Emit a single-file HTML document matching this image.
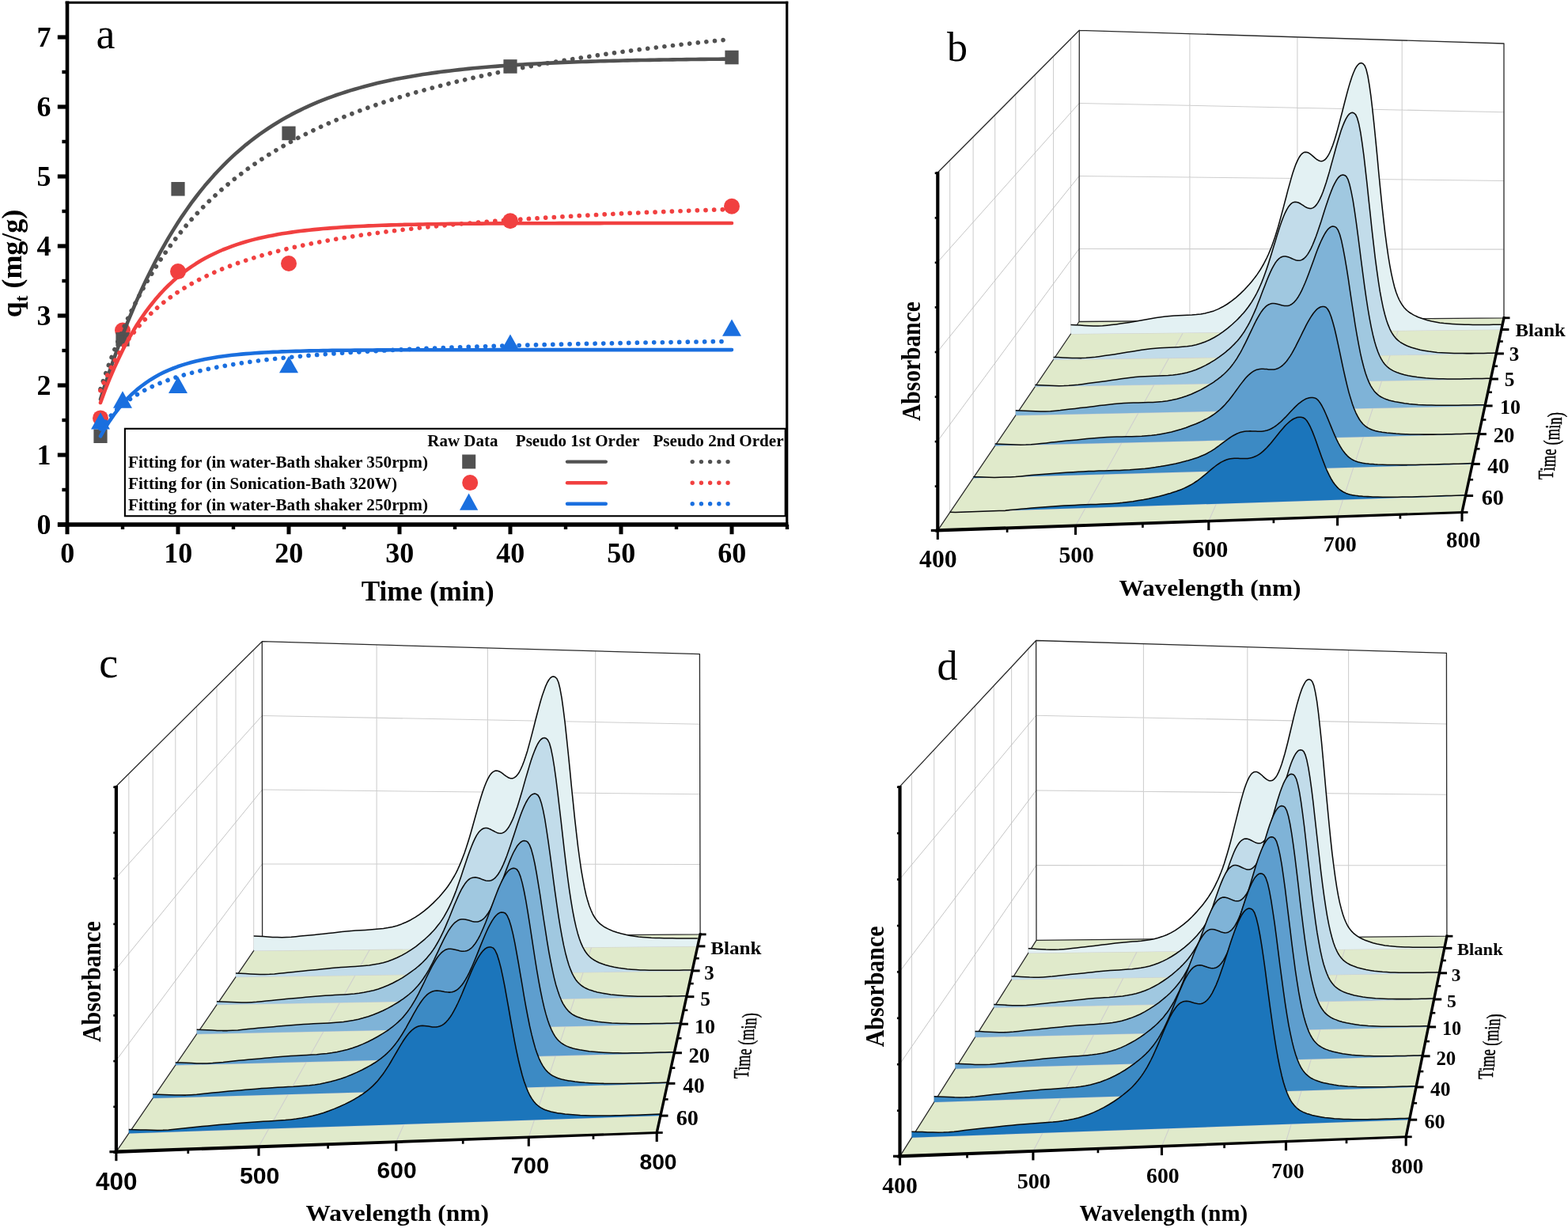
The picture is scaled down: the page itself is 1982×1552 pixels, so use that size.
<!DOCTYPE html>
<html lang="en"><head><meta charset="utf-8"><title>Adsorption kinetics and UV-Vis spectra</title>
<style>
html,body{margin:0;padding:0;background:#fff}
body{width:1982px;height:1552px;overflow:hidden}
svg{display:block}
.fs{font-family:"Liberation Serif","DejaVu Serif",serif}
.fa{font-family:"Liberation Sans","DejaVu Sans",sans-serif}
.b{font-weight:bold}
text{fill:#000}
</style></head><body>
<svg width="1982" height="1552" viewBox="0 0 1982 1552">
<rect width="1982" height="1552" fill="#fff"/>
<g id="panel-a">
<circle cx="127" cy="528.4" r="10" fill="#F14040"/>
<circle cx="155" cy="417.5" r="10" fill="#F14040"/>
<circle cx="225" cy="343.1" r="10" fill="#F14040"/>
<circle cx="365" cy="333" r="10" fill="#F14040"/>
<circle cx="645" cy="279.3" r="10" fill="#F14040"/>
<circle cx="925" cy="260.8" r="10" fill="#F14040"/>
<rect x="118.4" y="542.4" width="17.2" height="17.6" fill="#515151"/>
<rect x="146.4" y="420.1" width="17.2" height="17.6" fill="#515151"/>
<rect x="216.4" y="230" width="17.2" height="17.6" fill="#515151"/>
<rect x="356.4" y="159.6" width="17.2" height="17.6" fill="#515151"/>
<rect x="636.4" y="75.16" width="17.2" height="17.6" fill="#515151"/>
<rect x="916.4" y="63.72" width="17.2" height="17.6" fill="#515151"/>
<path d="M127 521.2 L139 542.6 L115 542.6 Z" fill="#1A6FDF"/>
<path d="M155 494.3 L167 515.7 L143 515.7 Z" fill="#1A6FDF"/>
<path d="M225 475.5 L237 496.9 L213 496.9 Z" fill="#1A6FDF"/>
<path d="M365 449.9 L377 471.3 L353 471.3 Z" fill="#1A6FDF"/>
<path d="M645 422.4 L657 443.8 L633 443.8 Z" fill="#1A6FDF"/>
<path d="M925 403.4 L937 424.8 L913 424.8 Z" fill="#1A6FDF"/>
<path d="M127 504.6 L132.7 486.5 L138.5 469.2 L144.2 452.7 L150 436.8 L155.7 421.6 L161.4 407 L167.2 393 L172.9 379.6 L178.7 366.8 L184.4 354.5 L190.2 342.8 L195.9 331.5 L201.6 320.7 L207.4 310.3 L213.1 300.4 L218.9 290.9 L224.6 281.8 L230.3 273.1 L236.1 264.7 L241.8 256.7 L247.6 249 L253.3 241.7 L259 234.6 L264.8 227.9 L270.5 221.4 L276.3 215.2 L282 209.3 L287.7 203.6 L293.5 198.1 L299.2 192.9 L305 187.9 L310.7 183.1 L316.5 178.5 L322.2 174.1 L327.9 169.9 L333.7 165.9 L339.4 162 L345.2 158.3 L350.9 154.7 L356.6 151.3 L362.4 148.1 L368.1 144.9 L373.9 141.9 L379.6 139.1 L385.3 136.3 L391.1 133.7 L396.8 131.2 L402.6 128.7 L408.3 126.4 L414.1 124.2 L419.8 122.1 L425.5 120 L431.3 118.1 L437 116.2 L442.8 114.4 L448.5 112.7 L454.2 111.1 L460 109.5 L465.7 108 L471.5 106.5 L477.2 105.1 L482.9 103.8 L488.7 102.5 L494.4 101.3 L500.2 100.1 L505.9 99.03 L511.6 97.96 L517.4 96.93 L523.1 95.94 L528.9 95 L534.6 94.09 L540.4 93.23 L546.1 92.4 L551.8 91.6 L557.6 90.84 L563.3 90.11 L569.1 89.41 L574.8 88.74 L580.5 88.1 L586.3 87.48 L592 86.89 L597.8 86.33 L603.5 85.79 L609.2 85.27 L615 84.77 L620.7 84.29 L626.5 83.84 L632.2 83.4 L637.9 82.98 L643.7 82.58 L649.4 82.2 L655.2 81.83 L660.9 81.48 L666.7 81.14 L672.4 80.81 L678.1 80.5 L683.9 80.21 L689.6 79.92 L695.4 79.65 L701.1 79.39 L706.8 79.14 L712.6 78.9 L718.3 78.67 L724.1 78.45 L729.8 78.23 L735.5 78.03 L741.3 77.84 L747 77.65 L752.8 77.47 L758.5 77.3 L764.3 77.14 L770 76.98 L775.7 76.83 L781.5 76.69 L787.2 76.55 L793 76.42 L798.7 76.29 L804.4 76.17 L810.2 76.06 L815.9 75.94 L821.7 75.84 L827.4 75.74 L833.1 75.64 L838.9 75.54 L844.6 75.45 L850.4 75.37 L856.1 75.29 L861.8 75.21 L867.6 75.13 L873.3 75.06 L879.1 74.99 L884.8 74.92 L890.6 74.86 L896.3 74.8 L902 74.74 L907.8 74.68 L913.5 74.63 L919.3 74.58 L925 74.53" fill="none" stroke="#515151" stroke-width="4.6" stroke-linejoin="round" stroke-linecap="round"/>
<path d="M127 491.8 L132.7 474.7 L138.4 458.7 L144.1 443.7 L149.8 429.5 L155.5 416.1 L161.2 403.4 L166.9 391.4 L172.6 380.1 L178.3 369.3 L184 359 L189.7 349.3 L195.3 340 L201 331.1 L206.7 322.6 L212.4 314.5 L218.1 306.7 L223.8 299.3 L229.5 292.2 L235.2 285.3 L240.9 278.7 L246.6 272.4 L252.3 266.4 L258 260.5 L263.7 254.9 L269.4 249.4 L275.1 244.2 L280.8 239.1 L286.5 234.3 L292.2 229.5 L297.9 225 L303.6 220.6 L309.3 216.3 L315 212.1 L320.7 208.1 L326.3 204.2 L332 200.5 L337.7 196.8 L343.4 193.2 L349.1 189.8 L354.8 186.4 L360.5 183.2 L366.2 180 L371.9 176.9 L377.6 173.9 L383.3 171 L389 168.1 L394.7 165.4 L400.4 162.7 L406.1 160 L411.8 157.5 L417.5 154.9 L423.2 152.5 L428.9 150.1 L434.6 147.8 L440.3 145.5 L446 143.3 L451.7 141.1 L457.3 139 L463 136.9 L468.7 134.9 L474.4 132.9 L480.1 130.9 L485.8 129 L491.5 127.2 L497.2 125.4 L502.9 123.6 L508.6 121.8 L514.3 120.1 L520 118.4 L525.7 116.8 L531.4 115.2 L537.1 113.6 L542.8 112 L548.5 110.5 L554.2 109 L559.9 107.6 L565.6 106.1 L571.3 104.7 L577 103.3 L582.7 102 L588.4 100.6 L594 99.32 L599.7 98.03 L605.4 96.77 L611.1 95.52 L616.8 94.3 L622.5 93.1 L628.2 91.92 L633.9 90.75 L639.6 89.61 L645.3 88.49 L651 87.38 L656.7 86.29 L662.4 85.22 L668.1 84.17 L673.8 83.13 L679.5 82.11 L685.2 81.11 L690.9 80.12 L696.6 79.14 L702.3 78.18 L708 77.24 L713.7 76.31 L719.4 75.39 L725 74.49 L730.7 73.6 L736.4 72.72 L742.1 71.86 L747.8 71.01 L753.5 70.17 L759.2 69.34 L764.9 68.52 L770.6 67.72 L776.3 66.92 L782 66.14 L787.7 65.37 L793.4 64.61 L799.1 63.85 L804.8 63.11 L810.5 62.38 L816.2 61.66 L821.9 60.95 L827.6 60.24 L833.3 59.55 L839 58.86 L844.7 58.19 L850.4 57.52 L856 56.86 L861.7 56.21 L867.4 55.57 L873.1 54.93 L878.8 54.3 L884.5 53.68 L890.2 53.07 L895.9 52.47 L901.6 51.87 L907.3 51.28 L913 50.7 L918.7 50.12" fill="none" stroke="#515151" stroke-width="5.7" stroke-dasharray="0.01 10.65" stroke-linecap="round" stroke-linejoin="round"/>
<path d="M127 509 L132.7 493.5 L138.5 479 L144.2 465.6 L150 453 L155.7 441.3 L161.4 430.4 L167.2 420.3 L172.9 410.8 L178.7 402 L184.4 393.8 L190.2 386.2 L195.9 379.1 L201.6 372.4 L207.4 366.2 L213.1 360.5 L218.9 355.1 L224.6 350.1 L230.3 345.5 L236.1 341.1 L241.8 337.1 L247.6 333.3 L253.3 329.8 L259 326.5 L264.8 323.5 L270.5 320.7 L276.3 318 L282 315.5 L287.7 313.3 L293.5 311.1 L299.2 309.1 L305 307.3 L310.7 305.5 L316.5 303.9 L322.2 302.4 L327.9 301 L333.7 299.7 L339.4 298.5 L345.2 297.4 L350.9 296.3 L356.6 295.3 L362.4 294.4 L368.1 293.6 L373.9 292.8 L379.6 292 L385.3 291.4 L391.1 290.7 L396.8 290.1 L402.6 289.6 L408.3 289 L414.1 288.6 L419.8 288.1 L425.5 287.7 L431.3 287.3 L437 286.9 L442.8 286.6 L448.5 286.3 L454.2 286 L460 285.7 L465.7 285.4 L471.5 285.2 L477.2 285 L482.9 284.8 L488.7 284.6 L494.4 284.4 L500.2 284.2 L505.9 284.1 L511.6 283.9 L517.4 283.8 L523.1 283.7 L528.9 283.6 L534.6 283.5 L540.4 283.3 L546.1 283.3 L551.8 283.2 L557.6 283.1 L563.3 283 L569.1 282.9 L574.8 282.9 L580.5 282.8 L586.3 282.7 L592 282.7 L597.8 282.6 L603.5 282.6 L609.2 282.6 L615 282.5 L620.7 282.5 L626.5 282.4 L632.2 282.4 L637.9 282.4 L643.7 282.3 L649.4 282.3 L655.2 282.3 L660.9 282.3 L666.7 282.3 L672.4 282.2 L678.1 282.2 L683.9 282.2 L689.6 282.2 L695.4 282.2 L701.1 282.2 L706.8 282.1 L712.6 282.1 L718.3 282.1 L724.1 282.1 L729.8 282.1 L735.5 282.1 L741.3 282.1 L747 282.1 L752.8 282.1 L758.5 282.1 L764.3 282 L770 282 L775.7 282 L781.5 282 L787.2 282 L793 282 L798.7 282 L804.4 282 L810.2 282 L815.9 282 L821.7 282 L827.4 282 L833.1 282 L838.9 282 L844.6 282 L850.4 282 L856.1 282 L861.8 282 L867.6 282 L873.3 282 L879.1 282 L884.8 282 L890.6 282 L896.3 282 L902 282 L907.8 282 L913.5 282 L919.3 282 L925 282" fill="none" stroke="#F14040" stroke-width="4.6" stroke-linejoin="round" stroke-linecap="round"/>
<path d="M127 493.6 L132.7 480.4 L138.4 468.5 L144.1 457.6 L149.8 447.8 L155.5 438.7 L161.2 430.4 L166.9 422.8 L172.6 415.7 L178.3 409.1 L184 403 L189.7 397.3 L195.3 392 L201 387 L206.7 382.3 L212.4 377.9 L218.1 373.7 L223.8 369.8 L229.5 366.1 L235.2 362.6 L240.9 359.3 L246.6 356.1 L252.3 353.1 L258 350.2 L263.7 347.5 L269.4 344.9 L275.1 342.4 L280.8 340 L286.5 337.8 L292.2 335.6 L297.9 333.5 L303.6 331.5 L309.3 329.6 L315 327.7 L320.7 325.9 L326.3 324.2 L332 322.6 L337.7 321 L343.4 319.4 L349.1 317.9 L354.8 316.5 L360.5 315.1 L366.2 313.8 L371.9 312.5 L377.6 311.2 L383.3 310 L389 308.8 L394.7 307.7 L400.4 306.6 L406.1 305.5 L411.8 304.5 L417.5 303.4 L423.2 302.5 L428.9 301.5 L434.6 300.6 L440.3 299.7 L446 298.8 L451.7 297.9 L457.3 297.1 L463 296.3 L468.7 295.5 L474.4 294.7 L480.1 294 L485.8 293.2 L491.5 292.5 L497.2 291.8 L502.9 291.1 L508.6 290.4 L514.3 289.8 L520 289.2 L525.7 288.5 L531.4 287.9 L537.1 287.3 L542.8 286.7 L548.5 286.2 L554.2 285.6 L559.9 285.1 L565.6 284.5 L571.3 284 L577 283.5 L582.7 283 L588.4 282.5 L594 282 L599.7 281.5 L605.4 281.1 L611.1 280.6 L616.8 280.2 L622.5 279.7 L628.2 279.3 L633.9 278.9 L639.6 278.5 L645.3 278.1 L651 277.7 L656.7 277.3 L662.4 276.9 L668.1 276.5 L673.8 276.1 L679.5 275.8 L685.2 275.4 L690.9 275 L696.6 274.7 L702.3 274.4 L708 274 L713.7 273.7 L719.4 273.4 L725 273 L730.7 272.7 L736.4 272.4 L742.1 272.1 L747.8 271.8 L753.5 271.5 L759.2 271.2 L764.9 270.9 L770.6 270.7 L776.3 270.4 L782 270.1 L787.7 269.8 L793.4 269.6 L799.1 269.3 L804.8 269.1 L810.5 268.8 L816.2 268.5 L821.9 268.3 L827.6 268.1 L833.3 267.8 L839 267.6 L844.7 267.3 L850.4 267.1 L856 266.9 L861.7 266.7 L867.4 266.4 L873.1 266.2 L878.8 266 L884.5 265.8 L890.2 265.6 L895.9 265.4 L901.6 265.2 L907.3 265 L913 264.8 L918.7 264.6" fill="none" stroke="#F14040" stroke-width="5.7" stroke-dasharray="0.01 10.65" stroke-linecap="round" stroke-linejoin="round"/>
<path d="M127 551.3 L132.7 541.2 L138.5 532.1 L144.2 523.9 L150 516.3 L155.7 509.5 L161.4 503.3 L167.2 497.7 L172.9 492.6 L178.7 488 L184.4 483.8 L190.2 479.9 L195.9 476.5 L201.6 473.3 L207.4 470.4 L213.1 467.8 L218.9 465.5 L224.6 463.3 L230.3 461.4 L236.1 459.6 L241.8 458 L247.6 456.5 L253.3 455.2 L259 454 L264.8 452.9 L270.5 451.9 L276.3 451 L282 450.2 L287.7 449.5 L293.5 448.8 L299.2 448.2 L305 447.6 L310.7 447.1 L316.5 446.7 L322.2 446.2 L327.9 445.9 L333.7 445.5 L339.4 445.2 L345.2 444.9 L350.9 444.7 L356.6 444.4 L362.4 444.2 L368.1 444 L373.9 443.9 L379.6 443.7 L385.3 443.5 L391.1 443.4 L396.8 443.3 L402.6 443.2 L408.3 443.1 L414.1 443 L419.8 442.9 L425.5 442.8 L431.3 442.8 L437 442.7 L442.8 442.7 L448.5 442.6 L454.2 442.6 L460 442.5 L465.7 442.5 L471.5 442.5 L477.2 442.4 L482.9 442.4 L488.7 442.4 L494.4 442.3 L500.2 442.3 L505.9 442.3 L511.6 442.3 L517.4 442.3 L523.1 442.3 L528.9 442.2 L534.6 442.2 L540.4 442.2 L546.1 442.2 L551.8 442.2 L557.6 442.2 L563.3 442.2 L569.1 442.2 L574.8 442.2 L580.5 442.2 L586.3 442.2 L592 442.2 L597.8 442.2 L603.5 442.2 L609.2 442.2 L615 442.2 L620.7 442.1 L626.5 442.1 L632.2 442.1 L637.9 442.1 L643.7 442.1 L649.4 442.1 L655.2 442.1 L660.9 442.1 L666.7 442.1 L672.4 442.1 L678.1 442.1 L683.9 442.1 L689.6 442.1 L695.4 442.1 L701.1 442.1 L706.8 442.1 L712.6 442.1 L718.3 442.1 L724.1 442.1 L729.8 442.1 L735.5 442.1 L741.3 442.1 L747 442.1 L752.8 442.1 L758.5 442.1 L764.3 442.1 L770 442.1 L775.7 442.1 L781.5 442.1 L787.2 442.1 L793 442.1 L798.7 442.1 L804.4 442.1 L810.2 442.1 L815.9 442.1 L821.7 442.1 L827.4 442.1 L833.1 442.1 L838.9 442.1 L844.6 442.1 L850.4 442.1 L856.1 442.1 L861.8 442.1 L867.6 442.1 L873.3 442.1 L879.1 442.1 L884.8 442.1 L890.6 442.1 L896.3 442.1 L902 442.1 L907.8 442.1 L913.5 442.1 L919.3 442.1 L925 442.1" fill="none" stroke="#1A6FDF" stroke-width="4.6" stroke-linejoin="round" stroke-linecap="round"/>
<path d="M127 541.8 L132.7 534.1 L138.4 527.3 L144.1 521.2 L149.8 515.8 L155.5 511 L161.2 506.6 L166.9 502.6 L172.6 499 L178.3 495.6 L184 492.6 L189.7 489.8 L195.3 487.1 L201 484.7 L206.7 482.5 L212.4 480.4 L218.1 478.4 L223.8 476.5 L229.5 474.8 L235.2 473.2 L240.9 471.6 L246.6 470.2 L252.3 468.8 L258 467.5 L263.7 466.3 L269.4 465.1 L275.1 464 L280.8 463 L286.5 461.9 L292.2 461 L297.9 460.1 L303.6 459.2 L309.3 458.3 L315 457.5 L320.7 456.8 L326.3 456 L332 455.3 L337.7 454.6 L343.4 454 L349.1 453.3 L354.8 452.7 L360.5 452.1 L366.2 451.5 L371.9 451 L377.6 450.5 L383.3 449.9 L389 449.4 L394.7 449 L400.4 448.5 L406.1 448.1 L411.8 447.6 L417.5 447.2 L423.2 446.8 L428.9 446.4 L434.6 446 L440.3 445.6 L446 445.3 L451.7 444.9 L457.3 444.6 L463 444.2 L468.7 443.9 L474.4 443.6 L480.1 443.3 L485.8 443 L491.5 442.7 L497.2 442.4 L502.9 442.1 L508.6 441.8 L514.3 441.6 L520 441.3 L525.7 441 L531.4 440.8 L537.1 440.5 L542.8 440.3 L548.5 440.1 L554.2 439.9 L559.9 439.6 L565.6 439.4 L571.3 439.2 L577 439 L582.7 438.8 L588.4 438.6 L594 438.4 L599.7 438.2 L605.4 438 L611.1 437.8 L616.8 437.7 L622.5 437.5 L628.2 437.3 L633.9 437.1 L639.6 437 L645.3 436.8 L651 436.7 L656.7 436.5 L662.4 436.3 L668.1 436.2 L673.8 436 L679.5 435.9 L685.2 435.8 L690.9 435.6 L696.6 435.5 L702.3 435.3 L708 435.2 L713.7 435.1 L719.4 434.9 L725 434.8 L730.7 434.7 L736.4 434.6 L742.1 434.4 L747.8 434.3 L753.5 434.2 L759.2 434.1 L764.9 434 L770.6 433.9 L776.3 433.8 L782 433.7 L787.7 433.5 L793.4 433.4 L799.1 433.3 L804.8 433.2 L810.5 433.1 L816.2 433 L821.9 432.9 L827.6 432.8 L833.3 432.8 L839 432.7 L844.7 432.6 L850.4 432.5 L856 432.4 L861.7 432.3 L867.4 432.2 L873.1 432.1 L878.8 432 L884.5 432 L890.2 431.9 L895.9 431.8 L901.6 431.7 L907.3 431.6 L913 431.6 L918.7 431.5" fill="none" stroke="#1A6FDF" stroke-width="5.7" stroke-dasharray="0.01 10.65" stroke-linecap="round" stroke-linejoin="round"/>
<rect x="157.9" y="541.8" width="834.8" height="110.4" fill="#fff" stroke="#000" stroke-width="2.1"/>
<text class="fs b" x="540.3" y="564.3" font-size="21.3" textLength="89.2" lengthAdjust="spacingAndGlyphs">Raw Data</text>
<text class="fs b" x="651.8" y="564.3" font-size="21.3" textLength="156.5" lengthAdjust="spacingAndGlyphs">Pseudo 1st Order</text>
<text class="fs b" x="825.5" y="564.3" font-size="21.3" textLength="165" lengthAdjust="spacingAndGlyphs">Pseudo 2nd Order</text>
<text class="fs b" x="162" y="591.3" font-size="21.3" textLength="379" lengthAdjust="spacingAndGlyphs">Fitting for (in water-Bath shaker 350rpm)</text>
<line x1="717" y1="583.6" x2="765.8" y2="583.6" stroke="#515151" stroke-width="4.4" stroke-linecap="round"/>
<path d="M875.2 583.6 L921 583.6" fill="none" stroke="#515151" stroke-width="5.4" stroke-dasharray="0.01 11.2" stroke-linecap="round"/>
<text class="fs b" x="162" y="618" font-size="21.3" textLength="340" lengthAdjust="spacingAndGlyphs">Fitting for (in Sonication-Bath 320W)</text>
<line x1="717" y1="610.2" x2="765.8" y2="610.2" stroke="#F14040" stroke-width="4.4" stroke-linecap="round"/>
<path d="M875.2 610.2 L921 610.2" fill="none" stroke="#F14040" stroke-width="5.4" stroke-dasharray="0.01 11.2" stroke-linecap="round"/>
<text class="fs b" x="162" y="645" font-size="21.3" textLength="379" lengthAdjust="spacingAndGlyphs">Fitting for (in water-Bath shaker 250rpm)</text>
<line x1="717" y1="636.8" x2="765.8" y2="636.8" stroke="#1A6FDF" stroke-width="4.4" stroke-linecap="round"/>
<path d="M875.2 636.8 L921 636.8" fill="none" stroke="#1A6FDF" stroke-width="5.4" stroke-dasharray="0.01 11.2" stroke-linecap="round"/>
<rect x="584.2" y="574.5" width="17" height="17.9" fill="#515151"/>
<circle cx="594.2" cy="610.1" r="10" fill="#F14040"/>
<path d="M592.6 623.6 L604.2 644.7 L581 644.7 Z" fill="#1A6FDF"/>
<line x1="85" y1="1.5" x2="85" y2="665.7" stroke="#000" stroke-width="4.6"/>
<line x1="82.7" y1="3.2" x2="996.2" y2="3.2" stroke="#000" stroke-width="3"/>
<line x1="994.7" y1="1.7" x2="994.7" y2="665.7" stroke="#000" stroke-width="3.2"/>
<line x1="73" y1="663" x2="996.3" y2="663" stroke="#000" stroke-width="5.6"/>
<line x1="85" y1="663" x2="85" y2="675.2" stroke="#000" stroke-width="5"/>
<line x1="155" y1="663" x2="155" y2="669" stroke="#000" stroke-width="4.4"/>
<line x1="225" y1="663" x2="225" y2="675.2" stroke="#000" stroke-width="5"/>
<line x1="295" y1="663" x2="295" y2="669" stroke="#000" stroke-width="4.4"/>
<line x1="365" y1="663" x2="365" y2="675.2" stroke="#000" stroke-width="5"/>
<line x1="435" y1="663" x2="435" y2="669" stroke="#000" stroke-width="4.4"/>
<line x1="505" y1="663" x2="505" y2="675.2" stroke="#000" stroke-width="5"/>
<line x1="575" y1="663" x2="575" y2="669" stroke="#000" stroke-width="4.4"/>
<line x1="645" y1="663" x2="645" y2="675.2" stroke="#000" stroke-width="5"/>
<line x1="715" y1="663" x2="715" y2="669" stroke="#000" stroke-width="4.4"/>
<line x1="785" y1="663" x2="785" y2="675.2" stroke="#000" stroke-width="5"/>
<line x1="855" y1="663" x2="855" y2="669" stroke="#000" stroke-width="4.4"/>
<line x1="925" y1="663" x2="925" y2="675.2" stroke="#000" stroke-width="5"/>
<line x1="995" y1="663" x2="995" y2="669" stroke="#000" stroke-width="4.4"/>
<line x1="72.8" y1="663" x2="85" y2="663" stroke="#000" stroke-width="5.2"/>
<line x1="78.4" y1="619" x2="85" y2="619" stroke="#000" stroke-width="4.4"/>
<line x1="72.8" y1="575" x2="85" y2="575" stroke="#000" stroke-width="5.2"/>
<line x1="78.4" y1="531" x2="85" y2="531" stroke="#000" stroke-width="4.4"/>
<line x1="72.8" y1="487" x2="85" y2="487" stroke="#000" stroke-width="5.2"/>
<line x1="78.4" y1="443" x2="85" y2="443" stroke="#000" stroke-width="4.4"/>
<line x1="72.8" y1="399" x2="85" y2="399" stroke="#000" stroke-width="5.2"/>
<line x1="78.4" y1="355" x2="85" y2="355" stroke="#000" stroke-width="4.4"/>
<line x1="72.8" y1="311" x2="85" y2="311" stroke="#000" stroke-width="5.2"/>
<line x1="78.4" y1="267" x2="85" y2="267" stroke="#000" stroke-width="4.4"/>
<line x1="72.8" y1="223" x2="85" y2="223" stroke="#000" stroke-width="5.2"/>
<line x1="78.4" y1="179" x2="85" y2="179" stroke="#000" stroke-width="4.4"/>
<line x1="72.8" y1="135" x2="85" y2="135" stroke="#000" stroke-width="5.2"/>
<line x1="78.4" y1="91" x2="85" y2="91" stroke="#000" stroke-width="4.4"/>
<line x1="72.8" y1="47" x2="85" y2="47" stroke="#000" stroke-width="5.2"/>
<text class="fs b" x="85.3" y="711.4" font-size="36" text-anchor="middle">0</text>
<text class="fs b" x="225.3" y="711.4" font-size="36" text-anchor="middle">10</text>
<text class="fs b" x="365.3" y="711.4" font-size="36" text-anchor="middle">20</text>
<text class="fs b" x="505.3" y="711.4" font-size="36" text-anchor="middle">30</text>
<text class="fs b" x="645.3" y="711.4" font-size="36" text-anchor="middle">40</text>
<text class="fs b" x="785.3" y="711.4" font-size="36" text-anchor="middle">50</text>
<text class="fs b" x="925.3" y="711.4" font-size="36" text-anchor="middle">60</text>
<text class="fs b" x="64.6" y="674.8" font-size="36" text-anchor="end">0</text>
<text class="fs b" x="64.6" y="586.8" font-size="36" text-anchor="end">1</text>
<text class="fs b" x="64.6" y="498.8" font-size="36" text-anchor="end">2</text>
<text class="fs b" x="64.6" y="410.8" font-size="36" text-anchor="end">3</text>
<text class="fs b" x="64.6" y="322.8" font-size="36" text-anchor="end">4</text>
<text class="fs b" x="64.6" y="234.8" font-size="36" text-anchor="end">5</text>
<text class="fs b" x="64.6" y="146.8" font-size="36" text-anchor="end">6</text>
<text class="fs b" x="64.6" y="58.8" font-size="36" text-anchor="end">7</text>
<text class="fs b" x="456.8" y="759.4" font-size="36" textLength="168" lengthAdjust="spacingAndGlyphs">Time (min)</text>
<text class="fs b" transform="translate(26.9 401.2) rotate(-90)" font-size="36" textLength="136.5" lengthAdjust="spacingAndGlyphs">q<tspan font-size="23" dy="8.5">t</tspan><tspan dy="-8.5"> (mg/g)</tspan></text>
<text class="fs" x="121.5" y="61" font-size="54">a</text>
</g>
<g id="panel-b">
<path d="M1185.3 670.4 L1848 647.5 L1901 401.8 L1364 406.5 Z" fill="#E0EACB" stroke="none" stroke-width="1"/>
<path d="M1503.9 405.3L1503.9 42.64M1359.5 664.4L1503.9 405.3M1639.9 404.1L1639.9 46.88M1527.8 658.6L1639.9 404.1M1772.2 402.9L1772.2 50.99M1690.6 652.9L1772.2 402.9M1364.1 314.4L1901 315.1M1364.2 222.4L1901 228.4M1364.2 130.4L1901 141.7M1200.7 647.6L1200.7 202.5M1200.7 647.6L1852.5 626.5M1230.1 604.2L1230.1 173M1230.1 604.2L1861.2 586.4M1257.7 563.4L1257.7 145.3M1257.7 563.4L1869.3 548.6M1283.8 525L1283.8 119.2M1283.8 525L1877 512.9M1308.3 488.7L1308.3 94.51M1308.3 488.7L1884.3 479M1331.5 454.5L1331.5 71.22M1331.5 454.5L1891.3 446.9M1353.5 422.1L1353.5 49.18M1353.5 422.1L1897.8 416.5" stroke="#CECECE" stroke-width="1.05" fill="none"/>
<path d="M1185.3 557.3L1364.1 314.4M1185.3 444.2L1364.2 222.4M1185.3 331.1L1364.2 130.4" stroke="#BDBDBD" stroke-width="0.9" fill="none"/>
<path d="M1185.3 218L1364.3 38.3M1364.3 38.3L1901 55M1364.3 38.3L1364 406.5M1901 55L1901 401.8M1364 406.5L1901 401.8M1185.3 670.4L1364 406.5" stroke="#2a2a2a" stroke-width="1.3" fill="none" stroke-linecap="round"/>
<path d="M1353.5 410.4 L1359.2 410.7 L1365 411 L1370.7 411.4 L1376.4 411.7 L1382.2 411.9 L1387.9 411.9 L1393.6 411.7 L1399.3 411.2 L1405 410.6 L1410.7 409.9 L1416.4 409.1 L1422.1 408.3 L1427.7 407.4 L1433.4 406.5 L1439.1 405.5 L1444.7 404.5 L1450.4 403.5 L1456 402.5 L1461.7 401.5 L1467.3 400.7 L1472.9 400 L1478.5 399.4 L1484.1 399 L1489.7 398.7 L1495.3 398.4 L1500.9 398.2 L1506.5 398 L1512.1 397.6 L1517.7 396.9 L1523.2 396 L1528.8 394.6 L1534.4 392.9 L1539.9 390.6 L1545.4 387.8 L1551 384.5 L1556.5 380.6 L1562 376.3 L1567.6 371.4 L1573.1 366 L1578.6 360 L1580.6 357.7 L1582.7 355.2 L1584.7 352.6 L1586.8 349.9 L1588.9 347.1 L1590.9 344.1 L1593 341 L1595 337.6 L1597.1 334 L1599.1 330.2 L1601.2 326 L1603.3 321.5 L1605.3 316.7 L1607.4 311.5 L1609.4 305.9 L1611.5 299.9 L1613.5 293.4 L1615.6 286.7 L1617.6 279.5 L1619.6 272.1 L1621.7 264.4 L1623.7 256.6 L1625.8 248.7 L1627.8 240.9 L1629.9 233.4 L1631.9 226.1 L1633.9 219.3 L1636 213.1 L1638 207.6 L1640.1 202.9 L1642.1 199 L1644.1 196 L1646.2 193.9 L1648.2 192.6 L1650.2 192.2 L1652.3 192.5 L1654.3 193.3 L1656.3 194.7 L1658.4 196.3 L1660.4 198.1 L1662.4 199.9 L1664.4 201.5 L1666.5 202.7 L1668.5 203.5 L1670.5 203.7 L1672.5 203.2 L1674.6 202 L1676.6 199.9 L1678.6 197 L1680.6 193.3 L1682.6 188.8 L1684.7 183.5 L1686.7 177.6 L1688.7 171 L1690.7 163.9 L1692.7 156.4 L1694.7 148.7 L1696.8 140.8 L1698.8 132.8 L1700.8 125 L1702.8 117.4 L1704.8 110.1 L1706.8 103.4 L1708.8 97.33 L1710.8 91.97 L1712.8 87.46 L1714.8 83.9 L1716.9 81.37 L1718.9 79.93 L1720.9 79.64 L1722.9 80.55 L1724.9 82.67 L1726.9 87.45 L1728.9 95.74 L1730.9 107.3 L1732.9 121.7 L1734.9 138.6 L1736.9 157.3 L1738.9 177.3 L1740.9 197.9 L1742.8 218.8 L1744.8 239.2 L1746.8 258.8 L1748.8 277.2 L1750.8 294.3 L1752.8 309.7 L1754.8 323.5 L1756.8 335.6 L1758.8 346.1 L1760.8 355.1 L1762.7 362.8 L1764.7 369.2 L1766.7 374.5 L1768.7 379 L1770.7 382.7 L1772.7 385.8 L1774.6 388.4 L1776.6 390.6 L1778.6 392.5 L1780.6 394.1 L1782.6 395.5 L1784.5 396.7 L1786.5 397.9 L1788.5 398.9 L1790.5 399.8 L1792.4 400.7 L1793.8 401.2 L1799 403.1 L1804.3 404.7 L1809.5 406 L1814.8 407 L1820 407.9 L1825.2 408.6 L1830.4 409.1 L1835.7 409.5 L1840.9 409.8 L1846.1 410 L1851.3 410.2 L1856.5 410.3 L1861.7 410.4 L1866.9 410.4 L1872 410.4 L1877.2 410.4 L1882.4 410.4 L1887.5 410.3 L1892.7 410.3 L1897.8 410.3 L1897.8 416.5 L1353.5 422.1 Z" fill="#E3F1F3" stroke="none" stroke-width="1"/>
<path d="M1353.5 410.4 L1359.2 410.7 L1365 411 L1370.7 411.4 L1376.4 411.7 L1382.2 411.9 L1387.9 411.9 L1393.6 411.7 L1399.3 411.2 L1405 410.6 L1410.7 409.9 L1416.4 409.1 L1422.1 408.3 L1427.7 407.4 L1433.4 406.5 L1439.1 405.5 L1444.7 404.5 L1450.4 403.5 L1456 402.5 L1461.7 401.5 L1467.3 400.7 L1472.9 400 L1478.5 399.4 L1484.1 399 L1489.7 398.7 L1495.3 398.4 L1500.9 398.2 L1506.5 398 L1512.1 397.6 L1517.7 396.9 L1523.2 396 L1528.8 394.6 L1534.4 392.9 L1539.9 390.6 L1545.4 387.8 L1551 384.5 L1556.5 380.6 L1562 376.3 L1567.6 371.4 L1573.1 366 L1578.6 360 L1580.6 357.7 L1582.7 355.2 L1584.7 352.6 L1586.8 349.9 L1588.9 347.1 L1590.9 344.1 L1593 341 L1595 337.6 L1597.1 334 L1599.1 330.2 L1601.2 326 L1603.3 321.5 L1605.3 316.7 L1607.4 311.5 L1609.4 305.9 L1611.5 299.9 L1613.5 293.4 L1615.6 286.7 L1617.6 279.5 L1619.6 272.1 L1621.7 264.4 L1623.7 256.6 L1625.8 248.7 L1627.8 240.9 L1629.9 233.4 L1631.9 226.1 L1633.9 219.3 L1636 213.1 L1638 207.6 L1640.1 202.9 L1642.1 199 L1644.1 196 L1646.2 193.9 L1648.2 192.6 L1650.2 192.2 L1652.3 192.5 L1654.3 193.3 L1656.3 194.7 L1658.4 196.3 L1660.4 198.1 L1662.4 199.9 L1664.4 201.5 L1666.5 202.7 L1668.5 203.5 L1670.5 203.7 L1672.5 203.2 L1674.6 202 L1676.6 199.9 L1678.6 197 L1680.6 193.3 L1682.6 188.8 L1684.7 183.5 L1686.7 177.6 L1688.7 171 L1690.7 163.9 L1692.7 156.4 L1694.7 148.7 L1696.8 140.8 L1698.8 132.8 L1700.8 125 L1702.8 117.4 L1704.8 110.1 L1706.8 103.4 L1708.8 97.33 L1710.8 91.97 L1712.8 87.46 L1714.8 83.9 L1716.9 81.37 L1718.9 79.93 L1720.9 79.64 L1722.9 80.55 L1724.9 82.67 L1726.9 87.45 L1728.9 95.74 L1730.9 107.3 L1732.9 121.7 L1734.9 138.6 L1736.9 157.3 L1738.9 177.3 L1740.9 197.9 L1742.8 218.8 L1744.8 239.2 L1746.8 258.8 L1748.8 277.2 L1750.8 294.3 L1752.8 309.7 L1754.8 323.5 L1756.8 335.6 L1758.8 346.1 L1760.8 355.1 L1762.7 362.8 L1764.7 369.2 L1766.7 374.5 L1768.7 379 L1770.7 382.7 L1772.7 385.8 L1774.6 388.4 L1776.6 390.6 L1778.6 392.5 L1780.6 394.1 L1782.6 395.5 L1784.5 396.7 L1786.5 397.9 L1788.5 398.9 L1790.5 399.8 L1792.4 400.7 L1793.8 401.2 L1799 403.1 L1804.3 404.7 L1809.5 406 L1814.8 407 L1820 407.9 L1825.2 408.6 L1830.4 409.1 L1835.7 409.5 L1840.9 409.8 L1846.1 410 L1851.3 410.2 L1856.5 410.3 L1861.7 410.4 L1866.9 410.4 L1872 410.4 L1877.2 410.4 L1882.4 410.4 L1887.5 410.3 L1892.7 410.3 L1897.8 410.3" fill="none" stroke="#0a0a0a" stroke-width="1.55" stroke-linejoin="round"/>
<path d="M1331.5 451.4 L1337.4 451.6 L1343.4 451.9 L1349.3 452.2 L1355.2 452.5 L1361.1 452.6 L1367 452.6 L1372.8 452.3 L1378.7 451.8 L1384.6 451.2 L1390.4 450.4 L1396.3 449.6 L1402.2 448.8 L1408 447.9 L1413.8 447 L1419.7 446.1 L1425.5 445.1 L1431.3 444.2 L1437.1 443.2 L1442.9 442.3 L1448.7 441.4 L1454.5 440.7 L1460.3 440.2 L1466 439.8 L1471.8 439.4 L1477.6 439.2 L1483.3 439 L1489.1 438.7 L1494.8 438.3 L1500.5 437.8 L1506.3 436.9 L1512 435.7 L1517.7 434.1 L1523.4 432 L1529.1 429.5 L1534.8 426.5 L1540.5 423.1 L1546.2 419.2 L1551.8 414.8 L1557.5 410 L1563.2 404.7 L1565.3 402.6 L1567.4 400.4 L1569.5 398.1 L1571.7 395.7 L1573.8 393.2 L1575.9 390.5 L1578 387.7 L1580.1 384.7 L1582.2 381.6 L1584.3 378.1 L1586.5 374.4 L1588.6 370.5 L1590.7 366.2 L1592.8 361.5 L1594.9 356.6 L1597 351.2 L1599.1 345.5 L1601.2 339.5 L1603.3 333.2 L1605.4 326.6 L1607.5 319.8 L1609.6 312.8 L1611.7 305.9 L1613.8 299 L1615.9 292.2 L1618 285.8 L1620.1 279.8 L1622.2 274.2 L1624.3 269.3 L1626.4 265.1 L1628.5 261.6 L1630.6 258.9 L1632.7 256.9 L1634.8 255.7 L1636.9 255.2 L1639 255.4 L1641.1 256 L1643.1 257 L1645.2 258.3 L1647.3 259.7 L1649.4 261.1 L1651.5 262.2 L1653.6 263.1 L1655.6 263.5 L1657.7 263.4 L1659.8 262.6 L1661.9 261.1 L1664 258.9 L1666 255.9 L1668.1 252.2 L1670.2 247.7 L1672.3 242.5 L1674.3 236.7 L1676.4 230.4 L1678.5 223.6 L1680.6 216.4 L1682.6 208.9 L1684.7 201.4 L1686.8 193.8 L1688.8 186.3 L1690.9 179 L1693 172.1 L1695 165.6 L1697.1 159.8 L1699.2 154.6 L1701.2 150.3 L1703.3 146.8 L1705.4 144.2 L1707.4 142.8 L1709.5 142.3 L1711.5 143 L1713.6 144.9 L1715.6 149.2 L1717.7 156.8 L1719.8 167.5 L1721.8 180.8 L1723.9 196.4 L1725.9 213.8 L1728 232.4 L1730 251.6 L1732.1 270.9 L1734.1 289.9 L1736.2 308.2 L1738.2 325.3 L1740.3 341.1 L1742.3 355.4 L1744.3 368.2 L1746.4 379.4 L1748.4 389.1 L1750.5 397.5 L1752.5 404.5 L1754.6 410.4 L1756.6 415.3 L1758.6 419.4 L1760.7 422.8 L1762.7 425.6 L1764.7 427.9 L1766.8 429.9 L1768.8 431.5 L1770.8 433 L1772.9 434.2 L1774.9 435.3 L1776.9 436.3 L1779 437.2 L1781 438 L1783 438.7 L1784.4 439.2 L1789.8 440.8 L1795.2 442.2 L1800.6 443.2 L1805.9 444.1 L1811.3 444.8 L1816.7 445.4 L1822.1 445.8 L1827.4 446.1 L1832.8 446.3 L1838.1 446.5 L1843.5 446.5 L1848.8 446.6 L1854.1 446.6 L1859.5 446.6 L1864.8 446.5 L1870.1 446.5 L1875.4 446.4 L1880.7 446.3 L1886 446.2 L1891.3 446.1 L1891.3 446.9 L1331.5 454.5 Z" fill="#C2DCEA" stroke="none" stroke-width="1"/>
<path d="M1331.5 451.4 L1337.4 451.6 L1343.4 451.9 L1349.3 452.2 L1355.2 452.5 L1361.1 452.6 L1367 452.6 L1372.8 452.3 L1378.7 451.8 L1384.6 451.2 L1390.4 450.4 L1396.3 449.6 L1402.2 448.8 L1408 447.9 L1413.8 447 L1419.7 446.1 L1425.5 445.1 L1431.3 444.2 L1437.1 443.2 L1442.9 442.3 L1448.7 441.4 L1454.5 440.7 L1460.3 440.2 L1466 439.8 L1471.8 439.4 L1477.6 439.2 L1483.3 439 L1489.1 438.7 L1494.8 438.3 L1500.5 437.8 L1506.3 436.9 L1512 435.7 L1517.7 434.1 L1523.4 432 L1529.1 429.5 L1534.8 426.5 L1540.5 423.1 L1546.2 419.2 L1551.8 414.8 L1557.5 410 L1563.2 404.7 L1565.3 402.6 L1567.4 400.4 L1569.5 398.1 L1571.7 395.7 L1573.8 393.2 L1575.9 390.5 L1578 387.7 L1580.1 384.7 L1582.2 381.6 L1584.3 378.1 L1586.5 374.4 L1588.6 370.5 L1590.7 366.2 L1592.8 361.5 L1594.9 356.6 L1597 351.2 L1599.1 345.5 L1601.2 339.5 L1603.3 333.2 L1605.4 326.6 L1607.5 319.8 L1609.6 312.8 L1611.7 305.9 L1613.8 299 L1615.9 292.2 L1618 285.8 L1620.1 279.8 L1622.2 274.2 L1624.3 269.3 L1626.4 265.1 L1628.5 261.6 L1630.6 258.9 L1632.7 256.9 L1634.8 255.7 L1636.9 255.2 L1639 255.4 L1641.1 256 L1643.1 257 L1645.2 258.3 L1647.3 259.7 L1649.4 261.1 L1651.5 262.2 L1653.6 263.1 L1655.6 263.5 L1657.7 263.4 L1659.8 262.6 L1661.9 261.1 L1664 258.9 L1666 255.9 L1668.1 252.2 L1670.2 247.7 L1672.3 242.5 L1674.3 236.7 L1676.4 230.4 L1678.5 223.6 L1680.6 216.4 L1682.6 208.9 L1684.7 201.4 L1686.8 193.8 L1688.8 186.3 L1690.9 179 L1693 172.1 L1695 165.6 L1697.1 159.8 L1699.2 154.6 L1701.2 150.3 L1703.3 146.8 L1705.4 144.2 L1707.4 142.8 L1709.5 142.3 L1711.5 143 L1713.6 144.9 L1715.6 149.2 L1717.7 156.8 L1719.8 167.5 L1721.8 180.8 L1723.9 196.4 L1725.9 213.8 L1728 232.4 L1730 251.6 L1732.1 270.9 L1734.1 289.9 L1736.2 308.2 L1738.2 325.3 L1740.3 341.1 L1742.3 355.4 L1744.3 368.2 L1746.4 379.4 L1748.4 389.1 L1750.5 397.5 L1752.5 404.5 L1754.6 410.4 L1756.6 415.3 L1758.6 419.4 L1760.7 422.8 L1762.7 425.6 L1764.7 427.9 L1766.8 429.9 L1768.8 431.5 L1770.8 433 L1772.9 434.2 L1774.9 435.3 L1776.9 436.3 L1779 437.2 L1781 438 L1783 438.7 L1784.4 439.2 L1789.8 440.8 L1795.2 442.2 L1800.6 443.2 L1805.9 444.1 L1811.3 444.8 L1816.7 445.4 L1822.1 445.8 L1827.4 446.1 L1832.8 446.3 L1838.1 446.5 L1843.5 446.5 L1848.8 446.6 L1854.1 446.6 L1859.5 446.6 L1864.8 446.5 L1870.1 446.5 L1875.4 446.4 L1880.7 446.3 L1886 446.2 L1891.3 446.1" fill="none" stroke="#0a0a0a" stroke-width="1.55" stroke-linejoin="round"/>
<path d="M1308.3 486.5 L1314.4 486.7 L1320.5 487 L1326.6 487.3 L1332.7 487.5 L1338.8 487.7 L1344.8 487.6 L1350.9 487.3 L1357 486.8 L1363 486.2 L1369.1 485.4 L1375.1 484.6 L1381.1 483.8 L1387.1 483 L1393.1 482.2 L1399.1 481.4 L1405.1 480.5 L1411.1 479.7 L1417.1 478.8 L1423.1 478 L1429.1 477.3 L1435 476.6 L1441 476.1 L1446.9 475.7 L1452.9 475.5 L1458.8 475.2 L1464.7 475 L1470.6 474.8 L1476.5 474.5 L1482.5 474 L1488.3 473.3 L1494.2 472.3 L1500.1 470.9 L1506 469.3 L1511.9 467.2 L1517.7 464.7 L1523.6 461.9 L1529.4 458.7 L1535.3 455.1 L1541.1 451.1 L1546.9 446.8 L1549.1 445.1 L1551.3 443.2 L1553.5 441.4 L1555.7 439.4 L1557.8 437.3 L1560 435.1 L1562.2 432.8 L1564.4 430.4 L1566.6 427.8 L1568.7 425 L1570.9 421.9 L1573.1 418.7 L1575.2 415.2 L1577.4 411.4 L1579.6 407.3 L1581.8 402.9 L1583.9 398.3 L1586.1 393.4 L1588.3 388.2 L1590.4 382.8 L1592.6 377.2 L1594.7 371.5 L1596.9 365.8 L1599.1 360.2 L1601.2 354.7 L1603.4 349.4 L1605.6 344.4 L1607.7 339.9 L1609.9 335.8 L1612 332.3 L1614.2 329.4 L1616.3 327.2 L1618.5 325.5 L1620.6 324.5 L1622.8 324 L1624.9 324 L1627.1 324.4 L1629.2 325.1 L1631.4 326 L1633.5 327 L1635.7 327.9 L1637.8 328.7 L1640 329.2 L1642.1 329.3 L1644.2 328.9 L1646.4 328 L1648.5 326.5 L1650.7 324.4 L1652.8 321.6 L1654.9 318.2 L1657.1 314.1 L1659.2 309.5 L1661.3 304.4 L1663.5 298.7 L1665.6 292.7 L1667.7 286.4 L1669.9 279.9 L1672 273.2 L1674.1 266.5 L1676.2 260 L1678.4 253.6 L1680.5 247.5 L1682.6 241.9 L1684.7 236.7 L1686.9 232.1 L1689 228.3 L1691.1 225.1 L1693.2 222.9 L1695.3 221.5 L1697.5 221 L1699.6 221.5 L1701.7 222.9 L1703.8 226.6 L1705.9 233 L1708 242.1 L1710.2 253.4 L1712.3 266.8 L1714.4 281.6 L1716.5 297.5 L1718.6 313.9 L1720.7 330.5 L1722.8 346.7 L1724.9 362.3 L1727 377 L1729.1 390.5 L1731.2 402.7 L1733.3 413.6 L1735.4 423.2 L1737.5 431.5 L1739.6 438.6 L1741.7 444.5 L1743.8 449.5 L1745.9 453.7 L1748 457.1 L1750.1 460 L1752.2 462.3 L1754.3 464.2 L1756.4 465.9 L1758.5 467.2 L1760.6 468.4 L1762.7 469.4 L1764.8 470.3 L1766.8 471.1 L1768.9 471.8 L1771 472.4 L1773.1 473 L1774.5 473.4 L1780 474.7 L1785.6 475.7 L1791.1 476.6 L1796.7 477.2 L1802.2 477.8 L1807.7 478.2 L1813.2 478.5 L1818.7 478.7 L1824.2 478.8 L1829.7 478.9 L1835.2 478.9 L1840.7 478.9 L1846.2 478.9 L1851.7 478.8 L1857.1 478.7 L1862.6 478.6 L1868 478.5 L1873.5 478.4 L1878.9 478.3 L1884.3 478.2 L1884.3 479 L1308.3 488.7 Z" fill="#A0C8E0" stroke="none" stroke-width="1"/>
<path d="M1308.3 486.5 L1314.4 486.7 L1320.5 487 L1326.6 487.3 L1332.7 487.5 L1338.8 487.7 L1344.8 487.6 L1350.9 487.3 L1357 486.8 L1363 486.2 L1369.1 485.4 L1375.1 484.6 L1381.1 483.8 L1387.1 483 L1393.1 482.2 L1399.1 481.4 L1405.1 480.5 L1411.1 479.7 L1417.1 478.8 L1423.1 478 L1429.1 477.3 L1435 476.6 L1441 476.1 L1446.9 475.7 L1452.9 475.5 L1458.8 475.2 L1464.7 475 L1470.6 474.8 L1476.5 474.5 L1482.5 474 L1488.3 473.3 L1494.2 472.3 L1500.1 470.9 L1506 469.3 L1511.9 467.2 L1517.7 464.7 L1523.6 461.9 L1529.4 458.7 L1535.3 455.1 L1541.1 451.1 L1546.9 446.8 L1549.1 445.1 L1551.3 443.2 L1553.5 441.4 L1555.7 439.4 L1557.8 437.3 L1560 435.1 L1562.2 432.8 L1564.4 430.4 L1566.6 427.8 L1568.7 425 L1570.9 421.9 L1573.1 418.7 L1575.2 415.2 L1577.4 411.4 L1579.6 407.3 L1581.8 402.9 L1583.9 398.3 L1586.1 393.4 L1588.3 388.2 L1590.4 382.8 L1592.6 377.2 L1594.7 371.5 L1596.9 365.8 L1599.1 360.2 L1601.2 354.7 L1603.4 349.4 L1605.6 344.4 L1607.7 339.9 L1609.9 335.8 L1612 332.3 L1614.2 329.4 L1616.3 327.2 L1618.5 325.5 L1620.6 324.5 L1622.8 324 L1624.9 324 L1627.1 324.4 L1629.2 325.1 L1631.4 326 L1633.5 327 L1635.7 327.9 L1637.8 328.7 L1640 329.2 L1642.1 329.3 L1644.2 328.9 L1646.4 328 L1648.5 326.5 L1650.7 324.4 L1652.8 321.6 L1654.9 318.2 L1657.1 314.1 L1659.2 309.5 L1661.3 304.4 L1663.5 298.7 L1665.6 292.7 L1667.7 286.4 L1669.9 279.9 L1672 273.2 L1674.1 266.5 L1676.2 260 L1678.4 253.6 L1680.5 247.5 L1682.6 241.9 L1684.7 236.7 L1686.9 232.1 L1689 228.3 L1691.1 225.1 L1693.2 222.9 L1695.3 221.5 L1697.5 221 L1699.6 221.5 L1701.7 222.9 L1703.8 226.6 L1705.9 233 L1708 242.1 L1710.2 253.4 L1712.3 266.8 L1714.4 281.6 L1716.5 297.5 L1718.6 313.9 L1720.7 330.5 L1722.8 346.7 L1724.9 362.3 L1727 377 L1729.1 390.5 L1731.2 402.7 L1733.3 413.6 L1735.4 423.2 L1737.5 431.5 L1739.6 438.6 L1741.7 444.5 L1743.8 449.5 L1745.9 453.7 L1748 457.1 L1750.1 460 L1752.2 462.3 L1754.3 464.2 L1756.4 465.9 L1758.5 467.2 L1760.6 468.4 L1762.7 469.4 L1764.8 470.3 L1766.8 471.1 L1768.9 471.8 L1771 472.4 L1773.1 473 L1774.5 473.4 L1780 474.7 L1785.6 475.7 L1791.1 476.6 L1796.7 477.2 L1802.2 477.8 L1807.7 478.2 L1813.2 478.5 L1818.7 478.7 L1824.2 478.8 L1829.7 478.9 L1835.2 478.9 L1840.7 478.9 L1846.2 478.9 L1851.7 478.8 L1857.1 478.7 L1862.6 478.6 L1868 478.5 L1873.5 478.4 L1878.9 478.3 L1884.3 478.2" fill="none" stroke="#0a0a0a" stroke-width="1.55" stroke-linejoin="round"/>
<path d="M1283.8 518.7 L1290.1 518.9 L1296.4 519.2 L1302.6 519.5 L1308.9 519.8 L1315.2 520 L1321.4 519.9 L1327.7 519.7 L1333.9 519.2 L1340.2 518.6 L1346.4 517.8 L1352.6 517.1 L1358.9 516.4 L1365.1 515.6 L1371.3 514.9 L1377.4 514.2 L1383.6 513.4 L1389.8 512.6 L1396 511.9 L1402.1 511.2 L1408.3 510.6 L1414.4 510 L1420.6 509.6 L1426.7 509.3 L1432.8 509 L1438.9 508.9 L1445.1 508.8 L1451.2 508.6 L1457.2 508.4 L1463.3 508 L1469.4 507.5 L1475.5 506.7 L1481.5 505.6 L1487.6 504.2 L1493.6 502.5 L1499.7 500.5 L1505.7 498.2 L1511.7 495.5 L1517.8 492.6 L1523.8 489.3 L1529.8 485.7 L1532 484.3 L1534.3 482.8 L1536.5 481.2 L1538.8 479.6 L1541 477.9 L1543.3 476.1 L1545.5 474.2 L1547.7 472.2 L1550 470 L1552.2 467.7 L1554.5 465.2 L1556.7 462.5 L1558.9 459.6 L1561.2 456.4 L1563.4 453.1 L1565.6 449.4 L1567.9 445.6 L1570.1 441.5 L1572.3 437.2 L1574.6 432.7 L1576.8 428.1 L1579 423.4 L1581.3 418.7 L1583.5 414 L1585.7 409.4 L1587.9 405 L1590.2 400.9 L1592.4 397.1 L1594.6 393.7 L1596.8 390.8 L1599 388.4 L1601.2 386.4 L1603.5 385 L1605.7 384.1 L1607.9 383.6 L1610.1 383.5 L1612.3 383.7 L1614.5 384.2 L1616.7 384.8 L1619 385.4 L1621.2 386 L1623.4 386.5 L1625.6 386.6 L1627.8 386.5 L1630 385.9 L1632.2 384.8 L1634.4 383.2 L1636.6 381.1 L1638.8 378.4 L1641 375.2 L1643.2 371.4 L1645.4 367.1 L1647.6 362.3 L1649.8 357.2 L1652 351.7 L1654.2 345.9 L1656.4 340 L1658.6 333.9 L1660.8 327.9 L1662.9 321.9 L1665.1 316.1 L1667.3 310.6 L1669.5 305.5 L1671.7 300.8 L1673.9 296.6 L1676.1 293 L1678.2 290.1 L1680.4 288 L1682.6 286.6 L1684.8 286.1 L1687 286.4 L1689.1 287.6 L1691.3 290.7 L1693.5 296.3 L1695.7 304.3 L1697.8 314.3 L1700 326.1 L1702.2 339.2 L1704.4 353.2 L1706.5 367.7 L1708.7 382.4 L1710.9 396.7 L1713 410.5 L1715.2 423.4 L1717.4 435.4 L1719.5 446.2 L1721.7 455.8 L1723.9 464.2 L1726 471.5 L1728.2 477.7 L1730.3 482.9 L1732.5 487.3 L1734.7 490.9 L1736.8 493.9 L1739 496.4 L1741.1 498.4 L1743.3 500.1 L1745.4 501.5 L1747.6 502.6 L1749.7 503.6 L1751.9 504.5 L1754 505.2 L1756.2 505.9 L1758.3 506.5 L1760.5 507 L1762.6 507.5 L1764 507.8 L1769.8 508.8 L1775.5 509.7 L1781.2 510.4 L1786.9 510.9 L1792.5 511.4 L1798.2 511.7 L1803.9 511.9 L1809.6 512.1 L1815.2 512.2 L1820.9 512.3 L1826.5 512.3 L1832.2 512.3 L1837.8 512.2 L1843.4 512.2 L1849 512.1 L1854.7 512 L1860.3 511.9 L1865.9 511.8 L1871.5 511.8 L1877 511.7 L1877 512.9 L1283.8 525 Z" fill="#7FB3D7" stroke="none" stroke-width="1"/>
<path d="M1283.8 518.7 L1290.1 518.9 L1296.4 519.2 L1302.6 519.5 L1308.9 519.8 L1315.2 520 L1321.4 519.9 L1327.7 519.7 L1333.9 519.2 L1340.2 518.6 L1346.4 517.8 L1352.6 517.1 L1358.9 516.4 L1365.1 515.6 L1371.3 514.9 L1377.4 514.2 L1383.6 513.4 L1389.8 512.6 L1396 511.9 L1402.1 511.2 L1408.3 510.6 L1414.4 510 L1420.6 509.6 L1426.7 509.3 L1432.8 509 L1438.9 508.9 L1445.1 508.8 L1451.2 508.6 L1457.2 508.4 L1463.3 508 L1469.4 507.5 L1475.5 506.7 L1481.5 505.6 L1487.6 504.2 L1493.6 502.5 L1499.7 500.5 L1505.7 498.2 L1511.7 495.5 L1517.8 492.6 L1523.8 489.3 L1529.8 485.7 L1532 484.3 L1534.3 482.8 L1536.5 481.2 L1538.8 479.6 L1541 477.9 L1543.3 476.1 L1545.5 474.2 L1547.7 472.2 L1550 470 L1552.2 467.7 L1554.5 465.2 L1556.7 462.5 L1558.9 459.6 L1561.2 456.4 L1563.4 453.1 L1565.6 449.4 L1567.9 445.6 L1570.1 441.5 L1572.3 437.2 L1574.6 432.7 L1576.8 428.1 L1579 423.4 L1581.3 418.7 L1583.5 414 L1585.7 409.4 L1587.9 405 L1590.2 400.9 L1592.4 397.1 L1594.6 393.7 L1596.8 390.8 L1599 388.4 L1601.2 386.4 L1603.5 385 L1605.7 384.1 L1607.9 383.6 L1610.1 383.5 L1612.3 383.7 L1614.5 384.2 L1616.7 384.8 L1619 385.4 L1621.2 386 L1623.4 386.5 L1625.6 386.6 L1627.8 386.5 L1630 385.9 L1632.2 384.8 L1634.4 383.2 L1636.6 381.1 L1638.8 378.4 L1641 375.2 L1643.2 371.4 L1645.4 367.1 L1647.6 362.3 L1649.8 357.2 L1652 351.7 L1654.2 345.9 L1656.4 340 L1658.6 333.9 L1660.8 327.9 L1662.9 321.9 L1665.1 316.1 L1667.3 310.6 L1669.5 305.5 L1671.7 300.8 L1673.9 296.6 L1676.1 293 L1678.2 290.1 L1680.4 288 L1682.6 286.6 L1684.8 286.1 L1687 286.4 L1689.1 287.6 L1691.3 290.7 L1693.5 296.3 L1695.7 304.3 L1697.8 314.3 L1700 326.1 L1702.2 339.2 L1704.4 353.2 L1706.5 367.7 L1708.7 382.4 L1710.9 396.7 L1713 410.5 L1715.2 423.4 L1717.4 435.4 L1719.5 446.2 L1721.7 455.8 L1723.9 464.2 L1726 471.5 L1728.2 477.7 L1730.3 482.9 L1732.5 487.3 L1734.7 490.9 L1736.8 493.9 L1739 496.4 L1741.1 498.4 L1743.3 500.1 L1745.4 501.5 L1747.6 502.6 L1749.7 503.6 L1751.9 504.5 L1754 505.2 L1756.2 505.9 L1758.3 506.5 L1760.5 507 L1762.6 507.5 L1764 507.8 L1769.8 508.8 L1775.5 509.7 L1781.2 510.4 L1786.9 510.9 L1792.5 511.4 L1798.2 511.7 L1803.9 511.9 L1809.6 512.1 L1815.2 512.2 L1820.9 512.3 L1826.5 512.3 L1832.2 512.3 L1837.8 512.2 L1843.4 512.2 L1849 512.1 L1854.7 512 L1860.3 511.9 L1865.9 511.8 L1871.5 511.8 L1877 511.7" fill="none" stroke="#0a0a0a" stroke-width="1.55" stroke-linejoin="round"/>
<path d="M1257.7 561.1 L1264.2 561.3 L1270.7 561.5 L1277.2 561.8 L1283.7 562 L1290.2 562.2 L1296.7 562.1 L1303.1 561.8 L1309.6 561.2 L1316 560.6 L1322.4 559.9 L1328.9 559.1 L1335.3 558.4 L1341.7 557.8 L1348.1 557.1 L1354.5 556.5 L1360.8 555.9 L1367.2 555.2 L1373.6 554.6 L1379.9 554 L1386.3 553.5 L1392.6 553 L1399 552.6 L1405.3 552.3 L1411.6 552.1 L1417.9 552 L1424.2 551.8 L1430.5 551.7 L1436.8 551.4 L1443.1 551.2 L1449.3 550.7 L1455.6 550.2 L1461.9 549.4 L1468.1 548.4 L1474.3 547.3 L1480.6 545.9 L1486.8 544.2 L1493 542.4 L1499.2 540.4 L1505.4 538.1 L1511.6 535.7 L1513.9 534.7 L1516.2 533.7 L1518.6 532.6 L1520.9 531.5 L1523.2 530.3 L1525.5 529.1 L1527.8 527.8 L1530.1 526.5 L1532.4 525 L1534.8 523.4 L1537.1 521.7 L1539.4 519.9 L1541.7 518 L1544 515.9 L1546.3 513.6 L1548.6 511.2 L1550.9 508.6 L1553.2 505.9 L1555.5 503 L1557.8 500 L1560.1 496.9 L1562.4 493.7 L1564.7 490.6 L1567 487.4 L1569.3 484.4 L1571.6 481.4 L1573.9 478.6 L1576.1 476.1 L1578.4 473.8 L1580.7 471.8 L1583 470.1 L1585.3 468.7 L1587.6 467.6 L1589.9 466.9 L1592.1 466.5 L1594.4 466.3 L1596.7 466.3 L1599 466.4 L1601.3 466.6 L1603.5 466.9 L1605.8 467 L1608.1 467 L1610.4 466.9 L1612.6 466.4 L1614.9 465.7 L1617.2 464.6 L1619.5 463.2 L1621.7 461.3 L1624 459.1 L1626.3 456.5 L1628.5 453.4 L1630.8 450.1 L1633.1 446.4 L1635.3 442.4 L1637.6 438.1 L1639.8 433.7 L1642.1 429.2 L1644.4 424.5 L1646.6 419.9 L1648.9 415.4 L1651.1 410.9 L1653.4 406.7 L1655.6 402.8 L1657.9 399.2 L1660.1 396 L1662.4 393.2 L1664.6 390.9 L1666.9 389.2 L1669.1 388 L1671.4 387.5 L1673.6 387.6 L1675.9 388.3 L1678.1 390.5 L1680.4 394.5 L1682.6 400.2 L1684.8 407.5 L1687.1 416 L1689.3 425.5 L1691.5 435.7 L1693.8 446.3 L1696 457 L1698.2 467.4 L1700.5 477.5 L1702.7 486.9 L1704.9 495.6 L1707.2 503.4 L1709.4 510.4 L1711.6 516.5 L1713.9 521.8 L1716.1 526.2 L1718.3 530 L1720.5 533.1 L1722.7 535.7 L1725 537.8 L1727.2 539.5 L1729.4 540.9 L1731.6 542 L1733.8 543 L1736.1 543.8 L1738.3 544.4 L1740.5 544.9 L1742.7 545.4 L1744.9 545.8 L1747.1 546.2 L1749.3 546.5 L1751.5 546.8 L1753 547 L1758.9 547.6 L1764.8 548.1 L1770.6 548.4 L1776.5 548.7 L1782.4 548.9 L1788.2 549 L1794 549.1 L1799.9 549.1 L1805.7 549.1 L1811.5 549.1 L1817.3 549 L1823.1 548.9 L1828.9 548.8 L1834.7 548.7 L1840.5 548.5 L1846.3 548.4 L1852.1 548.3 L1857.8 548.1 L1863.6 548 L1869.3 547.8 L1869.3 548.6 L1257.7 563.4 Z" fill="#5E9ECE" stroke="none" stroke-width="1"/>
<path d="M1257.7 561.1 L1264.2 561.3 L1270.7 561.5 L1277.2 561.8 L1283.7 562 L1290.2 562.2 L1296.7 562.1 L1303.1 561.8 L1309.6 561.2 L1316 560.6 L1322.4 559.9 L1328.9 559.1 L1335.3 558.4 L1341.7 557.8 L1348.1 557.1 L1354.5 556.5 L1360.8 555.9 L1367.2 555.2 L1373.6 554.6 L1379.9 554 L1386.3 553.5 L1392.6 553 L1399 552.6 L1405.3 552.3 L1411.6 552.1 L1417.9 552 L1424.2 551.8 L1430.5 551.7 L1436.8 551.4 L1443.1 551.2 L1449.3 550.7 L1455.6 550.2 L1461.9 549.4 L1468.1 548.4 L1474.3 547.3 L1480.6 545.9 L1486.8 544.2 L1493 542.4 L1499.2 540.4 L1505.4 538.1 L1511.6 535.7 L1513.9 534.7 L1516.2 533.7 L1518.6 532.6 L1520.9 531.5 L1523.2 530.3 L1525.5 529.1 L1527.8 527.8 L1530.1 526.5 L1532.4 525 L1534.8 523.4 L1537.1 521.7 L1539.4 519.9 L1541.7 518 L1544 515.9 L1546.3 513.6 L1548.6 511.2 L1550.9 508.6 L1553.2 505.9 L1555.5 503 L1557.8 500 L1560.1 496.9 L1562.4 493.7 L1564.7 490.6 L1567 487.4 L1569.3 484.4 L1571.6 481.4 L1573.9 478.6 L1576.1 476.1 L1578.4 473.8 L1580.7 471.8 L1583 470.1 L1585.3 468.7 L1587.6 467.6 L1589.9 466.9 L1592.1 466.5 L1594.4 466.3 L1596.7 466.3 L1599 466.4 L1601.3 466.6 L1603.5 466.9 L1605.8 467 L1608.1 467 L1610.4 466.9 L1612.6 466.4 L1614.9 465.7 L1617.2 464.6 L1619.5 463.2 L1621.7 461.3 L1624 459.1 L1626.3 456.5 L1628.5 453.4 L1630.8 450.1 L1633.1 446.4 L1635.3 442.4 L1637.6 438.1 L1639.8 433.7 L1642.1 429.2 L1644.4 424.5 L1646.6 419.9 L1648.9 415.4 L1651.1 410.9 L1653.4 406.7 L1655.6 402.8 L1657.9 399.2 L1660.1 396 L1662.4 393.2 L1664.6 390.9 L1666.9 389.2 L1669.1 388 L1671.4 387.5 L1673.6 387.6 L1675.9 388.3 L1678.1 390.5 L1680.4 394.5 L1682.6 400.2 L1684.8 407.5 L1687.1 416 L1689.3 425.5 L1691.5 435.7 L1693.8 446.3 L1696 457 L1698.2 467.4 L1700.5 477.5 L1702.7 486.9 L1704.9 495.6 L1707.2 503.4 L1709.4 510.4 L1711.6 516.5 L1713.9 521.8 L1716.1 526.2 L1718.3 530 L1720.5 533.1 L1722.7 535.7 L1725 537.8 L1727.2 539.5 L1729.4 540.9 L1731.6 542 L1733.8 543 L1736.1 543.8 L1738.3 544.4 L1740.5 544.9 L1742.7 545.4 L1744.9 545.8 L1747.1 546.2 L1749.3 546.5 L1751.5 546.8 L1753 547 L1758.9 547.6 L1764.8 548.1 L1770.6 548.4 L1776.5 548.7 L1782.4 548.9 L1788.2 549 L1794 549.1 L1799.9 549.1 L1805.7 549.1 L1811.5 549.1 L1817.3 549 L1823.1 548.9 L1828.9 548.8 L1834.7 548.7 L1840.5 548.5 L1846.3 548.4 L1852.1 548.3 L1857.8 548.1 L1863.6 548 L1869.3 547.8" fill="none" stroke="#0a0a0a" stroke-width="1.55" stroke-linejoin="round"/>
<path d="M1230.1 602.7 L1236.8 602.8 L1243.6 603 L1250.3 603.2 L1257 603.5 L1263.7 603.3 L1270.3 603.1 L1277 602.9 L1283.7 602.6 L1290.3 602 L1297 601.3 L1303.6 600.6 L1310.2 600 L1316.9 599.4 L1323.5 598.9 L1330.1 598.4 L1336.7 598 L1343.2 597.5 L1349.8 597.1 L1356.4 596.7 L1362.9 596.3 L1369.5 595.9 L1376 595.6 L1382.6 595.4 L1389.1 595.1 L1395.6 594.9 L1402.1 594.8 L1408.6 594.6 L1415.1 594.4 L1421.6 594.1 L1428.1 593.8 L1434.5 593.3 L1441 592.8 L1447.4 592.2 L1453.9 591.4 L1460.3 590.6 L1466.7 589.6 L1473.1 588.4 L1479.6 587.2 L1486 585.9 L1492.3 584.4 L1494.7 583.8 L1497.1 583.2 L1499.5 582.6 L1501.9 582 L1504.3 581.3 L1506.7 580.6 L1509.1 579.8 L1511.5 579 L1513.8 578.2 L1516.2 577.3 L1518.6 576.3 L1521 575.3 L1523.4 574.2 L1525.8 573 L1528.1 571.7 L1530.5 570.3 L1532.9 568.8 L1535.3 567.3 L1537.6 565.7 L1540 564 L1542.4 562.2 L1544.7 560.4 L1547.1 558.6 L1549.5 556.9 L1551.9 555.1 L1554.2 553.5 L1556.6 551.9 L1558.9 550.5 L1561.3 549.2 L1563.7 548 L1566 547.1 L1568.4 546.3 L1570.7 545.7 L1573.1 545.2 L1575.5 545 L1577.8 544.9 L1580.2 544.8 L1582.5 544.9 L1584.9 545 L1587.2 545.1 L1589.6 545.2 L1591.9 545.2 L1594.3 545.2 L1596.6 544.9 L1598.9 544.6 L1601.3 544 L1603.6 543.2 L1606 542.2 L1608.3 541 L1610.6 539.6 L1613 538 L1615.3 536.2 L1617.7 534.2 L1620 532.1 L1622.3 529.8 L1624.7 527.4 L1627 524.9 L1629.3 522.5 L1631.6 520 L1634 517.5 L1636.3 515.1 L1638.6 512.9 L1640.9 510.7 L1643.3 508.8 L1645.6 507.1 L1647.9 505.6 L1650.2 504.3 L1652.5 503.4 L1654.9 502.8 L1657.2 502.4 L1659.5 502.5 L1661.8 502.9 L1664.1 504 L1666.4 506.1 L1668.7 509.2 L1671 513 L1673.4 517.6 L1675.7 522.7 L1678 528.1 L1680.3 533.7 L1682.6 539.4 L1684.9 545 L1687.2 550.4 L1689.5 555.4 L1691.8 560 L1694.1 564.2 L1696.4 567.9 L1698.7 571.1 L1701 573.9 L1703.3 576.3 L1705.6 578.3 L1707.8 579.9 L1710.1 581.3 L1712.4 582.4 L1714.7 583.3 L1717 584 L1719.3 584.6 L1721.6 585.1 L1723.9 585.4 L1726.1 585.8 L1728.4 586 L1730.7 586.3 L1733 586.4 L1735.3 586.6 L1737.5 586.8 L1739.8 586.9 L1741.3 587 L1747.4 587.2 L1753.5 587.4 L1759.5 587.5 L1765.5 587.6 L1771.6 587.6 L1777.6 587.6 L1783.6 587.5 L1789.6 587.4 L1795.6 587.3 L1801.6 587.2 L1807.6 587.1 L1813.6 587 L1819.6 586.8 L1825.5 586.6 L1831.5 586.5 L1837.4 586.3 L1843.4 586.2 L1849.3 586 L1855.2 585.8 L1861.2 585.6 L1861.2 586.4 L1230.1 604.2 Z" fill="#3C8AC4" stroke="none" stroke-width="1"/>
<path d="M1230.1 602.7 L1236.8 602.8 L1243.6 603 L1250.3 603.2 L1257 603.5 L1263.7 603.3 L1270.3 603.1 L1277 602.9 L1283.7 602.6 L1290.3 602 L1297 601.3 L1303.6 600.6 L1310.2 600 L1316.9 599.4 L1323.5 598.9 L1330.1 598.4 L1336.7 598 L1343.2 597.5 L1349.8 597.1 L1356.4 596.7 L1362.9 596.3 L1369.5 595.9 L1376 595.6 L1382.6 595.4 L1389.1 595.1 L1395.6 594.9 L1402.1 594.8 L1408.6 594.6 L1415.1 594.4 L1421.6 594.1 L1428.1 593.8 L1434.5 593.3 L1441 592.8 L1447.4 592.2 L1453.9 591.4 L1460.3 590.6 L1466.7 589.6 L1473.1 588.4 L1479.6 587.2 L1486 585.9 L1492.3 584.4 L1494.7 583.8 L1497.1 583.2 L1499.5 582.6 L1501.9 582 L1504.3 581.3 L1506.7 580.6 L1509.1 579.8 L1511.5 579 L1513.8 578.2 L1516.2 577.3 L1518.6 576.3 L1521 575.3 L1523.4 574.2 L1525.8 573 L1528.1 571.7 L1530.5 570.3 L1532.9 568.8 L1535.3 567.3 L1537.6 565.7 L1540 564 L1542.4 562.2 L1544.7 560.4 L1547.1 558.6 L1549.5 556.9 L1551.9 555.1 L1554.2 553.5 L1556.6 551.9 L1558.9 550.5 L1561.3 549.2 L1563.7 548 L1566 547.1 L1568.4 546.3 L1570.7 545.7 L1573.1 545.2 L1575.5 545 L1577.8 544.9 L1580.2 544.8 L1582.5 544.9 L1584.9 545 L1587.2 545.1 L1589.6 545.2 L1591.9 545.2 L1594.3 545.2 L1596.6 544.9 L1598.9 544.6 L1601.3 544 L1603.6 543.2 L1606 542.2 L1608.3 541 L1610.6 539.6 L1613 538 L1615.3 536.2 L1617.7 534.2 L1620 532.1 L1622.3 529.8 L1624.7 527.4 L1627 524.9 L1629.3 522.5 L1631.6 520 L1634 517.5 L1636.3 515.1 L1638.6 512.9 L1640.9 510.7 L1643.3 508.8 L1645.6 507.1 L1647.9 505.6 L1650.2 504.3 L1652.5 503.4 L1654.9 502.8 L1657.2 502.4 L1659.5 502.5 L1661.8 502.9 L1664.1 504 L1666.4 506.1 L1668.7 509.2 L1671 513 L1673.4 517.6 L1675.7 522.7 L1678 528.1 L1680.3 533.7 L1682.6 539.4 L1684.9 545 L1687.2 550.4 L1689.5 555.4 L1691.8 560 L1694.1 564.2 L1696.4 567.9 L1698.7 571.1 L1701 573.9 L1703.3 576.3 L1705.6 578.3 L1707.8 579.9 L1710.1 581.3 L1712.4 582.4 L1714.7 583.3 L1717 584 L1719.3 584.6 L1721.6 585.1 L1723.9 585.4 L1726.1 585.8 L1728.4 586 L1730.7 586.3 L1733 586.4 L1735.3 586.6 L1737.5 586.8 L1739.8 586.9 L1741.3 587 L1747.4 587.2 L1753.5 587.4 L1759.5 587.5 L1765.5 587.6 L1771.6 587.6 L1777.6 587.6 L1783.6 587.5 L1789.6 587.4 L1795.6 587.3 L1801.6 587.2 L1807.6 587.1 L1813.6 587 L1819.6 586.8 L1825.5 586.6 L1831.5 586.5 L1837.4 586.3 L1843.4 586.2 L1849.3 586 L1855.2 585.8 L1861.2 585.6" fill="none" stroke="#0a0a0a" stroke-width="1.55" stroke-linejoin="round"/>
<path d="M1200.7 647.3 L1207.7 647.4 L1214.6 647.2 L1221.6 647 L1228.5 646.7 L1235.4 646.5 L1242.3 646.3 L1249.2 646.1 L1256.1 645.8 L1263 645.6 L1269.9 645.4 L1276.8 644.6 L1283.6 643.9 L1290.5 643.3 L1297.3 642.7 L1304.1 642.1 L1310.9 641.6 L1317.8 641 L1324.6 640.5 L1331.4 640 L1338.1 639.5 L1344.9 639.1 L1351.7 638.7 L1358.4 638.4 L1365.2 638.1 L1371.9 637.8 L1378.6 637.6 L1385.4 637.4 L1392.1 637.1 L1398.8 636.8 L1405.5 636.4 L1412.1 635.9 L1418.8 635.3 L1425.5 634.5 L1432.1 633.7 L1438.8 632.6 L1445.4 631.5 L1452 630.2 L1458.7 628.7 L1465.3 627.2 L1471.9 625.5 L1474.4 624.8 L1476.8 624.1 L1479.3 623.4 L1481.8 622.6 L1484.2 621.8 L1486.7 621 L1489.2 620.1 L1491.6 619.2 L1494.1 618.2 L1496.6 617.1 L1499 616 L1501.5 614.8 L1503.9 613.5 L1506.4 612.1 L1508.9 610.6 L1511.3 609 L1513.8 607.3 L1516.2 605.5 L1518.7 603.6 L1521.1 601.6 L1523.6 599.6 L1526 597.6 L1528.5 595.5 L1530.9 593.4 L1533.4 591.4 L1535.8 589.5 L1538.2 587.6 L1540.7 586 L1543.1 584.4 L1545.6 583.1 L1548 582 L1550.4 581.1 L1552.9 580.3 L1555.3 579.8 L1557.7 579.5 L1560.2 579.3 L1562.6 579.3 L1565 579.3 L1567.4 579.4 L1569.9 579.5 L1572.3 579.5 L1574.7 579.5 L1577.1 579.4 L1579.6 579 L1582 578.5 L1584.4 577.8 L1586.8 576.8 L1589.2 575.6 L1591.7 574.1 L1594.1 572.3 L1596.5 570.4 L1598.9 568.1 L1601.3 565.7 L1603.7 563.1 L1606.1 560.4 L1608.5 557.5 L1610.9 554.5 L1613.3 551.5 L1615.7 548.5 L1618.1 545.5 L1620.5 542.7 L1622.9 539.9 L1625.3 537.3 L1627.7 535 L1630.1 532.9 L1632.5 531 L1634.9 529.5 L1637.3 528.4 L1639.7 527.6 L1642.1 527.2 L1644.5 527.2 L1646.9 527.7 L1649.3 529 L1651.7 531.5 L1654 535.1 L1656.4 539.7 L1658.8 545.1 L1661.2 551.2 L1663.6 557.7 L1665.9 564.4 L1668.3 571.2 L1670.7 577.9 L1673.1 584.2 L1675.4 590.2 L1677.8 595.7 L1680.2 600.7 L1682.6 605.1 L1684.9 609 L1687.3 612.3 L1689.7 615.1 L1692 617.5 L1694.4 619.4 L1696.8 621 L1699.1 622.3 L1701.5 623.4 L1703.8 624.2 L1706.2 624.9 L1708.6 625.5 L1710.9 625.9 L1713.3 626.3 L1715.6 626.6 L1718 626.9 L1720.3 627.1 L1722.7 627.3 L1725 627.4 L1727.4 627.6 L1728.9 627.6 L1735.2 627.9 L1741.4 628.1 L1747.7 628.2 L1753.9 628.3 L1760.1 628.3 L1766.4 628.2 L1772.6 628.1 L1778.8 628 L1784.9 627.9 L1791.1 627.7 L1797.3 627.6 L1803.5 627.4 L1809.6 627.2 L1815.8 627 L1821.9 626.8 L1828.1 626.6 L1834.2 626.4 L1840.3 626.2 L1846.4 626 L1852.5 625.7 L1852.5 626.5 L1200.7 647.6 Z" fill="#1B75BB" stroke="none" stroke-width="1"/>
<path d="M1200.7 647.3 L1207.7 647.4 L1214.6 647.2 L1221.6 647 L1228.5 646.7 L1235.4 646.5 L1242.3 646.3 L1249.2 646.1 L1256.1 645.8 L1263 645.6 L1269.9 645.4 L1276.8 644.6 L1283.6 643.9 L1290.5 643.3 L1297.3 642.7 L1304.1 642.1 L1310.9 641.6 L1317.8 641 L1324.6 640.5 L1331.4 640 L1338.1 639.5 L1344.9 639.1 L1351.7 638.7 L1358.4 638.4 L1365.2 638.1 L1371.9 637.8 L1378.6 637.6 L1385.4 637.4 L1392.1 637.1 L1398.8 636.8 L1405.5 636.4 L1412.1 635.9 L1418.8 635.3 L1425.5 634.5 L1432.1 633.7 L1438.8 632.6 L1445.4 631.5 L1452 630.2 L1458.7 628.7 L1465.3 627.2 L1471.9 625.5 L1474.4 624.8 L1476.8 624.1 L1479.3 623.4 L1481.8 622.6 L1484.2 621.8 L1486.7 621 L1489.2 620.1 L1491.6 619.2 L1494.1 618.2 L1496.6 617.1 L1499 616 L1501.5 614.8 L1503.9 613.5 L1506.4 612.1 L1508.9 610.6 L1511.3 609 L1513.8 607.3 L1516.2 605.5 L1518.7 603.6 L1521.1 601.6 L1523.6 599.6 L1526 597.6 L1528.5 595.5 L1530.9 593.4 L1533.4 591.4 L1535.8 589.5 L1538.2 587.6 L1540.7 586 L1543.1 584.4 L1545.6 583.1 L1548 582 L1550.4 581.1 L1552.9 580.3 L1555.3 579.8 L1557.7 579.5 L1560.2 579.3 L1562.6 579.3 L1565 579.3 L1567.4 579.4 L1569.9 579.5 L1572.3 579.5 L1574.7 579.5 L1577.1 579.4 L1579.6 579 L1582 578.5 L1584.4 577.8 L1586.8 576.8 L1589.2 575.6 L1591.7 574.1 L1594.1 572.3 L1596.5 570.4 L1598.9 568.1 L1601.3 565.7 L1603.7 563.1 L1606.1 560.4 L1608.5 557.5 L1610.9 554.5 L1613.3 551.5 L1615.7 548.5 L1618.1 545.5 L1620.5 542.7 L1622.9 539.9 L1625.3 537.3 L1627.7 535 L1630.1 532.9 L1632.5 531 L1634.9 529.5 L1637.3 528.4 L1639.7 527.6 L1642.1 527.2 L1644.5 527.2 L1646.9 527.7 L1649.3 529 L1651.7 531.5 L1654 535.1 L1656.4 539.7 L1658.8 545.1 L1661.2 551.2 L1663.6 557.7 L1665.9 564.4 L1668.3 571.2 L1670.7 577.9 L1673.1 584.2 L1675.4 590.2 L1677.8 595.7 L1680.2 600.7 L1682.6 605.1 L1684.9 609 L1687.3 612.3 L1689.7 615.1 L1692 617.5 L1694.4 619.4 L1696.8 621 L1699.1 622.3 L1701.5 623.4 L1703.8 624.2 L1706.2 624.9 L1708.6 625.5 L1710.9 625.9 L1713.3 626.3 L1715.6 626.6 L1718 626.9 L1720.3 627.1 L1722.7 627.3 L1725 627.4 L1727.4 627.6 L1728.9 627.6 L1735.2 627.9 L1741.4 628.1 L1747.7 628.2 L1753.9 628.3 L1760.1 628.3 L1766.4 628.2 L1772.6 628.1 L1778.8 628 L1784.9 627.9 L1791.1 627.7 L1797.3 627.6 L1803.5 627.4 L1809.6 627.2 L1815.8 627 L1821.9 626.8 L1828.1 626.6 L1834.2 626.4 L1840.3 626.2 L1846.4 626 L1852.5 625.7" fill="none" stroke="#0a0a0a" stroke-width="1.55" stroke-linejoin="round"/>
<line x1="1185.3" y1="217" x2="1185.3" y2="671.9" stroke="#000" stroke-width="4.2"/>
<line x1="1181.7" y1="671.2" x2="1185.3" y2="671.2" stroke="#000" stroke-width="2.6"/>
<line x1="1181.7" y1="614.6" x2="1185.3" y2="614.6" stroke="#000" stroke-width="2.6"/>
<line x1="1181.7" y1="558.1" x2="1185.3" y2="558.1" stroke="#000" stroke-width="2.6"/>
<line x1="1181.7" y1="501.6" x2="1185.3" y2="501.6" stroke="#000" stroke-width="2.6"/>
<line x1="1181.7" y1="445" x2="1185.3" y2="445" stroke="#000" stroke-width="2.6"/>
<line x1="1181.7" y1="388.4" x2="1185.3" y2="388.4" stroke="#000" stroke-width="2.6"/>
<line x1="1181.7" y1="331.9" x2="1185.3" y2="331.9" stroke="#000" stroke-width="2.6"/>
<line x1="1181.7" y1="275.4" x2="1185.3" y2="275.4" stroke="#000" stroke-width="2.6"/>
<line x1="1181.7" y1="218.8" x2="1185.3" y2="218.8" stroke="#000" stroke-width="2.6"/>
<path d="M1183.2 668.3 L1849.6 646 L1849.6 649 L1183.2 672.6 Z" fill="#000" stroke="none" stroke-width="1"/>
<path d="M1848 647.5 L1901 401.8" fill="none" stroke="#000" stroke-width="3.4" stroke-linecap="square"/>
<line x1="1185.3" y1="670.4" x2="1185.3" y2="681.9" stroke="#000" stroke-width="3.1"/>
<line x1="1273.1" y1="667.4" x2="1273.1" y2="672.9" stroke="#000" stroke-width="2.7"/>
<line x1="1359.5" y1="664.4" x2="1359.5" y2="675.9" stroke="#000" stroke-width="3.1"/>
<line x1="1444.4" y1="661.4" x2="1444.4" y2="666.9" stroke="#000" stroke-width="2.7"/>
<line x1="1527.8" y1="658.6" x2="1527.8" y2="670.1" stroke="#000" stroke-width="3.1"/>
<line x1="1609.9" y1="655.7" x2="1609.9" y2="661.2" stroke="#000" stroke-width="2.7"/>
<line x1="1690.6" y1="652.9" x2="1690.6" y2="664.4" stroke="#000" stroke-width="3.1"/>
<line x1="1769.9" y1="650.2" x2="1769.9" y2="655.7" stroke="#000" stroke-width="2.7"/>
<line x1="1848" y1="647.5" x2="1848" y2="659" stroke="#000" stroke-width="3.1"/>
<line x1="1176.8" y1="670.4" x2="1185.3" y2="670.4" stroke="#000" stroke-width="3.2"/>
<line x1="1852.5" y1="626.5" x2="1862.1" y2="626.5" stroke="#000" stroke-width="3"/>
<line x1="1861.2" y1="586.4" x2="1870.8" y2="586.4" stroke="#000" stroke-width="3"/>
<line x1="1869.3" y1="548.6" x2="1878.9" y2="548.6" stroke="#000" stroke-width="3"/>
<line x1="1877" y1="512.9" x2="1886.6" y2="512.9" stroke="#000" stroke-width="3"/>
<line x1="1884.3" y1="479" x2="1893.9" y2="479" stroke="#000" stroke-width="3"/>
<line x1="1891.3" y1="446.9" x2="1900.9" y2="446.9" stroke="#000" stroke-width="3"/>
<line x1="1897.8" y1="416.5" x2="1907.4" y2="416.5" stroke="#000" stroke-width="3"/>
<line x1="1848" y1="647.5" x2="1855.5" y2="647.5" stroke="#000" stroke-width="2.8"/>
<line x1="1856.9" y1="606.2" x2="1862.1" y2="606.2" stroke="#000" stroke-width="2.6"/>
<line x1="1865.3" y1="567.3" x2="1870.5" y2="567.3" stroke="#000" stroke-width="2.6"/>
<line x1="1873.2" y1="530.5" x2="1878.4" y2="530.5" stroke="#000" stroke-width="2.6"/>
<line x1="1880.7" y1="495.7" x2="1885.9" y2="495.7" stroke="#000" stroke-width="2.6"/>
<line x1="1887.9" y1="462.8" x2="1893.1" y2="462.8" stroke="#000" stroke-width="2.6"/>
<line x1="1894.6" y1="431.5" x2="1899.8" y2="431.5" stroke="#000" stroke-width="2.6"/>
<line x1="1901" y1="401.8" x2="1908.5" y2="401.8" stroke="#000" stroke-width="2.8"/>
<text class="fs b" x="1185.9" y="717.4" font-size="31.73" text-anchor="middle">400</text>
<text class="fs b" x="1360.7" y="711.3" font-size="29.6" text-anchor="middle">500</text>
<text class="fs b" x="1529.8" y="704.1" font-size="30.13" text-anchor="middle">600</text>
<text class="fs b" x="1693.7" y="697.2" font-size="28" text-anchor="middle">700</text>
<text class="fs b" x="1849.7" y="691.6" font-size="28.8" text-anchor="middle">800</text>
<text class="fs b" x="1886.8" y="637.5" font-size="28.2" text-anchor="middle">60</text>
<text class="fs b" x="1894" y="597.8" font-size="27.4" text-anchor="middle">40</text>
<text class="fs b" x="1901" y="559" font-size="26.7" text-anchor="middle">20</text>
<text class="fs b" x="1908.9" y="523.3" font-size="26" text-anchor="middle">10</text>
<text class="fs b" x="1908.1" y="488.4" font-size="25.4" text-anchor="middle">5</text>
<text class="fs b" x="1913.9" y="456.4" font-size="25" text-anchor="middle">3</text>
<text class="fs b" x="1915.4" y="425.2" font-size="22.3" textLength="63.4" lengthAdjust="spacingAndGlyphs">Blank</text>
<text class="fs b" x="1414.4" y="752.5" font-size="30" textLength="230" lengthAdjust="spacingAndGlyphs">Wavelength (nm)</text>
<text class="fs b" transform="translate(1162.9 532) rotate(-90)" font-size="33.53" textLength="150.9" lengthAdjust="spacingAndGlyphs">Absorbance</text>
<text class="fs" transform="translate(1963.2 605.9) rotate(-90) scale(0.666 1)" dy="0 1.29 1.29 1.29 1.29 1.29 1.29 1.29 1.29 1.29" font-size="28" stroke="#000" stroke-width="0.5">Time (min)</text>
<text class="fs" x="1197" y="77.3" font-size="52">b</text>
</g>
<g id="panel-c">
<path d="M146.9 1455.7 L830.2 1431.5 L885.1 1180.9 L331.6 1185.6 Z" fill="#E0EACB" stroke="none" stroke-width="1"/>
<path d="M476.1 1184.4L476.1 814.9M327 1449.3L476.1 1184.4M616.4 1183.2L616.4 818.9M500.7 1443.2L616.4 1183.2M752.7 1182L752.7 822.9M668.3 1437.2L752.7 1182M331.5 1091.9L884.9 1092.4M331.5 998.1L884.8 1003.8M331.4 904.4L884.6 915.2M162.8 1432.4L162.8 977.9M162.8 1432.4L834.9 1410.1M193.2 1388L193.2 947.7M193.2 1388L843.8 1369.3M221.8 1346.2L221.8 919.4M221.8 1346.2L852.3 1330.7M248.7 1306.9L248.7 892.7M248.7 1306.9L860.3 1294.2M274 1269.8L274 867.5M274 1269.8L867.8 1259.7M298 1234.7L298 843.7M298 1234.7L875 1226.9M320.7 1201.5L320.7 821.2M320.7 1201.5L881.8 1195.9" stroke="#CECECE" stroke-width="1.05" fill="none"/>
<path d="M146.8 1340.3L331.5 1091.9M146.8 1224.8L331.5 998.1M146.7 1109.4L331.4 904.4" stroke="#BDBDBD" stroke-width="0.9" fill="none"/>
<path d="M146.6 994L331.3 810.7M331.3 810.7L884.4 826.7M331.3 810.7L331.6 1185.6M884.4 826.7L885.1 1180.9M331.6 1185.6L885.1 1180.9M146.9 1455.7L331.6 1185.6" stroke="#2a2a2a" stroke-width="1.3" fill="none" stroke-linecap="round"/>
<path d="M320.7 1182.9 L326.7 1183.2 L332.6 1183.6 L338.5 1184 L344.5 1184.4 L350.4 1184.6 L356.3 1184.7 L362.2 1184.5 L368.1 1184.2 L374 1183.7 L379.9 1183.1 L385.7 1182.5 L391.6 1181.9 L397.5 1181.4 L403.3 1180.8 L409.2 1180.2 L415 1179.5 L420.9 1178.9 L426.7 1178.3 L432.5 1177.6 L438.3 1177.1 L444.1 1176.5 L449.9 1176.1 L455.7 1175.7 L461.5 1175.4 L467.3 1175 L473.1 1174.6 L478.8 1174.1 L484.6 1173.5 L490.3 1172.6 L496.1 1171.4 L501.8 1169.9 L507.5 1167.9 L513.3 1165.5 L519 1162.7 L524.7 1159.4 L530.4 1155.6 L536.1 1151.4 L541.8 1146.6 L547.5 1141.4 L553.1 1135.7 L555.3 1133.5 L557.4 1131.1 L559.5 1128.6 L561.6 1126 L563.8 1123.3 L565.9 1120.5 L568 1117.4 L570.1 1114.2 L572.2 1110.7 L574.4 1107 L576.5 1103.1 L578.6 1098.8 L580.7 1094.1 L582.8 1089.1 L584.9 1083.7 L587.1 1077.9 L589.2 1071.8 L591.3 1065.2 L593.4 1058.4 L595.5 1051.2 L597.6 1043.8 L599.7 1036.3 L601.8 1028.8 L603.9 1021.3 L606 1014 L608.1 1007 L610.2 1000.5 L612.3 994.5 L614.4 989.2 L616.5 984.6 L618.6 980.8 L620.7 977.9 L622.8 975.8 L624.9 974.6 L627 974.1 L629.1 974.3 L631.2 975 L633.3 976.2 L635.4 977.7 L637.5 979.3 L639.6 980.8 L641.7 982.2 L643.7 983.2 L645.8 983.7 L647.9 983.7 L650 982.9 L652.1 981.4 L654.2 979.1 L656.3 976 L658.3 972 L660.4 967.3 L662.5 961.8 L664.6 955.6 L666.7 948.9 L668.7 941.6 L670.8 933.9 L672.9 925.9 L675 917.8 L677 909.7 L679.1 901.7 L681.2 893.9 L683.2 886.5 L685.3 879.6 L687.4 873.4 L689.4 867.9 L691.5 863.2 L693.6 859.5 L695.6 856.9 L697.7 855.3 L699.8 855 L701.8 855.8 L703.9 857.8 L706 862.5 L708 870.8 L710.1 882.3 L712.1 896.8 L714.2 913.7 L716.2 932.4 L718.3 952.5 L720.4 973.3 L722.4 994.2 L724.5 1014.7 L726.5 1034.4 L728.6 1052.9 L730.6 1070 L732.7 1085.5 L734.7 1099.3 L736.8 1111.4 L738.8 1121.9 L740.8 1131 L742.9 1138.6 L744.9 1145 L747 1150.3 L749 1154.8 L751.1 1158.5 L753.1 1161.5 L755.1 1164.1 L757.2 1166.3 L759.2 1168.1 L761.2 1169.7 L763.3 1171.1 L765.3 1172.3 L767.4 1173.4 L769.4 1174.4 L771.4 1175.3 L773.4 1176.1 L774.8 1176.7 L780.2 1178.5 L785.6 1180 L791 1181.3 L796.4 1182.4 L801.8 1183.2 L807.2 1183.9 L812.5 1184.4 L817.9 1184.8 L823.3 1185.2 L828.6 1185.4 L834 1185.6 L839.3 1185.7 L844.6 1185.8 L850 1185.8 L855.3 1185.9 L860.6 1185.9 L865.9 1185.9 L871.2 1185.9 L876.5 1185.9 L881.8 1185.9 L881.8 1195.9 L320.7 1201.5 Z" fill="#E3F1F3" stroke="none" stroke-width="1"/>
<path d="M320.7 1182.9 L326.7 1183.2 L332.6 1183.6 L338.5 1184 L344.5 1184.4 L350.4 1184.6 L356.3 1184.7 L362.2 1184.5 L368.1 1184.2 L374 1183.7 L379.9 1183.1 L385.7 1182.5 L391.6 1181.9 L397.5 1181.4 L403.3 1180.8 L409.2 1180.2 L415 1179.5 L420.9 1178.9 L426.7 1178.3 L432.5 1177.6 L438.3 1177.1 L444.1 1176.5 L449.9 1176.1 L455.7 1175.7 L461.5 1175.4 L467.3 1175 L473.1 1174.6 L478.8 1174.1 L484.6 1173.5 L490.3 1172.6 L496.1 1171.4 L501.8 1169.9 L507.5 1167.9 L513.3 1165.5 L519 1162.7 L524.7 1159.4 L530.4 1155.6 L536.1 1151.4 L541.8 1146.6 L547.5 1141.4 L553.1 1135.7 L555.3 1133.5 L557.4 1131.1 L559.5 1128.6 L561.6 1126 L563.8 1123.3 L565.9 1120.5 L568 1117.4 L570.1 1114.2 L572.2 1110.7 L574.4 1107 L576.5 1103.1 L578.6 1098.8 L580.7 1094.1 L582.8 1089.1 L584.9 1083.7 L587.1 1077.9 L589.2 1071.8 L591.3 1065.2 L593.4 1058.4 L595.5 1051.2 L597.6 1043.8 L599.7 1036.3 L601.8 1028.8 L603.9 1021.3 L606 1014 L608.1 1007 L610.2 1000.5 L612.3 994.5 L614.4 989.2 L616.5 984.6 L618.6 980.8 L620.7 977.9 L622.8 975.8 L624.9 974.6 L627 974.1 L629.1 974.3 L631.2 975 L633.3 976.2 L635.4 977.7 L637.5 979.3 L639.6 980.8 L641.7 982.2 L643.7 983.2 L645.8 983.7 L647.9 983.7 L650 982.9 L652.1 981.4 L654.2 979.1 L656.3 976 L658.3 972 L660.4 967.3 L662.5 961.8 L664.6 955.6 L666.7 948.9 L668.7 941.6 L670.8 933.9 L672.9 925.9 L675 917.8 L677 909.7 L679.1 901.7 L681.2 893.9 L683.2 886.5 L685.3 879.6 L687.4 873.4 L689.4 867.9 L691.5 863.2 L693.6 859.5 L695.6 856.9 L697.7 855.3 L699.8 855 L701.8 855.8 L703.9 857.8 L706 862.5 L708 870.8 L710.1 882.3 L712.1 896.8 L714.2 913.7 L716.2 932.4 L718.3 952.5 L720.4 973.3 L722.4 994.2 L724.5 1014.7 L726.5 1034.4 L728.6 1052.9 L730.6 1070 L732.7 1085.5 L734.7 1099.3 L736.8 1111.4 L738.8 1121.9 L740.8 1131 L742.9 1138.6 L744.9 1145 L747 1150.3 L749 1154.8 L751.1 1158.5 L753.1 1161.5 L755.1 1164.1 L757.2 1166.3 L759.2 1168.1 L761.2 1169.7 L763.3 1171.1 L765.3 1172.3 L767.4 1173.4 L769.4 1174.4 L771.4 1175.3 L773.4 1176.1 L774.8 1176.7 L780.2 1178.5 L785.6 1180 L791 1181.3 L796.4 1182.4 L801.8 1183.2 L807.2 1183.9 L812.5 1184.4 L817.9 1184.8 L823.3 1185.2 L828.6 1185.4 L834 1185.6 L839.3 1185.7 L844.6 1185.8 L850 1185.8 L855.3 1185.9 L860.6 1185.9 L865.9 1185.9 L871.2 1185.9 L876.5 1185.9 L881.8 1185.9" fill="none" stroke="#0a0a0a" stroke-width="1.55" stroke-linejoin="round"/>
<path d="M298 1230.1 L304.1 1230.3 L310.3 1230.6 L316.4 1231 L322.5 1231.3 L328.6 1231.5 L334.7 1231.5 L340.7 1231.3 L346.8 1230.9 L352.9 1230.3 L358.9 1229.7 L365 1229 L371 1228.4 L377.1 1227.8 L383.1 1227.2 L389.1 1226.6 L395.1 1226 L401.1 1225.4 L407.1 1224.8 L413.1 1224.2 L419.1 1223.6 L425.1 1223.1 L431.1 1222.6 L437 1222.2 L443 1221.8 L448.9 1221.5 L454.9 1221.1 L460.8 1220.6 L466.7 1220 L472.6 1219.1 L478.5 1218.1 L484.4 1216.7 L490.3 1214.9 L496.2 1212.8 L502.1 1210.3 L508 1207.4 L513.8 1204.1 L519.7 1200.4 L525.6 1196.3 L531.4 1191.7 L537.2 1186.8 L539.4 1184.8 L541.6 1182.7 L543.8 1180.6 L546 1178.3 L548.2 1176 L550.4 1173.5 L552.5 1170.8 L554.7 1168.1 L556.9 1165.1 L559.1 1161.9 L561.3 1158.4 L563.4 1154.7 L565.6 1150.7 L567.8 1146.3 L570 1141.7 L572.1 1136.7 L574.3 1131.4 L576.5 1125.7 L578.6 1119.8 L580.8 1113.6 L583 1107.2 L585.1 1100.7 L587.3 1094.2 L589.5 1087.7 L591.6 1081.4 L593.8 1075.4 L596 1069.7 L598.1 1064.6 L600.3 1059.9 L602.4 1055.9 L604.6 1052.6 L606.8 1050.1 L608.9 1048.2 L611.1 1047 L613.2 1046.5 L615.4 1046.6 L617.5 1047.1 L619.7 1048 L621.8 1049.1 L624 1050.3 L626.1 1051.4 L628.3 1052.4 L630.4 1053 L632.6 1053.3 L634.7 1052.9 L636.9 1052 L639 1050.4 L641.1 1048.1 L643.3 1045 L645.4 1041.2 L647.6 1036.7 L649.7 1031.6 L651.8 1025.8 L654 1019.5 L656.1 1012.8 L658.2 1005.7 L660.4 998.4 L662.5 990.9 L664.6 983.4 L666.8 976 L668.9 968.9 L671 962.1 L673.1 955.7 L675.3 950 L677.4 944.9 L679.5 940.5 L681.6 937.1 L683.8 934.5 L685.9 933 L688 932.5 L690.1 933.1 L692.2 934.8 L694.4 939 L696.5 946.3 L698.6 956.6 L700.7 969.5 L702.8 984.6 L704.9 1001.5 L707 1019.5 L709.2 1038.1 L711.3 1056.9 L713.4 1075.3 L715.5 1092.9 L717.6 1109.5 L719.7 1124.9 L721.8 1138.7 L723.9 1151.1 L726 1162 L728.1 1171.4 L730.2 1179.4 L732.3 1186.2 L734.4 1191.9 L736.5 1196.6 L738.6 1200.5 L740.7 1203.8 L742.8 1206.5 L744.9 1208.7 L747 1210.6 L749.1 1212.2 L751.2 1213.5 L753.3 1214.7 L755.4 1215.7 L757.4 1216.7 L759.5 1217.5 L761.6 1218.3 L763.7 1218.9 L765.1 1219.4 L770.7 1220.9 L776.2 1222.2 L781.8 1223.2 L787.3 1224 L792.8 1224.7 L798.3 1225.2 L803.9 1225.6 L809.4 1225.9 L814.9 1226.1 L820.4 1226.2 L825.9 1226.3 L831.4 1226.3 L836.8 1226.3 L842.3 1226.3 L847.8 1226.3 L853.2 1226.2 L858.7 1226.2 L864.1 1226.1 L869.6 1226 L875 1225.9 L875 1226.9 L298 1234.7 Z" fill="#C2DCEA" stroke="none" stroke-width="1"/>
<path d="M298 1230.1 L304.1 1230.3 L310.3 1230.6 L316.4 1231 L322.5 1231.3 L328.6 1231.5 L334.7 1231.5 L340.7 1231.3 L346.8 1230.9 L352.9 1230.3 L358.9 1229.7 L365 1229 L371 1228.4 L377.1 1227.8 L383.1 1227.2 L389.1 1226.6 L395.1 1226 L401.1 1225.4 L407.1 1224.8 L413.1 1224.2 L419.1 1223.6 L425.1 1223.1 L431.1 1222.6 L437 1222.2 L443 1221.8 L448.9 1221.5 L454.9 1221.1 L460.8 1220.6 L466.7 1220 L472.6 1219.1 L478.5 1218.1 L484.4 1216.7 L490.3 1214.9 L496.2 1212.8 L502.1 1210.3 L508 1207.4 L513.8 1204.1 L519.7 1200.4 L525.6 1196.3 L531.4 1191.7 L537.2 1186.8 L539.4 1184.8 L541.6 1182.7 L543.8 1180.6 L546 1178.3 L548.2 1176 L550.4 1173.5 L552.5 1170.8 L554.7 1168.1 L556.9 1165.1 L559.1 1161.9 L561.3 1158.4 L563.4 1154.7 L565.6 1150.7 L567.8 1146.3 L570 1141.7 L572.1 1136.7 L574.3 1131.4 L576.5 1125.7 L578.6 1119.8 L580.8 1113.6 L583 1107.2 L585.1 1100.7 L587.3 1094.2 L589.5 1087.7 L591.6 1081.4 L593.8 1075.4 L596 1069.7 L598.1 1064.6 L600.3 1059.9 L602.4 1055.9 L604.6 1052.6 L606.8 1050.1 L608.9 1048.2 L611.1 1047 L613.2 1046.5 L615.4 1046.6 L617.5 1047.1 L619.7 1048 L621.8 1049.1 L624 1050.3 L626.1 1051.4 L628.3 1052.4 L630.4 1053 L632.6 1053.3 L634.7 1052.9 L636.9 1052 L639 1050.4 L641.1 1048.1 L643.3 1045 L645.4 1041.2 L647.6 1036.7 L649.7 1031.6 L651.8 1025.8 L654 1019.5 L656.1 1012.8 L658.2 1005.7 L660.4 998.4 L662.5 990.9 L664.6 983.4 L666.8 976 L668.9 968.9 L671 962.1 L673.1 955.7 L675.3 950 L677.4 944.9 L679.5 940.5 L681.6 937.1 L683.8 934.5 L685.9 933 L688 932.5 L690.1 933.1 L692.2 934.8 L694.4 939 L696.5 946.3 L698.6 956.6 L700.7 969.5 L702.8 984.6 L704.9 1001.5 L707 1019.5 L709.2 1038.1 L711.3 1056.9 L713.4 1075.3 L715.5 1092.9 L717.6 1109.5 L719.7 1124.9 L721.8 1138.7 L723.9 1151.1 L726 1162 L728.1 1171.4 L730.2 1179.4 L732.3 1186.2 L734.4 1191.9 L736.5 1196.6 L738.6 1200.5 L740.7 1203.8 L742.8 1206.5 L744.9 1208.7 L747 1210.6 L749.1 1212.2 L751.2 1213.5 L753.3 1214.7 L755.4 1215.7 L757.4 1216.7 L759.5 1217.5 L761.6 1218.3 L763.7 1218.9 L765.1 1219.4 L770.7 1220.9 L776.2 1222.2 L781.8 1223.2 L787.3 1224 L792.8 1224.7 L798.3 1225.2 L803.9 1225.6 L809.4 1225.9 L814.9 1226.1 L820.4 1226.2 L825.9 1226.3 L831.4 1226.3 L836.8 1226.3 L842.3 1226.3 L847.8 1226.3 L853.2 1226.2 L858.7 1226.2 L864.1 1226.1 L869.6 1226 L875 1225.9" fill="none" stroke="#0a0a0a" stroke-width="1.55" stroke-linejoin="round"/>
<path d="M274 1265.7 L280.4 1265.9 L286.7 1266.2 L293 1266.5 L299.3 1266.8 L305.5 1267 L311.8 1267 L318.1 1266.7 L324.3 1266.3 L330.6 1265.7 L336.8 1265.1 L343.1 1264.4 L349.3 1263.8 L355.5 1263.2 L361.7 1262.6 L367.9 1262.1 L374.1 1261.5 L380.3 1260.9 L386.5 1260.3 L392.7 1259.8 L398.8 1259.2 L405 1258.8 L411.1 1258.3 L417.3 1258 L423.4 1257.6 L429.5 1257.3 L435.6 1256.9 L441.8 1256.5 L447.9 1256 L453.9 1255.3 L460 1254.3 L466.1 1253.1 L472.2 1251.7 L478.2 1249.9 L484.3 1247.7 L490.4 1245.3 L496.4 1242.5 L502.4 1239.3 L508.5 1235.8 L514.5 1231.9 L520.5 1227.7 L522.7 1226 L525 1224.3 L527.2 1222.5 L529.5 1220.6 L531.7 1218.6 L534 1216.5 L536.2 1214.2 L538.5 1211.9 L540.7 1209.3 L543 1206.6 L545.2 1203.7 L547.4 1200.6 L549.7 1197.2 L551.9 1193.5 L554.1 1189.6 L556.4 1185.4 L558.6 1180.9 L560.9 1176.1 L563.1 1171.1 L565.3 1165.9 L567.6 1160.5 L569.8 1155 L572 1149.5 L574.2 1144 L576.5 1138.7 L578.7 1133.6 L580.9 1128.8 L583.1 1124.4 L585.4 1120.5 L587.6 1117.1 L589.8 1114.3 L592 1112 L594.2 1110.4 L596.5 1109.4 L598.7 1108.9 L600.9 1108.8 L603.1 1109.2 L605.3 1109.8 L607.5 1110.6 L609.7 1111.5 L612 1112.3 L614.2 1112.9 L616.4 1113.3 L618.6 1113.3 L620.8 1112.8 L623 1111.7 L625.2 1110.1 L627.4 1107.8 L629.6 1105 L631.8 1101.4 L634 1097.3 L636.2 1092.6 L638.4 1087.4 L640.6 1081.7 L642.8 1075.6 L645 1069.2 L647.2 1062.6 L649.4 1055.9 L651.6 1049.2 L653.8 1042.6 L655.9 1036.2 L658.1 1030 L660.3 1024.3 L662.5 1019.1 L664.7 1014.5 L666.9 1010.6 L669.1 1007.4 L671.2 1005.1 L673.4 1003.7 L675.6 1003.1 L677.8 1003.6 L680 1005 L682.1 1008.5 L684.3 1014.9 L686.5 1023.9 L688.7 1035.2 L690.8 1048.5 L693 1063.3 L695.2 1079.1 L697.4 1095.5 L699.5 1111.9 L701.7 1128.1 L703.9 1143.6 L706 1158.2 L708.2 1171.7 L710.4 1183.9 L712.5 1194.7 L714.7 1204.2 L716.9 1212.5 L719 1219.5 L721.2 1225.4 L723.3 1230.4 L725.5 1234.5 L727.6 1237.9 L729.8 1240.7 L732 1243 L734.1 1244.9 L736.3 1246.5 L738.4 1247.9 L740.6 1249 L742.7 1250 L744.9 1250.9 L747 1251.6 L749.2 1252.3 L751.3 1253 L753.5 1253.5 L754.9 1253.9 L760.6 1255.1 L766.3 1256.1 L772 1257 L777.7 1257.6 L783.4 1258.1 L789.1 1258.5 L794.7 1258.8 L800.4 1259 L806.1 1259.2 L811.7 1259.3 L817.3 1259.3 L823 1259.3 L828.6 1259.3 L834.2 1259.2 L839.9 1259.1 L845.5 1259.1 L851.1 1259 L856.7 1258.9 L862.3 1258.8 L867.8 1258.7 L867.8 1259.7 L274 1269.8 Z" fill="#A0C8E0" stroke="none" stroke-width="1"/>
<path d="M274 1265.7 L280.4 1265.9 L286.7 1266.2 L293 1266.5 L299.3 1266.8 L305.5 1267 L311.8 1267 L318.1 1266.7 L324.3 1266.3 L330.6 1265.7 L336.8 1265.1 L343.1 1264.4 L349.3 1263.8 L355.5 1263.2 L361.7 1262.6 L367.9 1262.1 L374.1 1261.5 L380.3 1260.9 L386.5 1260.3 L392.7 1259.8 L398.8 1259.2 L405 1258.8 L411.1 1258.3 L417.3 1258 L423.4 1257.6 L429.5 1257.3 L435.6 1256.9 L441.8 1256.5 L447.9 1256 L453.9 1255.3 L460 1254.3 L466.1 1253.1 L472.2 1251.7 L478.2 1249.9 L484.3 1247.7 L490.4 1245.3 L496.4 1242.5 L502.4 1239.3 L508.5 1235.8 L514.5 1231.9 L520.5 1227.7 L522.7 1226 L525 1224.3 L527.2 1222.5 L529.5 1220.6 L531.7 1218.6 L534 1216.5 L536.2 1214.2 L538.5 1211.9 L540.7 1209.3 L543 1206.6 L545.2 1203.7 L547.4 1200.6 L549.7 1197.2 L551.9 1193.5 L554.1 1189.6 L556.4 1185.4 L558.6 1180.9 L560.9 1176.1 L563.1 1171.1 L565.3 1165.9 L567.6 1160.5 L569.8 1155 L572 1149.5 L574.2 1144 L576.5 1138.7 L578.7 1133.6 L580.9 1128.8 L583.1 1124.4 L585.4 1120.5 L587.6 1117.1 L589.8 1114.3 L592 1112 L594.2 1110.4 L596.5 1109.4 L598.7 1108.9 L600.9 1108.8 L603.1 1109.2 L605.3 1109.8 L607.5 1110.6 L609.7 1111.5 L612 1112.3 L614.2 1112.9 L616.4 1113.3 L618.6 1113.3 L620.8 1112.8 L623 1111.7 L625.2 1110.1 L627.4 1107.8 L629.6 1105 L631.8 1101.4 L634 1097.3 L636.2 1092.6 L638.4 1087.4 L640.6 1081.7 L642.8 1075.6 L645 1069.2 L647.2 1062.6 L649.4 1055.9 L651.6 1049.2 L653.8 1042.6 L655.9 1036.2 L658.1 1030 L660.3 1024.3 L662.5 1019.1 L664.7 1014.5 L666.9 1010.6 L669.1 1007.4 L671.2 1005.1 L673.4 1003.7 L675.6 1003.1 L677.8 1003.6 L680 1005 L682.1 1008.5 L684.3 1014.9 L686.5 1023.9 L688.7 1035.2 L690.8 1048.5 L693 1063.3 L695.2 1079.1 L697.4 1095.5 L699.5 1111.9 L701.7 1128.1 L703.9 1143.6 L706 1158.2 L708.2 1171.7 L710.4 1183.9 L712.5 1194.7 L714.7 1204.2 L716.9 1212.5 L719 1219.5 L721.2 1225.4 L723.3 1230.4 L725.5 1234.5 L727.6 1237.9 L729.8 1240.7 L732 1243 L734.1 1244.9 L736.3 1246.5 L738.4 1247.9 L740.6 1249 L742.7 1250 L744.9 1250.9 L747 1251.6 L749.2 1252.3 L751.3 1253 L753.5 1253.5 L754.9 1253.9 L760.6 1255.1 L766.3 1256.1 L772 1257 L777.7 1257.6 L783.4 1258.1 L789.1 1258.5 L794.7 1258.8 L800.4 1259 L806.1 1259.2 L811.7 1259.3 L817.3 1259.3 L823 1259.3 L828.6 1259.3 L834.2 1259.2 L839.9 1259.1 L845.5 1259.1 L851.1 1259 L856.7 1258.9 L862.3 1258.8 L867.8 1258.7" fill="none" stroke="#0a0a0a" stroke-width="1.55" stroke-linejoin="round"/>
<path d="M248.7 1301.3 L255.2 1301.5 L261.7 1301.8 L268.2 1302.1 L274.7 1302.4 L281.2 1302.6 L287.6 1302.6 L294.1 1302.3 L300.6 1301.9 L307 1301.3 L313.4 1300.6 L319.9 1300 L326.3 1299.3 L332.7 1298.8 L339.1 1298.2 L345.5 1297.7 L351.9 1297.1 L358.3 1296.6 L364.7 1296 L371 1295.5 L377.4 1295 L383.7 1294.6 L390.1 1294.2 L396.4 1293.8 L402.7 1293.5 L409 1293.2 L415.3 1292.9 L421.6 1292.5 L427.9 1292 L434.2 1291.4 L440.5 1290.5 L446.7 1289.5 L453 1288.2 L459.2 1286.6 L465.5 1284.7 L471.7 1282.5 L477.9 1280 L484.2 1277.2 L490.4 1274.1 L496.6 1270.7 L502.8 1267 L505.1 1265.5 L507.4 1263.9 L509.7 1262.3 L512 1260.6 L514.3 1258.9 L516.7 1257 L519 1255 L521.3 1253 L523.6 1250.7 L525.9 1248.3 L528.2 1245.8 L530.5 1243 L532.8 1240 L535.1 1236.8 L537.4 1233.3 L539.7 1229.6 L542.1 1225.6 L544.4 1221.4 L546.7 1217 L549 1212.4 L551.2 1207.6 L553.5 1202.8 L555.8 1197.9 L558.1 1193.1 L560.4 1188.4 L562.7 1183.9 L565 1179.6 L567.3 1175.7 L569.6 1172.3 L571.9 1169.3 L574.2 1166.7 L576.5 1164.8 L578.7 1163.3 L581 1162.3 L583.3 1161.8 L585.6 1161.7 L587.9 1162 L590.1 1162.5 L592.4 1163.1 L594.7 1163.8 L597 1164.4 L599.3 1164.9 L601.5 1165.1 L603.8 1164.9 L606.1 1164.3 L608.3 1163.3 L610.6 1161.7 L612.9 1159.5 L615.1 1156.8 L617.4 1153.4 L619.7 1149.6 L621.9 1145.2 L624.2 1140.4 L626.5 1135.1 L628.7 1129.5 L631 1123.6 L633.2 1117.5 L635.5 1111.4 L637.8 1105.2 L640 1099.1 L642.3 1093.2 L644.5 1087.6 L646.8 1082.3 L649 1077.5 L651.3 1073.3 L653.5 1069.6 L655.8 1066.7 L658 1064.5 L660.3 1063.1 L662.5 1062.6 L664.8 1062.9 L667 1064.2 L669.2 1067.4 L671.5 1073.1 L673.7 1081.2 L676 1091.5 L678.2 1103.5 L680.4 1116.9 L682.7 1131.2 L684.9 1146.1 L687.1 1161 L689.4 1175.7 L691.6 1189.8 L693.8 1203 L696.1 1215.2 L698.3 1226.2 L700.5 1236.1 L702.7 1244.7 L705 1252.1 L707.2 1258.5 L709.4 1263.8 L711.6 1268.3 L713.9 1272 L716.1 1275.1 L718.3 1277.6 L720.5 1279.6 L722.7 1281.3 L724.9 1282.8 L727.2 1284 L729.4 1285 L731.6 1285.8 L733.8 1286.6 L736 1287.3 L738.2 1287.9 L740.4 1288.4 L742.6 1288.9 L744.1 1289.2 L750 1290.3 L755.8 1291.2 L761.7 1291.9 L767.6 1292.4 L773.4 1292.9 L779.3 1293.2 L785.1 1293.4 L790.9 1293.6 L796.7 1293.7 L802.5 1293.7 L808.4 1293.7 L814.2 1293.7 L819.9 1293.7 L825.7 1293.6 L831.5 1293.5 L837.3 1293.4 L843 1293.3 L848.8 1293.2 L854.5 1293.1 L860.3 1293 L860.3 1294.2 L248.7 1306.9 Z" fill="#7FB3D7" stroke="none" stroke-width="1"/>
<path d="M248.7 1301.3 L255.2 1301.5 L261.7 1301.8 L268.2 1302.1 L274.7 1302.4 L281.2 1302.6 L287.6 1302.6 L294.1 1302.3 L300.6 1301.9 L307 1301.3 L313.4 1300.6 L319.9 1300 L326.3 1299.3 L332.7 1298.8 L339.1 1298.2 L345.5 1297.7 L351.9 1297.1 L358.3 1296.6 L364.7 1296 L371 1295.5 L377.4 1295 L383.7 1294.6 L390.1 1294.2 L396.4 1293.8 L402.7 1293.5 L409 1293.2 L415.3 1292.9 L421.6 1292.5 L427.9 1292 L434.2 1291.4 L440.5 1290.5 L446.7 1289.5 L453 1288.2 L459.2 1286.6 L465.5 1284.7 L471.7 1282.5 L477.9 1280 L484.2 1277.2 L490.4 1274.1 L496.6 1270.7 L502.8 1267 L505.1 1265.5 L507.4 1263.9 L509.7 1262.3 L512 1260.6 L514.3 1258.9 L516.7 1257 L519 1255 L521.3 1253 L523.6 1250.7 L525.9 1248.3 L528.2 1245.8 L530.5 1243 L532.8 1240 L535.1 1236.8 L537.4 1233.3 L539.7 1229.6 L542.1 1225.6 L544.4 1221.4 L546.7 1217 L549 1212.4 L551.2 1207.6 L553.5 1202.8 L555.8 1197.9 L558.1 1193.1 L560.4 1188.4 L562.7 1183.9 L565 1179.6 L567.3 1175.7 L569.6 1172.3 L571.9 1169.3 L574.2 1166.7 L576.5 1164.8 L578.7 1163.3 L581 1162.3 L583.3 1161.8 L585.6 1161.7 L587.9 1162 L590.1 1162.5 L592.4 1163.1 L594.7 1163.8 L597 1164.4 L599.3 1164.9 L601.5 1165.1 L603.8 1164.9 L606.1 1164.3 L608.3 1163.3 L610.6 1161.7 L612.9 1159.5 L615.1 1156.8 L617.4 1153.4 L619.7 1149.6 L621.9 1145.2 L624.2 1140.4 L626.5 1135.1 L628.7 1129.5 L631 1123.6 L633.2 1117.5 L635.5 1111.4 L637.8 1105.2 L640 1099.1 L642.3 1093.2 L644.5 1087.6 L646.8 1082.3 L649 1077.5 L651.3 1073.3 L653.5 1069.6 L655.8 1066.7 L658 1064.5 L660.3 1063.1 L662.5 1062.6 L664.8 1062.9 L667 1064.2 L669.2 1067.4 L671.5 1073.1 L673.7 1081.2 L676 1091.5 L678.2 1103.5 L680.4 1116.9 L682.7 1131.2 L684.9 1146.1 L687.1 1161 L689.4 1175.7 L691.6 1189.8 L693.8 1203 L696.1 1215.2 L698.3 1226.2 L700.5 1236.1 L702.7 1244.7 L705 1252.1 L707.2 1258.5 L709.4 1263.8 L711.6 1268.3 L713.9 1272 L716.1 1275.1 L718.3 1277.6 L720.5 1279.6 L722.7 1281.3 L724.9 1282.8 L727.2 1284 L729.4 1285 L731.6 1285.8 L733.8 1286.6 L736 1287.3 L738.2 1287.9 L740.4 1288.4 L742.6 1288.9 L744.1 1289.2 L750 1290.3 L755.8 1291.2 L761.7 1291.9 L767.6 1292.4 L773.4 1292.9 L779.3 1293.2 L785.1 1293.4 L790.9 1293.6 L796.7 1293.7 L802.5 1293.7 L808.4 1293.7 L814.2 1293.7 L819.9 1293.7 L825.7 1293.6 L831.5 1293.5 L837.3 1293.4 L843 1293.3 L848.8 1293.2 L854.5 1293.1 L860.3 1293" fill="none" stroke="#0a0a0a" stroke-width="1.55" stroke-linejoin="round"/>
<path d="M221.8 1342.9 L228.5 1343.1 L235.2 1343.3 L241.9 1343.6 L248.6 1343.9 L255.3 1344 L262 1343.9 L268.7 1343.6 L275.4 1343.1 L282 1342.5 L288.7 1341.7 L295.3 1341 L301.9 1340.3 L308.6 1339.7 L315.2 1339.1 L321.8 1338.5 L328.4 1337.9 L334.9 1337.3 L341.5 1336.7 L348.1 1336.1 L354.6 1335.6 L361.2 1335.1 L367.7 1334.6 L374.3 1334.2 L380.8 1333.8 L387.3 1333.5 L393.8 1333.1 L400.3 1332.7 L406.8 1332.1 L413.3 1331.4 L419.8 1330.5 L426.2 1329.4 L432.7 1328 L439.1 1326.4 L445.6 1324.4 L452 1322.2 L458.4 1319.6 L464.8 1316.7 L471.2 1313.5 L477.6 1310 L484 1306.2 L486.4 1304.7 L488.8 1303.1 L491.2 1301.5 L493.6 1299.7 L496 1297.9 L498.3 1296 L500.7 1294 L503.1 1291.9 L505.5 1289.6 L507.9 1287.2 L510.3 1284.6 L512.6 1281.8 L515 1278.7 L517.4 1275.4 L519.8 1271.9 L522.1 1268.1 L524.5 1264.1 L526.9 1259.8 L529.3 1255.3 L531.6 1250.7 L534 1245.9 L536.4 1241 L538.7 1236 L541.1 1231.1 L543.5 1226.4 L545.8 1221.8 L548.2 1217.5 L550.6 1213.5 L552.9 1210 L555.3 1206.9 L557.6 1204.4 L560 1202.3 L562.3 1200.8 L564.7 1199.8 L567 1199.3 L569.4 1199.2 L571.7 1199.4 L574.1 1199.9 L576.4 1200.5 L578.8 1201.1 L581.1 1201.7 L583.5 1202.2 L585.8 1202.3 L588.2 1202.1 L590.5 1201.5 L592.8 1200.4 L595.2 1198.7 L597.5 1196.5 L599.9 1193.6 L602.2 1190.2 L604.5 1186.3 L606.9 1181.8 L609.2 1176.8 L611.5 1171.5 L613.9 1165.7 L616.2 1159.7 L618.5 1153.5 L620.8 1147.2 L623.2 1140.9 L625.5 1134.7 L627.8 1128.7 L630.1 1122.9 L632.5 1117.5 L634.8 1112.6 L637.1 1108.3 L639.4 1104.6 L641.7 1101.5 L644 1099.3 L646.4 1097.9 L648.7 1097.3 L651 1097.6 L653.3 1098.8 L655.6 1102 L657.9 1107.9 L660.2 1116.1 L662.5 1126.5 L664.8 1138.7 L667.1 1152.3 L669.4 1166.8 L671.7 1181.9 L674 1197.1 L676.3 1212 L678.6 1226.3 L680.9 1239.7 L683.2 1252 L685.5 1263.2 L687.8 1273.2 L690.1 1281.9 L692.4 1289.5 L694.7 1295.9 L697 1301.3 L699.3 1305.8 L701.5 1309.6 L703.8 1312.7 L706.1 1315.2 L708.4 1317.3 L710.7 1319 L713 1320.4 L715.2 1321.6 L717.5 1322.6 L719.8 1323.5 L722.1 1324.2 L724.4 1324.9 L726.6 1325.5 L728.9 1326 L731.2 1326.5 L732.7 1326.8 L738.7 1327.8 L744.8 1328.7 L750.8 1329.3 L756.9 1329.8 L762.9 1330.2 L768.9 1330.5 L774.9 1330.7 L780.9 1330.8 L786.9 1330.9 L792.9 1330.9 L798.8 1330.8 L804.8 1330.8 L810.8 1330.7 L816.7 1330.6 L822.7 1330.4 L828.6 1330.3 L834.5 1330.1 L840.5 1330 L846.4 1329.8 L852.3 1329.7 L852.3 1330.7 L221.8 1346.2 Z" fill="#5E9ECE" stroke="none" stroke-width="1"/>
<path d="M221.8 1342.9 L228.5 1343.1 L235.2 1343.3 L241.9 1343.6 L248.6 1343.9 L255.3 1344 L262 1343.9 L268.7 1343.6 L275.4 1343.1 L282 1342.5 L288.7 1341.7 L295.3 1341 L301.9 1340.3 L308.6 1339.7 L315.2 1339.1 L321.8 1338.5 L328.4 1337.9 L334.9 1337.3 L341.5 1336.7 L348.1 1336.1 L354.6 1335.6 L361.2 1335.1 L367.7 1334.6 L374.3 1334.2 L380.8 1333.8 L387.3 1333.5 L393.8 1333.1 L400.3 1332.7 L406.8 1332.1 L413.3 1331.4 L419.8 1330.5 L426.2 1329.4 L432.7 1328 L439.1 1326.4 L445.6 1324.4 L452 1322.2 L458.4 1319.6 L464.8 1316.7 L471.2 1313.5 L477.6 1310 L484 1306.2 L486.4 1304.7 L488.8 1303.1 L491.2 1301.5 L493.6 1299.7 L496 1297.9 L498.3 1296 L500.7 1294 L503.1 1291.9 L505.5 1289.6 L507.9 1287.2 L510.3 1284.6 L512.6 1281.8 L515 1278.7 L517.4 1275.4 L519.8 1271.9 L522.1 1268.1 L524.5 1264.1 L526.9 1259.8 L529.3 1255.3 L531.6 1250.7 L534 1245.9 L536.4 1241 L538.7 1236 L541.1 1231.1 L543.5 1226.4 L545.8 1221.8 L548.2 1217.5 L550.6 1213.5 L552.9 1210 L555.3 1206.9 L557.6 1204.4 L560 1202.3 L562.3 1200.8 L564.7 1199.8 L567 1199.3 L569.4 1199.2 L571.7 1199.4 L574.1 1199.9 L576.4 1200.5 L578.8 1201.1 L581.1 1201.7 L583.5 1202.2 L585.8 1202.3 L588.2 1202.1 L590.5 1201.5 L592.8 1200.4 L595.2 1198.7 L597.5 1196.5 L599.9 1193.6 L602.2 1190.2 L604.5 1186.3 L606.9 1181.8 L609.2 1176.8 L611.5 1171.5 L613.9 1165.7 L616.2 1159.7 L618.5 1153.5 L620.8 1147.2 L623.2 1140.9 L625.5 1134.7 L627.8 1128.7 L630.1 1122.9 L632.5 1117.5 L634.8 1112.6 L637.1 1108.3 L639.4 1104.6 L641.7 1101.5 L644 1099.3 L646.4 1097.9 L648.7 1097.3 L651 1097.6 L653.3 1098.8 L655.6 1102 L657.9 1107.9 L660.2 1116.1 L662.5 1126.5 L664.8 1138.7 L667.1 1152.3 L669.4 1166.8 L671.7 1181.9 L674 1197.1 L676.3 1212 L678.6 1226.3 L680.9 1239.7 L683.2 1252 L685.5 1263.2 L687.8 1273.2 L690.1 1281.9 L692.4 1289.5 L694.7 1295.9 L697 1301.3 L699.3 1305.8 L701.5 1309.6 L703.8 1312.7 L706.1 1315.2 L708.4 1317.3 L710.7 1319 L713 1320.4 L715.2 1321.6 L717.5 1322.6 L719.8 1323.5 L722.1 1324.2 L724.4 1324.9 L726.6 1325.5 L728.9 1326 L731.2 1326.5 L732.7 1326.8 L738.7 1327.8 L744.8 1328.7 L750.8 1329.3 L756.9 1329.8 L762.9 1330.2 L768.9 1330.5 L774.9 1330.7 L780.9 1330.8 L786.9 1330.9 L792.9 1330.9 L798.8 1330.8 L804.8 1330.8 L810.8 1330.7 L816.7 1330.6 L822.7 1330.4 L828.6 1330.3 L834.5 1330.1 L840.5 1330 L846.4 1329.8 L852.3 1329.7" fill="none" stroke="#0a0a0a" stroke-width="1.55" stroke-linejoin="round"/>
<path d="M193.2 1383.1 L200.2 1383.3 L207.1 1383.5 L214.1 1383.8 L221 1384 L227.9 1384.1 L234.8 1384.1 L241.7 1383.7 L248.6 1383.2 L255.5 1382.5 L262.4 1381.8 L269.2 1381 L276.1 1380.4 L282.9 1379.7 L289.7 1379.1 L296.6 1378.5 L303.4 1377.9 L310.2 1377.3 L317 1376.7 L323.8 1376.2 L330.5 1375.6 L337.3 1375.2 L344.1 1374.7 L350.8 1374.3 L357.6 1374 L364.3 1373.6 L371 1373.3 L377.7 1372.8 L384.4 1372.3 L391.1 1371.7 L397.8 1370.9 L404.5 1369.9 L411.1 1368.6 L417.8 1367.1 L424.4 1365.3 L431.1 1363.3 L437.7 1360.9 L444.3 1358.3 L450.9 1355.4 L457.5 1352.3 L464.1 1348.8 L466.6 1347.4 L469.1 1346 L471.5 1344.5 L474 1343 L476.5 1341.3 L478.9 1339.6 L481.4 1337.8 L483.8 1335.9 L486.3 1333.8 L488.8 1331.6 L491.2 1329.3 L493.7 1326.7 L496.1 1324 L498.6 1321 L501 1317.9 L503.5 1314.5 L505.9 1310.8 L508.4 1307 L510.8 1303 L513.3 1298.8 L515.7 1294.4 L518.2 1290 L520.6 1285.6 L523 1281.1 L525.5 1276.8 L527.9 1272.7 L530.4 1268.8 L532.8 1265.3 L535.2 1262.1 L537.7 1259.3 L540.1 1256.9 L542.5 1255.1 L545 1253.7 L547.4 1252.7 L549.8 1252.2 L552.2 1252 L554.7 1252.2 L557.1 1252.5 L559.5 1252.9 L561.9 1253.4 L564.4 1253.8 L566.8 1254.1 L569.2 1254.1 L571.6 1253.7 L574 1253 L576.4 1251.8 L578.8 1250.1 L581.3 1247.8 L583.7 1245 L586.1 1241.7 L588.5 1237.9 L590.9 1233.6 L593.3 1228.8 L595.7 1223.7 L598.1 1218.2 L600.5 1212.5 L602.9 1206.6 L605.3 1200.6 L607.7 1194.6 L610.1 1188.7 L612.5 1183 L614.9 1177.5 L617.3 1172.4 L619.7 1167.8 L622.1 1163.6 L624.5 1160.1 L626.8 1157.2 L629.2 1155 L631.6 1153.6 L634 1153 L636.4 1153.2 L638.8 1154.3 L641.1 1157.2 L643.5 1162.6 L645.9 1170.3 L648.3 1179.9 L650.7 1191.3 L653 1204 L655.4 1217.5 L657.8 1231.6 L660.2 1245.7 L662.5 1259.6 L664.9 1273 L667.3 1285.5 L669.6 1297 L672 1307.4 L674.4 1316.7 L676.7 1324.9 L679.1 1331.9 L681.4 1337.8 L683.8 1342.9 L686.2 1347.1 L688.5 1350.5 L690.9 1353.4 L693.2 1355.7 L695.6 1357.6 L697.9 1359.2 L700.3 1360.4 L702.6 1361.5 L705 1362.4 L707.3 1363.2 L709.7 1363.9 L712 1364.4 L714.4 1365 L716.7 1365.4 L719.1 1365.9 L720.6 1366.1 L726.9 1367 L733.1 1367.7 L739.3 1368.3 L745.5 1368.7 L751.7 1369 L757.9 1369.2 L764.1 1369.4 L770.3 1369.5 L776.5 1369.5 L782.6 1369.4 L788.8 1369.4 L794.9 1369.3 L801.1 1369.2 L807.2 1369 L813.3 1368.9 L819.5 1368.7 L825.6 1368.6 L831.7 1368.4 L837.8 1368.2 L843.8 1368.1 L843.8 1369.3 L193.2 1388 Z" fill="#3C8AC4" stroke="none" stroke-width="1"/>
<path d="M193.2 1383.1 L200.2 1383.3 L207.1 1383.5 L214.1 1383.8 L221 1384 L227.9 1384.1 L234.8 1384.1 L241.7 1383.7 L248.6 1383.2 L255.5 1382.5 L262.4 1381.8 L269.2 1381 L276.1 1380.4 L282.9 1379.7 L289.7 1379.1 L296.6 1378.5 L303.4 1377.9 L310.2 1377.3 L317 1376.7 L323.8 1376.2 L330.5 1375.6 L337.3 1375.2 L344.1 1374.7 L350.8 1374.3 L357.6 1374 L364.3 1373.6 L371 1373.3 L377.7 1372.8 L384.4 1372.3 L391.1 1371.7 L397.8 1370.9 L404.5 1369.9 L411.1 1368.6 L417.8 1367.1 L424.4 1365.3 L431.1 1363.3 L437.7 1360.9 L444.3 1358.3 L450.9 1355.4 L457.5 1352.3 L464.1 1348.8 L466.6 1347.4 L469.1 1346 L471.5 1344.5 L474 1343 L476.5 1341.3 L478.9 1339.6 L481.4 1337.8 L483.8 1335.9 L486.3 1333.8 L488.8 1331.6 L491.2 1329.3 L493.7 1326.7 L496.1 1324 L498.6 1321 L501 1317.9 L503.5 1314.5 L505.9 1310.8 L508.4 1307 L510.8 1303 L513.3 1298.8 L515.7 1294.4 L518.2 1290 L520.6 1285.6 L523 1281.1 L525.5 1276.8 L527.9 1272.7 L530.4 1268.8 L532.8 1265.3 L535.2 1262.1 L537.7 1259.3 L540.1 1256.9 L542.5 1255.1 L545 1253.7 L547.4 1252.7 L549.8 1252.2 L552.2 1252 L554.7 1252.2 L557.1 1252.5 L559.5 1252.9 L561.9 1253.4 L564.4 1253.8 L566.8 1254.1 L569.2 1254.1 L571.6 1253.7 L574 1253 L576.4 1251.8 L578.8 1250.1 L581.3 1247.8 L583.7 1245 L586.1 1241.7 L588.5 1237.9 L590.9 1233.6 L593.3 1228.8 L595.7 1223.7 L598.1 1218.2 L600.5 1212.5 L602.9 1206.6 L605.3 1200.6 L607.7 1194.6 L610.1 1188.7 L612.5 1183 L614.9 1177.5 L617.3 1172.4 L619.7 1167.8 L622.1 1163.6 L624.5 1160.1 L626.8 1157.2 L629.2 1155 L631.6 1153.6 L634 1153 L636.4 1153.2 L638.8 1154.3 L641.1 1157.2 L643.5 1162.6 L645.9 1170.3 L648.3 1179.9 L650.7 1191.3 L653 1204 L655.4 1217.5 L657.8 1231.6 L660.2 1245.7 L662.5 1259.6 L664.9 1273 L667.3 1285.5 L669.6 1297 L672 1307.4 L674.4 1316.7 L676.7 1324.9 L679.1 1331.9 L681.4 1337.8 L683.8 1342.9 L686.2 1347.1 L688.5 1350.5 L690.9 1353.4 L693.2 1355.7 L695.6 1357.6 L697.9 1359.2 L700.3 1360.4 L702.6 1361.5 L705 1362.4 L707.3 1363.2 L709.7 1363.9 L712 1364.4 L714.4 1365 L716.7 1365.4 L719.1 1365.9 L720.6 1366.1 L726.9 1367 L733.1 1367.7 L739.3 1368.3 L745.5 1368.7 L751.7 1369 L757.9 1369.2 L764.1 1369.4 L770.3 1369.5 L776.5 1369.5 L782.6 1369.4 L788.8 1369.4 L794.9 1369.3 L801.1 1369.2 L807.2 1369 L813.3 1368.9 L819.5 1368.7 L825.6 1368.6 L831.7 1368.4 L837.8 1368.2 L843.8 1368.1" fill="none" stroke="#0a0a0a" stroke-width="1.55" stroke-linejoin="round"/>
<path d="M162.8 1427.6 L170 1427.7 L177.2 1427.9 L184.4 1428.1 L191.6 1428.3 L198.7 1428.4 L205.9 1428.3 L213 1427.9 L220.2 1427.3 L227.3 1426.6 L234.4 1425.8 L241.5 1425 L248.6 1424.2 L255.6 1423.6 L262.7 1422.9 L269.8 1422.3 L276.8 1421.6 L283.9 1421 L290.9 1420.4 L297.9 1419.8 L304.9 1419.2 L311.9 1418.7 L318.9 1418.2 L325.9 1417.7 L332.8 1417.3 L339.8 1417 L346.8 1416.6 L353.7 1416.1 L360.6 1415.6 L367.5 1414.9 L374.4 1414.1 L381.3 1413 L388.2 1411.7 L395.1 1410.2 L402 1408.4 L408.8 1406.4 L415.7 1404 L422.5 1401.4 L429.4 1398.5 L436.2 1395.4 L443 1392 L445.5 1390.6 L448.1 1389.2 L450.6 1387.7 L453.2 1386.2 L455.7 1384.5 L458.3 1382.8 L460.8 1381 L463.4 1379.1 L465.9 1377.1 L468.5 1374.9 L471 1372.6 L473.5 1370.1 L476.1 1367.4 L478.6 1364.5 L481.1 1361.3 L483.7 1358 L486.2 1354.4 L488.7 1350.6 L491.3 1346.6 L493.8 1342.5 L496.3 1338.2 L498.8 1333.9 L501.4 1329.5 L503.9 1325.1 L506.4 1320.9 L508.9 1316.8 L511.4 1313 L513.9 1309.5 L516.5 1306.3 L519 1303.6 L521.5 1301.3 L524 1299.4 L526.5 1298 L529 1297.1 L531.5 1296.5 L534 1296.3 L536.5 1296.4 L539 1296.7 L541.5 1297.1 L544 1297.5 L546.5 1297.9 L549 1298.1 L551.5 1298 L554 1297.6 L556.5 1296.8 L559 1295.6 L561.5 1293.9 L564 1291.6 L566.5 1288.8 L569 1285.5 L571.5 1281.6 L573.9 1277.3 L576.4 1272.6 L578.9 1267.5 L581.4 1262 L583.9 1256.3 L586.3 1250.4 L588.8 1244.5 L591.3 1238.5 L593.8 1232.6 L596.2 1226.9 L598.7 1221.5 L601.2 1216.4 L603.7 1211.7 L606.1 1207.6 L608.6 1204 L611.1 1201.1 L613.5 1198.9 L616 1197.5 L618.4 1196.9 L620.9 1197.1 L623.4 1198.1 L625.8 1201 L628.3 1206.3 L630.7 1213.9 L633.2 1223.4 L635.6 1234.6 L638.1 1247.2 L640.5 1260.6 L643 1274.5 L645.4 1288.5 L647.9 1302.2 L650.3 1315.4 L652.8 1327.8 L655.2 1339.2 L657.7 1349.5 L660.1 1358.7 L662.5 1366.7 L665 1373.6 L667.4 1379.5 L669.8 1384.5 L672.3 1388.6 L674.7 1392 L677.1 1394.8 L679.6 1397 L682 1398.9 L684.4 1400.4 L686.9 1401.7 L689.3 1402.7 L691.7 1403.6 L694.1 1404.3 L696.5 1405 L699 1405.5 L701.4 1406 L703.8 1406.5 L706.2 1406.9 L707.8 1407.1 L714.3 1408 L720.7 1408.6 L727.1 1409.1 L733.5 1409.5 L739.9 1409.7 L746.3 1409.9 L752.7 1410 L759.1 1410 L765.4 1410 L771.8 1409.9 L778.1 1409.8 L784.5 1409.7 L790.8 1409.5 L797.1 1409.3 L803.4 1409.2 L809.7 1409 L816 1408.8 L822.3 1408.6 L828.6 1408.3 L834.9 1408.1 L834.9 1410.1 L162.8 1432.4 Z" fill="#1B75BB" stroke="none" stroke-width="1"/>
<path d="M162.8 1427.6 L170 1427.7 L177.2 1427.9 L184.4 1428.1 L191.6 1428.3 L198.7 1428.4 L205.9 1428.3 L213 1427.9 L220.2 1427.3 L227.3 1426.6 L234.4 1425.8 L241.5 1425 L248.6 1424.2 L255.6 1423.6 L262.7 1422.9 L269.8 1422.3 L276.8 1421.6 L283.9 1421 L290.9 1420.4 L297.9 1419.8 L304.9 1419.2 L311.9 1418.7 L318.9 1418.2 L325.9 1417.7 L332.8 1417.3 L339.8 1417 L346.8 1416.6 L353.7 1416.1 L360.6 1415.6 L367.5 1414.9 L374.4 1414.1 L381.3 1413 L388.2 1411.7 L395.1 1410.2 L402 1408.4 L408.8 1406.4 L415.7 1404 L422.5 1401.4 L429.4 1398.5 L436.2 1395.4 L443 1392 L445.5 1390.6 L448.1 1389.2 L450.6 1387.7 L453.2 1386.2 L455.7 1384.5 L458.3 1382.8 L460.8 1381 L463.4 1379.1 L465.9 1377.1 L468.5 1374.9 L471 1372.6 L473.5 1370.1 L476.1 1367.4 L478.6 1364.5 L481.1 1361.3 L483.7 1358 L486.2 1354.4 L488.7 1350.6 L491.3 1346.6 L493.8 1342.5 L496.3 1338.2 L498.8 1333.9 L501.4 1329.5 L503.9 1325.1 L506.4 1320.9 L508.9 1316.8 L511.4 1313 L513.9 1309.5 L516.5 1306.3 L519 1303.6 L521.5 1301.3 L524 1299.4 L526.5 1298 L529 1297.1 L531.5 1296.5 L534 1296.3 L536.5 1296.4 L539 1296.7 L541.5 1297.1 L544 1297.5 L546.5 1297.9 L549 1298.1 L551.5 1298 L554 1297.6 L556.5 1296.8 L559 1295.6 L561.5 1293.9 L564 1291.6 L566.5 1288.8 L569 1285.5 L571.5 1281.6 L573.9 1277.3 L576.4 1272.6 L578.9 1267.5 L581.4 1262 L583.9 1256.3 L586.3 1250.4 L588.8 1244.5 L591.3 1238.5 L593.8 1232.6 L596.2 1226.9 L598.7 1221.5 L601.2 1216.4 L603.7 1211.7 L606.1 1207.6 L608.6 1204 L611.1 1201.1 L613.5 1198.9 L616 1197.5 L618.4 1196.9 L620.9 1197.1 L623.4 1198.1 L625.8 1201 L628.3 1206.3 L630.7 1213.9 L633.2 1223.4 L635.6 1234.6 L638.1 1247.2 L640.5 1260.6 L643 1274.5 L645.4 1288.5 L647.9 1302.2 L650.3 1315.4 L652.8 1327.8 L655.2 1339.2 L657.7 1349.5 L660.1 1358.7 L662.5 1366.7 L665 1373.6 L667.4 1379.5 L669.8 1384.5 L672.3 1388.6 L674.7 1392 L677.1 1394.8 L679.6 1397 L682 1398.9 L684.4 1400.4 L686.9 1401.7 L689.3 1402.7 L691.7 1403.6 L694.1 1404.3 L696.5 1405 L699 1405.5 L701.4 1406 L703.8 1406.5 L706.2 1406.9 L707.8 1407.1 L714.3 1408 L720.7 1408.6 L727.1 1409.1 L733.5 1409.5 L739.9 1409.7 L746.3 1409.9 L752.7 1410 L759.1 1410 L765.4 1410 L771.8 1409.9 L778.1 1409.8 L784.5 1409.7 L790.8 1409.5 L797.1 1409.3 L803.4 1409.2 L809.7 1409 L816 1408.8 L822.3 1408.6 L828.6 1408.3 L834.9 1408.1" fill="none" stroke="#0a0a0a" stroke-width="1.55" stroke-linejoin="round"/>
<line x1="146.9" y1="993" x2="146.9" y2="1457.2" stroke="#000" stroke-width="4.2"/>
<line x1="143.3" y1="1456.5" x2="146.9" y2="1456.5" stroke="#000" stroke-width="2.6"/>
<line x1="143.3" y1="1398.8" x2="146.9" y2="1398.8" stroke="#000" stroke-width="2.6"/>
<line x1="143.3" y1="1341.1" x2="146.9" y2="1341.1" stroke="#000" stroke-width="2.6"/>
<line x1="143.3" y1="1283.4" x2="146.9" y2="1283.4" stroke="#000" stroke-width="2.6"/>
<line x1="143.3" y1="1225.6" x2="146.9" y2="1225.6" stroke="#000" stroke-width="2.6"/>
<line x1="143.3" y1="1167.9" x2="146.9" y2="1167.9" stroke="#000" stroke-width="2.6"/>
<line x1="143.3" y1="1110.2" x2="146.9" y2="1110.2" stroke="#000" stroke-width="2.6"/>
<line x1="143.3" y1="1052.5" x2="146.9" y2="1052.5" stroke="#000" stroke-width="2.6"/>
<line x1="143.3" y1="994.8" x2="146.9" y2="994.8" stroke="#000" stroke-width="2.6"/>
<path d="M144.8 1453.6 L831.8 1430 L831.8 1433 L144.8 1457.9 Z" fill="#000" stroke="none" stroke-width="1"/>
<path d="M830.2 1431.5 L885.1 1180.9" fill="none" stroke="#000" stroke-width="3.4" stroke-linecap="square"/>
<line x1="146.9" y1="1455.7" x2="146.9" y2="1467.2" stroke="#000" stroke-width="3.1"/>
<line x1="237.8" y1="1452.5" x2="237.8" y2="1458" stroke="#000" stroke-width="2.7"/>
<line x1="327" y1="1449.3" x2="327" y2="1460.8" stroke="#000" stroke-width="3.1"/>
<line x1="414.6" y1="1446.2" x2="414.6" y2="1451.7" stroke="#000" stroke-width="2.7"/>
<line x1="500.7" y1="1443.2" x2="500.7" y2="1454.7" stroke="#000" stroke-width="3.1"/>
<line x1="585.2" y1="1440.2" x2="585.2" y2="1445.7" stroke="#000" stroke-width="2.7"/>
<line x1="668.3" y1="1437.2" x2="668.3" y2="1448.7" stroke="#000" stroke-width="3.1"/>
<line x1="750" y1="1434.3" x2="750" y2="1439.8" stroke="#000" stroke-width="2.7"/>
<line x1="830.2" y1="1431.5" x2="830.2" y2="1443" stroke="#000" stroke-width="3.1"/>
<line x1="138.4" y1="1455.7" x2="146.9" y2="1455.7" stroke="#000" stroke-width="3.2"/>
<line x1="834.9" y1="1410.1" x2="844.5" y2="1410.1" stroke="#000" stroke-width="3"/>
<line x1="843.8" y1="1369.3" x2="853.4" y2="1369.3" stroke="#000" stroke-width="3"/>
<line x1="852.3" y1="1330.7" x2="861.9" y2="1330.7" stroke="#000" stroke-width="3"/>
<line x1="860.3" y1="1294.2" x2="869.9" y2="1294.2" stroke="#000" stroke-width="3"/>
<line x1="867.8" y1="1259.7" x2="877.4" y2="1259.7" stroke="#000" stroke-width="3"/>
<line x1="875" y1="1226.9" x2="884.6" y2="1226.9" stroke="#000" stroke-width="3"/>
<line x1="881.8" y1="1195.9" x2="891.4" y2="1195.9" stroke="#000" stroke-width="3"/>
<line x1="830.2" y1="1431.5" x2="837.7" y2="1431.5" stroke="#000" stroke-width="2.8"/>
<line x1="839.4" y1="1389.4" x2="844.6" y2="1389.4" stroke="#000" stroke-width="2.6"/>
<line x1="848.1" y1="1349.7" x2="853.3" y2="1349.7" stroke="#000" stroke-width="2.6"/>
<line x1="856.3" y1="1312.2" x2="861.5" y2="1312.2" stroke="#000" stroke-width="2.6"/>
<line x1="864.1" y1="1276.7" x2="869.3" y2="1276.7" stroke="#000" stroke-width="2.6"/>
<line x1="871.5" y1="1243.1" x2="876.7" y2="1243.1" stroke="#000" stroke-width="2.6"/>
<line x1="878.5" y1="1211.2" x2="883.7" y2="1211.2" stroke="#000" stroke-width="2.6"/>
<line x1="885.1" y1="1180.9" x2="892.6" y2="1180.9" stroke="#000" stroke-width="2.8"/>
<text class="fa b" x="147.2" y="1503.7" font-size="31.47" text-anchor="middle">400</text>
<text class="fa b" x="328.2" y="1496.2" font-size="30.28" text-anchor="middle">500</text>
<text class="fa b" x="501.6" y="1488.8" font-size="29.98" text-anchor="middle">600</text>
<text class="fa b" x="669.9" y="1482.8" font-size="29.02" text-anchor="middle">700</text>
<text class="fa b" x="832" y="1477.5" font-size="28.3" text-anchor="middle">800</text>
<text class="fs b" x="868.8" y="1422.3" font-size="28.2" text-anchor="middle">60</text>
<text class="fs b" x="876.9" y="1381" font-size="27.4" text-anchor="middle">40</text>
<text class="fs b" x="883.8" y="1342.8" font-size="26.7" text-anchor="middle">20</text>
<text class="fs b" x="891" y="1306" font-size="26" text-anchor="middle">10</text>
<text class="fs b" x="891.5" y="1270.9" font-size="25.4" text-anchor="middle">5</text>
<text class="fs b" x="896.6" y="1238.1" font-size="25" text-anchor="middle">3</text>
<text class="fs b" x="898.3" y="1205.8" font-size="22.3" textLength="64.1" lengthAdjust="spacingAndGlyphs">Blank</text>
<text class="fs b" x="386.6" y="1543.4" font-size="30" textLength="231.3" lengthAdjust="spacingAndGlyphs">Wavelength (nm)</text>
<text class="fs b" transform="translate(126.7 1317) rotate(-90)" font-size="34.14" textLength="152.7" lengthAdjust="spacingAndGlyphs">Absorbance</text>
<text class="fs" transform="translate(946 1363.2) rotate(-90) scale(0.644 1)" dy="0 1.24 1.24 1.24 1.24 1.24 1.24 1.24 1.24 1.24" font-size="28.3" stroke="#000" stroke-width="0.5">Time (min)</text>
<text class="fs" x="125.3" y="856" font-size="54">c</text>
</g>
<g id="panel-d">
<path d="M1137.5 1461.3 L1777.2 1436.8 L1828.9 1183.2 L1310 1188.3 Z" fill="#E0EACB" stroke="none" stroke-width="1"/>
<path d="M1445.4 1187L1445.4 813.7M1305.9 1454.9L1445.4 1187M1576.8 1185.7L1576.8 817.7M1468.5 1448.6L1576.8 1185.7M1704.6 1184.4L1704.6 821.6M1625.5 1442.6L1704.6 1184.4M1309.9 1093.6L1828.8 1093.8M1309.8 998.9L1828.7 1004.3M1309.7 904.2L1828.5 914.9M1152.4 1437.8L1152.4 978M1152.4 1437.8L1781.6 1415.2M1180.7 1392.9L1180.7 947.6M1180.7 1392.9L1790 1373.9M1207.4 1350.7L1207.4 919M1207.4 1350.7L1798 1334.8M1232.5 1311L1232.5 892.1M1232.5 1311L1805.5 1297.9M1256.2 1273.4L1256.2 866.7M1256.2 1273.4L1812.6 1263M1278.6 1238L1278.6 842.7M1278.6 1238L1819.4 1229.8M1299.8 1204.4L1299.8 820M1299.8 1204.4L1825.8 1198.4" stroke="#CECECE" stroke-width="1.05" fill="none"/>
<path d="M1137.5 1344.5L1309.9 1093.6M1137.5 1227.6L1309.8 998.9M1137.5 1110.8L1309.7 904.2" stroke="#BDBDBD" stroke-width="0.9" fill="none"/>
<path d="M1137.5 993.9L1309.6 809.5M1309.6 809.5L1828.4 825.4M1309.6 809.5L1310 1188.3M1828.4 825.4L1828.9 1183.2M1310 1188.3L1828.9 1183.2M1137.5 1461.3L1310 1188.3" stroke="#2a2a2a" stroke-width="1.3" fill="none" stroke-linecap="round"/>
<path d="M1299.8 1198.8 L1305.4 1199.1 L1310.9 1199.4 L1316.5 1199.7 L1322.1 1200.1 L1327.6 1200.3 L1333.1 1200.3 L1338.7 1200.1 L1344.2 1199.7 L1349.7 1199.2 L1355.2 1198.6 L1360.7 1197.9 L1366.2 1197.3 L1371.7 1196.7 L1377.2 1196.1 L1382.7 1195.4 L1388.1 1194.8 L1393.6 1194.1 L1399.1 1193.4 L1404.5 1192.7 L1410 1192.1 L1415.4 1191.5 L1420.8 1191 L1426.3 1190.6 L1431.7 1190.1 L1437.1 1189.7 L1442.5 1189.2 L1447.9 1188.5 L1453.3 1187.7 L1458.7 1186.7 L1464.1 1185.3 L1469.4 1183.6 L1474.8 1181.5 L1480.2 1178.9 L1485.5 1175.8 L1490.9 1172.2 L1496.2 1168.1 L1501.6 1163.6 L1506.9 1158.5 L1512.2 1152.9 L1517.5 1146.8 L1519.5 1144.4 L1521.5 1141.9 L1523.5 1139.2 L1525.5 1136.5 L1527.5 1133.6 L1529.5 1130.5 L1531.5 1127.3 L1533.5 1123.8 L1535.5 1120.2 L1537.4 1116.2 L1539.4 1112 L1541.4 1107.4 L1543.4 1102.5 L1545.4 1097.2 L1547.4 1091.4 L1549.3 1085.3 L1551.3 1078.8 L1553.3 1071.8 L1555.3 1064.5 L1557.3 1056.9 L1559.2 1049.1 L1561.2 1041.1 L1563.2 1033.1 L1565.2 1025.2 L1567.1 1017.5 L1569.1 1010.1 L1571.1 1003.1 L1573 996.8 L1575 991.2 L1577 986.3 L1578.9 982.4 L1580.9 979.3 L1582.9 977.1 L1584.8 975.8 L1586.8 975.4 L1588.8 975.6 L1590.7 976.5 L1592.7 977.8 L1594.7 979.5 L1596.6 981.3 L1598.6 983.1 L1600.5 984.7 L1602.5 985.9 L1604.4 986.7 L1606.4 986.8 L1608.4 986.3 L1610.3 984.9 L1612.3 982.8 L1614.2 979.8 L1616.2 975.9 L1618.1 971.2 L1620.1 965.8 L1622 959.6 L1624 952.8 L1625.9 945.5 L1627.9 937.8 L1629.8 929.8 L1631.7 921.7 L1633.7 913.5 L1635.6 905.4 L1637.6 897.6 L1639.5 890.1 L1641.5 883.2 L1643.4 876.9 L1645.3 871.4 L1647.3 866.8 L1649.2 863.1 L1651.1 860.4 L1653.1 859 L1655 858.6 L1657 859.5 L1658.9 861.7 L1660.8 866.6 L1662.7 875.1 L1664.7 886.9 L1666.6 901.7 L1668.5 919 L1670.5 938.2 L1672.4 958.7 L1674.3 979.9 L1676.2 1001.2 L1678.2 1022.2 L1680.1 1042.3 L1682 1061.2 L1683.9 1078.7 L1685.9 1094.5 L1687.8 1108.7 L1689.7 1121.1 L1691.6 1131.9 L1693.5 1141.1 L1695.5 1148.9 L1697.4 1155.5 L1699.3 1161 L1701.2 1165.5 L1703.1 1169.3 L1705 1172.5 L1706.9 1175.1 L1708.9 1177.4 L1710.8 1179.3 L1712.7 1180.9 L1714.6 1182.3 L1716.5 1183.6 L1718.4 1184.8 L1720.3 1185.8 L1722.2 1186.7 L1724.1 1187.6 L1725.4 1188.2 L1730.5 1190.1 L1735.5 1191.7 L1740.6 1193 L1745.7 1194 L1750.7 1194.9 L1755.8 1195.6 L1760.8 1196.1 L1765.8 1196.5 L1770.9 1196.8 L1775.9 1197 L1780.9 1197.1 L1785.9 1197.2 L1790.9 1197.3 L1795.9 1197.3 L1800.9 1197.3 L1805.9 1197.3 L1810.9 1197.2 L1815.9 1197.2 L1820.8 1197.1 L1825.8 1197.1 L1825.8 1198.4 L1299.8 1204.4 Z" fill="#E3F1F3" stroke="none" stroke-width="1"/>
<path d="M1299.8 1198.8 L1305.4 1199.1 L1310.9 1199.4 L1316.5 1199.7 L1322.1 1200.1 L1327.6 1200.3 L1333.1 1200.3 L1338.7 1200.1 L1344.2 1199.7 L1349.7 1199.2 L1355.2 1198.6 L1360.7 1197.9 L1366.2 1197.3 L1371.7 1196.7 L1377.2 1196.1 L1382.7 1195.4 L1388.1 1194.8 L1393.6 1194.1 L1399.1 1193.4 L1404.5 1192.7 L1410 1192.1 L1415.4 1191.5 L1420.8 1191 L1426.3 1190.6 L1431.7 1190.1 L1437.1 1189.7 L1442.5 1189.2 L1447.9 1188.5 L1453.3 1187.7 L1458.7 1186.7 L1464.1 1185.3 L1469.4 1183.6 L1474.8 1181.5 L1480.2 1178.9 L1485.5 1175.8 L1490.9 1172.2 L1496.2 1168.1 L1501.6 1163.6 L1506.9 1158.5 L1512.2 1152.9 L1517.5 1146.8 L1519.5 1144.4 L1521.5 1141.9 L1523.5 1139.2 L1525.5 1136.5 L1527.5 1133.6 L1529.5 1130.5 L1531.5 1127.3 L1533.5 1123.8 L1535.5 1120.2 L1537.4 1116.2 L1539.4 1112 L1541.4 1107.4 L1543.4 1102.5 L1545.4 1097.2 L1547.4 1091.4 L1549.3 1085.3 L1551.3 1078.8 L1553.3 1071.8 L1555.3 1064.5 L1557.3 1056.9 L1559.2 1049.1 L1561.2 1041.1 L1563.2 1033.1 L1565.2 1025.2 L1567.1 1017.5 L1569.1 1010.1 L1571.1 1003.1 L1573 996.8 L1575 991.2 L1577 986.3 L1578.9 982.4 L1580.9 979.3 L1582.9 977.1 L1584.8 975.8 L1586.8 975.4 L1588.8 975.6 L1590.7 976.5 L1592.7 977.8 L1594.7 979.5 L1596.6 981.3 L1598.6 983.1 L1600.5 984.7 L1602.5 985.9 L1604.4 986.7 L1606.4 986.8 L1608.4 986.3 L1610.3 984.9 L1612.3 982.8 L1614.2 979.8 L1616.2 975.9 L1618.1 971.2 L1620.1 965.8 L1622 959.6 L1624 952.8 L1625.9 945.5 L1627.9 937.8 L1629.8 929.8 L1631.7 921.7 L1633.7 913.5 L1635.6 905.4 L1637.6 897.6 L1639.5 890.1 L1641.5 883.2 L1643.4 876.9 L1645.3 871.4 L1647.3 866.8 L1649.2 863.1 L1651.1 860.4 L1653.1 859 L1655 858.6 L1657 859.5 L1658.9 861.7 L1660.8 866.6 L1662.7 875.1 L1664.7 886.9 L1666.6 901.7 L1668.5 919 L1670.5 938.2 L1672.4 958.7 L1674.3 979.9 L1676.2 1001.2 L1678.2 1022.2 L1680.1 1042.3 L1682 1061.2 L1683.9 1078.7 L1685.9 1094.5 L1687.8 1108.7 L1689.7 1121.1 L1691.6 1131.9 L1693.5 1141.1 L1695.5 1148.9 L1697.4 1155.5 L1699.3 1161 L1701.2 1165.5 L1703.1 1169.3 L1705 1172.5 L1706.9 1175.1 L1708.9 1177.4 L1710.8 1179.3 L1712.7 1180.9 L1714.6 1182.3 L1716.5 1183.6 L1718.4 1184.8 L1720.3 1185.8 L1722.2 1186.7 L1724.1 1187.6 L1725.4 1188.2 L1730.5 1190.1 L1735.5 1191.7 L1740.6 1193 L1745.7 1194 L1750.7 1194.9 L1755.8 1195.6 L1760.8 1196.1 L1765.8 1196.5 L1770.9 1196.8 L1775.9 1197 L1780.9 1197.1 L1785.9 1197.2 L1790.9 1197.3 L1795.9 1197.3 L1800.9 1197.3 L1805.9 1197.3 L1810.9 1197.2 L1815.9 1197.2 L1820.8 1197.1 L1825.8 1197.1" fill="none" stroke="#0a0a0a" stroke-width="1.55" stroke-linejoin="round"/>
<path d="M1278.6 1233.9 L1284.3 1234.1 L1290.1 1234.4 L1295.8 1234.7 L1301.5 1235.1 L1307.2 1235.3 L1312.9 1235.3 L1318.6 1235 L1324.3 1234.6 L1330 1234.1 L1335.6 1233.4 L1341.3 1232.8 L1347 1232.2 L1352.6 1231.6 L1358.3 1231 L1363.9 1230.5 L1369.5 1229.9 L1375.2 1229.3 L1380.8 1228.7 L1386.4 1228.1 L1392 1227.6 L1397.6 1227.1 L1403.2 1226.6 L1408.8 1226.2 L1414.3 1225.9 L1419.9 1225.5 L1425.5 1225.1 L1431 1224.7 L1436.6 1224 L1442.1 1223.2 L1447.7 1222.2 L1453.2 1220.9 L1458.7 1219.2 L1464.2 1217.2 L1469.7 1214.9 L1475.2 1212.1 L1480.7 1209 L1486.2 1205.5 L1491.7 1201.6 L1497.2 1197.3 L1502.7 1192.6 L1504.7 1190.7 L1506.8 1188.8 L1508.8 1186.7 L1510.9 1184.6 L1512.9 1182.4 L1514.9 1180.1 L1517 1177.6 L1519 1174.9 L1521.1 1172.1 L1523.1 1169.1 L1525.2 1165.8 L1527.2 1162.3 L1529.2 1158.5 L1531.3 1154.4 L1533.3 1150.1 L1535.4 1145.3 L1537.4 1140.3 L1539.4 1135 L1541.5 1129.4 L1543.5 1123.6 L1545.5 1117.6 L1547.6 1111.4 L1549.6 1105.3 L1551.6 1099.2 L1553.6 1093.2 L1555.7 1087.5 L1557.7 1082.2 L1559.7 1077.3 L1561.7 1072.9 L1563.8 1069.1 L1565.8 1066 L1567.8 1063.5 L1569.8 1061.8 L1571.9 1060.6 L1573.9 1060.1 L1575.9 1060.1 L1577.9 1060.6 L1579.9 1061.3 L1581.9 1062.3 L1584 1063.4 L1586 1064.4 L1588 1065.2 L1590 1065.7 L1592 1065.8 L1594 1065.4 L1596 1064.4 L1598 1062.7 L1600 1060.4 L1602 1057.4 L1604.1 1053.6 L1606.1 1049.2 L1608.1 1044.2 L1610.1 1038.5 L1612.1 1032.4 L1614.1 1025.9 L1616.1 1019 L1618.1 1011.8 L1620.1 1004.6 L1622.1 997.3 L1624.1 990.2 L1626.1 983.2 L1628.1 976.6 L1630 970.4 L1632 964.8 L1634 959.8 L1636 955.6 L1638 952.2 L1640 949.7 L1642 948.2 L1644 947.7 L1646 948.2 L1648 949.8 L1649.9 953.8 L1651.9 960.8 L1653.9 970.7 L1655.9 983.1 L1657.9 997.6 L1659.9 1013.8 L1661.8 1031.1 L1663.8 1049 L1665.8 1067 L1667.8 1084.7 L1669.7 1101.7 L1671.7 1117.7 L1673.7 1132.4 L1675.7 1145.8 L1677.6 1157.6 L1679.6 1168.1 L1681.6 1177.1 L1683.6 1184.8 L1685.5 1191.3 L1687.5 1196.8 L1689.5 1201.3 L1691.4 1205 L1693.4 1208.1 L1695.4 1210.7 L1697.3 1212.8 L1699.3 1214.6 L1701.3 1216.1 L1703.2 1217.4 L1705.2 1218.5 L1707.1 1219.5 L1709.1 1220.3 L1711.1 1221.1 L1713 1221.8 L1715 1222.5 L1716.3 1222.9 L1721.5 1224.3 L1726.7 1225.5 L1731.9 1226.4 L1737.1 1227.2 L1742.3 1227.8 L1747.5 1228.3 L1752.6 1228.6 L1757.8 1228.9 L1763 1229.1 L1768.1 1229.2 L1773.3 1229.3 L1778.4 1229.3 L1783.6 1229.3 L1788.7 1229.3 L1793.8 1229.2 L1799 1229.2 L1804.1 1229.1 L1809.2 1229 L1814.3 1228.9 L1819.4 1228.8 L1819.4 1229.8 L1278.6 1238 Z" fill="#C2DCEA" stroke="none" stroke-width="1"/>
<path d="M1278.6 1233.9 L1284.3 1234.1 L1290.1 1234.4 L1295.8 1234.7 L1301.5 1235.1 L1307.2 1235.3 L1312.9 1235.3 L1318.6 1235 L1324.3 1234.6 L1330 1234.1 L1335.6 1233.4 L1341.3 1232.8 L1347 1232.2 L1352.6 1231.6 L1358.3 1231 L1363.9 1230.5 L1369.5 1229.9 L1375.2 1229.3 L1380.8 1228.7 L1386.4 1228.1 L1392 1227.6 L1397.6 1227.1 L1403.2 1226.6 L1408.8 1226.2 L1414.3 1225.9 L1419.9 1225.5 L1425.5 1225.1 L1431 1224.7 L1436.6 1224 L1442.1 1223.2 L1447.7 1222.2 L1453.2 1220.9 L1458.7 1219.2 L1464.2 1217.2 L1469.7 1214.9 L1475.2 1212.1 L1480.7 1209 L1486.2 1205.5 L1491.7 1201.6 L1497.2 1197.3 L1502.7 1192.6 L1504.7 1190.7 L1506.8 1188.8 L1508.8 1186.7 L1510.9 1184.6 L1512.9 1182.4 L1514.9 1180.1 L1517 1177.6 L1519 1174.9 L1521.1 1172.1 L1523.1 1169.1 L1525.2 1165.8 L1527.2 1162.3 L1529.2 1158.5 L1531.3 1154.4 L1533.3 1150.1 L1535.4 1145.3 L1537.4 1140.3 L1539.4 1135 L1541.5 1129.4 L1543.5 1123.6 L1545.5 1117.6 L1547.6 1111.4 L1549.6 1105.3 L1551.6 1099.2 L1553.6 1093.2 L1555.7 1087.5 L1557.7 1082.2 L1559.7 1077.3 L1561.7 1072.9 L1563.8 1069.1 L1565.8 1066 L1567.8 1063.5 L1569.8 1061.8 L1571.9 1060.6 L1573.9 1060.1 L1575.9 1060.1 L1577.9 1060.6 L1579.9 1061.3 L1581.9 1062.3 L1584 1063.4 L1586 1064.4 L1588 1065.2 L1590 1065.7 L1592 1065.8 L1594 1065.4 L1596 1064.4 L1598 1062.7 L1600 1060.4 L1602 1057.4 L1604.1 1053.6 L1606.1 1049.2 L1608.1 1044.2 L1610.1 1038.5 L1612.1 1032.4 L1614.1 1025.9 L1616.1 1019 L1618.1 1011.8 L1620.1 1004.6 L1622.1 997.3 L1624.1 990.2 L1626.1 983.2 L1628.1 976.6 L1630 970.4 L1632 964.8 L1634 959.8 L1636 955.6 L1638 952.2 L1640 949.7 L1642 948.2 L1644 947.7 L1646 948.2 L1648 949.8 L1649.9 953.8 L1651.9 960.8 L1653.9 970.7 L1655.9 983.1 L1657.9 997.6 L1659.9 1013.8 L1661.8 1031.1 L1663.8 1049 L1665.8 1067 L1667.8 1084.7 L1669.7 1101.7 L1671.7 1117.7 L1673.7 1132.4 L1675.7 1145.8 L1677.6 1157.6 L1679.6 1168.1 L1681.6 1177.1 L1683.6 1184.8 L1685.5 1191.3 L1687.5 1196.8 L1689.5 1201.3 L1691.4 1205 L1693.4 1208.1 L1695.4 1210.7 L1697.3 1212.8 L1699.3 1214.6 L1701.3 1216.1 L1703.2 1217.4 L1705.2 1218.5 L1707.1 1219.5 L1709.1 1220.3 L1711.1 1221.1 L1713 1221.8 L1715 1222.5 L1716.3 1222.9 L1721.5 1224.3 L1726.7 1225.5 L1731.9 1226.4 L1737.1 1227.2 L1742.3 1227.8 L1747.5 1228.3 L1752.6 1228.6 L1757.8 1228.9 L1763 1229.1 L1768.1 1229.2 L1773.3 1229.3 L1778.4 1229.3 L1783.6 1229.3 L1788.7 1229.3 L1793.8 1229.2 L1799 1229.2 L1804.1 1229.1 L1809.2 1229 L1814.3 1228.9 L1819.4 1228.8" fill="none" stroke="#0a0a0a" stroke-width="1.55" stroke-linejoin="round"/>
<path d="M1256.2 1269.6 L1262.1 1269.8 L1268 1270 L1273.9 1270.4 L1279.8 1270.7 L1285.7 1270.8 L1291.5 1270.8 L1297.4 1270.6 L1303.3 1270.1 L1309.1 1269.5 L1315 1268.8 L1320.8 1268.2 L1326.6 1267.5 L1332.5 1266.9 L1338.3 1266.3 L1344.1 1265.7 L1349.9 1265.1 L1355.7 1264.4 L1361.5 1263.8 L1367.2 1263.2 L1373 1262.6 L1378.8 1262.1 L1384.5 1261.6 L1390.3 1261.2 L1396 1260.8 L1401.8 1260.5 L1407.5 1260 L1413.2 1259.5 L1418.9 1258.9 L1424.6 1258.1 L1430.3 1257 L1436 1255.7 L1441.7 1254 L1447.4 1252 L1453.1 1249.6 L1458.7 1246.8 L1464.4 1243.6 L1470 1240 L1475.7 1236.1 L1481.3 1231.8 L1487 1227 L1489.1 1225.1 L1491.2 1223.2 L1493.3 1221.1 L1495.4 1219 L1497.5 1216.7 L1499.6 1214.4 L1501.7 1211.9 L1503.8 1209.2 L1505.9 1206.4 L1508 1203.3 L1510.1 1200 L1512.2 1196.5 L1514.3 1192.7 L1516.4 1188.6 L1518.5 1184.2 L1520.6 1179.4 L1522.7 1174.4 L1524.8 1169 L1526.9 1163.4 L1529 1157.5 L1531.1 1151.5 L1533.2 1145.3 L1535.2 1139.1 L1537.3 1133 L1539.4 1127 L1541.5 1121.2 L1543.6 1115.9 L1545.7 1110.9 L1547.8 1106.5 L1549.8 1102.7 L1551.9 1099.5 L1554 1097.1 L1556.1 1095.3 L1558.2 1094.1 L1560.2 1093.5 L1562.3 1093.5 L1564.4 1094 L1566.5 1094.7 L1568.5 1095.7 L1570.6 1096.7 L1572.7 1097.6 L1574.7 1098.4 L1576.8 1098.9 L1578.9 1098.9 L1581 1098.5 L1583 1097.4 L1585.1 1095.6 L1587.2 1093.2 L1589.2 1090.1 L1591.3 1086.3 L1593.3 1081.7 L1595.4 1076.6 L1597.5 1070.8 L1599.5 1064.6 L1601.6 1057.9 L1603.6 1050.9 L1605.7 1043.6 L1607.7 1036.2 L1609.8 1028.8 L1611.9 1021.5 L1613.9 1014.5 L1616 1007.7 L1618 1001.5 L1620.1 995.7 L1622.1 990.7 L1624.2 986.3 L1626.2 982.9 L1628.3 980.3 L1630.3 978.8 L1632.3 978.2 L1634.4 978.7 L1636.4 980.3 L1638.5 984.3 L1640.5 991.4 L1642.6 1001.4 L1644.6 1013.9 L1646.6 1028.6 L1648.7 1045 L1650.7 1062.5 L1652.7 1080.7 L1654.8 1098.9 L1656.8 1116.9 L1658.8 1134.1 L1660.9 1150.2 L1662.9 1165.2 L1664.9 1178.7 L1667 1190.7 L1669 1201.3 L1671 1210.4 L1673 1218.2 L1675.1 1224.8 L1677.1 1230.3 L1679.1 1234.8 L1681.1 1238.6 L1683.2 1241.7 L1685.2 1244.3 L1687.2 1246.5 L1689.2 1248.2 L1691.2 1249.7 L1693.3 1251 L1695.3 1252.1 L1697.3 1253.1 L1699.3 1254 L1701.3 1254.8 L1703.3 1255.5 L1705.3 1256.1 L1706.7 1256.5 L1712 1257.9 L1717.4 1259.1 L1722.7 1260 L1728.1 1260.7 L1733.4 1261.3 L1738.7 1261.8 L1744 1262.1 L1749.4 1262.3 L1754.7 1262.5 L1760 1262.6 L1765.3 1262.6 L1770.6 1262.6 L1775.8 1262.6 L1781.1 1262.6 L1786.4 1262.5 L1791.6 1262.4 L1796.9 1262.3 L1802.2 1262.2 L1807.4 1262.1 L1812.6 1262 L1812.6 1263 L1256.2 1273.4 Z" fill="#A0C8E0" stroke="none" stroke-width="1"/>
<path d="M1256.2 1269.6 L1262.1 1269.8 L1268 1270 L1273.9 1270.4 L1279.8 1270.7 L1285.7 1270.8 L1291.5 1270.8 L1297.4 1270.6 L1303.3 1270.1 L1309.1 1269.5 L1315 1268.8 L1320.8 1268.2 L1326.6 1267.5 L1332.5 1266.9 L1338.3 1266.3 L1344.1 1265.7 L1349.9 1265.1 L1355.7 1264.4 L1361.5 1263.8 L1367.2 1263.2 L1373 1262.6 L1378.8 1262.1 L1384.5 1261.6 L1390.3 1261.2 L1396 1260.8 L1401.8 1260.5 L1407.5 1260 L1413.2 1259.5 L1418.9 1258.9 L1424.6 1258.1 L1430.3 1257 L1436 1255.7 L1441.7 1254 L1447.4 1252 L1453.1 1249.6 L1458.7 1246.8 L1464.4 1243.6 L1470 1240 L1475.7 1236.1 L1481.3 1231.8 L1487 1227 L1489.1 1225.1 L1491.2 1223.2 L1493.3 1221.1 L1495.4 1219 L1497.5 1216.7 L1499.6 1214.4 L1501.7 1211.9 L1503.8 1209.2 L1505.9 1206.4 L1508 1203.3 L1510.1 1200 L1512.2 1196.5 L1514.3 1192.7 L1516.4 1188.6 L1518.5 1184.2 L1520.6 1179.4 L1522.7 1174.4 L1524.8 1169 L1526.9 1163.4 L1529 1157.5 L1531.1 1151.5 L1533.2 1145.3 L1535.2 1139.1 L1537.3 1133 L1539.4 1127 L1541.5 1121.2 L1543.6 1115.9 L1545.7 1110.9 L1547.8 1106.5 L1549.8 1102.7 L1551.9 1099.5 L1554 1097.1 L1556.1 1095.3 L1558.2 1094.1 L1560.2 1093.5 L1562.3 1093.5 L1564.4 1094 L1566.5 1094.7 L1568.5 1095.7 L1570.6 1096.7 L1572.7 1097.6 L1574.7 1098.4 L1576.8 1098.9 L1578.9 1098.9 L1581 1098.5 L1583 1097.4 L1585.1 1095.6 L1587.2 1093.2 L1589.2 1090.1 L1591.3 1086.3 L1593.3 1081.7 L1595.4 1076.6 L1597.5 1070.8 L1599.5 1064.6 L1601.6 1057.9 L1603.6 1050.9 L1605.7 1043.6 L1607.7 1036.2 L1609.8 1028.8 L1611.9 1021.5 L1613.9 1014.5 L1616 1007.7 L1618 1001.5 L1620.1 995.7 L1622.1 990.7 L1624.2 986.3 L1626.2 982.9 L1628.3 980.3 L1630.3 978.8 L1632.3 978.2 L1634.4 978.7 L1636.4 980.3 L1638.5 984.3 L1640.5 991.4 L1642.6 1001.4 L1644.6 1013.9 L1646.6 1028.6 L1648.7 1045 L1650.7 1062.5 L1652.7 1080.7 L1654.8 1098.9 L1656.8 1116.9 L1658.8 1134.1 L1660.9 1150.2 L1662.9 1165.2 L1664.9 1178.7 L1667 1190.7 L1669 1201.3 L1671 1210.4 L1673 1218.2 L1675.1 1224.8 L1677.1 1230.3 L1679.1 1234.8 L1681.1 1238.6 L1683.2 1241.7 L1685.2 1244.3 L1687.2 1246.5 L1689.2 1248.2 L1691.2 1249.7 L1693.3 1251 L1695.3 1252.1 L1697.3 1253.1 L1699.3 1254 L1701.3 1254.8 L1703.3 1255.5 L1705.3 1256.1 L1706.7 1256.5 L1712 1257.9 L1717.4 1259.1 L1722.7 1260 L1728.1 1260.7 L1733.4 1261.3 L1738.7 1261.8 L1744 1262.1 L1749.4 1262.3 L1754.7 1262.5 L1760 1262.6 L1765.3 1262.6 L1770.6 1262.6 L1775.8 1262.6 L1781.1 1262.6 L1786.4 1262.5 L1791.6 1262.4 L1796.9 1262.3 L1802.2 1262.2 L1807.4 1262.1 L1812.6 1262" fill="none" stroke="#0a0a0a" stroke-width="1.55" stroke-linejoin="round"/>
<path d="M1232.5 1303.4 L1238.6 1303.6 L1244.7 1303.9 L1250.8 1304.3 L1256.8 1304.6 L1262.9 1304.8 L1269 1304.8 L1275 1304.5 L1281 1304.1 L1287.1 1303.5 L1293.1 1302.8 L1299.1 1302.1 L1305.1 1301.5 L1311.1 1300.9 L1317.1 1300.3 L1323.1 1299.7 L1329.1 1299.1 L1335.1 1298.5 L1341 1297.9 L1347 1297.3 L1353 1296.7 L1358.9 1296.2 L1364.8 1295.8 L1370.8 1295.4 L1376.7 1295 L1382.6 1294.7 L1388.5 1294.3 L1394.4 1293.8 L1400.3 1293.2 L1406.2 1292.5 L1412 1291.4 L1417.9 1290.2 L1423.8 1288.6 L1429.6 1286.6 L1435.5 1284.3 L1441.3 1281.7 L1447.1 1278.6 L1452.9 1275.2 L1458.8 1271.4 L1464.6 1267.3 L1470.4 1262.7 L1472.5 1260.9 L1474.7 1259 L1476.9 1257 L1479.1 1255 L1481.2 1252.8 L1483.4 1250.5 L1485.6 1248.1 L1487.7 1245.6 L1489.9 1242.8 L1492.1 1239.9 L1494.2 1236.8 L1496.4 1233.4 L1498.5 1229.7 L1500.7 1225.7 L1502.9 1221.5 L1505 1216.9 L1507.2 1212.1 L1509.3 1206.9 L1511.5 1201.5 L1513.6 1195.8 L1515.8 1190 L1517.9 1184.1 L1520.1 1178.1 L1522.2 1172.2 L1524.4 1166.4 L1526.5 1160.9 L1528.7 1155.7 L1530.8 1151 L1533 1146.7 L1535.1 1143.1 L1537.3 1140 L1539.4 1137.6 L1541.6 1135.8 L1543.7 1134.7 L1545.8 1134.1 L1548 1134.1 L1550.1 1134.5 L1552.2 1135.1 L1554.4 1136 L1556.5 1136.9 L1558.6 1137.8 L1560.8 1138.5 L1562.9 1138.8 L1565 1138.8 L1567.2 1138.2 L1569.3 1137 L1571.4 1135.2 L1573.5 1132.8 L1575.7 1129.6 L1577.8 1125.8 L1579.9 1121.2 L1582 1116.1 L1584.2 1110.4 L1586.3 1104.2 L1588.4 1097.5 L1590.5 1090.6 L1592.6 1083.4 L1594.7 1076.1 L1596.9 1068.7 L1599 1061.5 L1601.1 1054.5 L1603.2 1047.8 L1605.3 1041.6 L1607.4 1035.9 L1609.5 1030.9 L1611.6 1026.6 L1613.7 1023.2 L1615.9 1020.6 L1618 1019 L1620.1 1018.4 L1622.2 1018.9 L1624.3 1020.4 L1626.4 1024.3 L1628.5 1031.2 L1630.6 1041 L1632.7 1053.4 L1634.8 1067.8 L1636.9 1083.9 L1639 1101.1 L1641.1 1118.9 L1643.1 1136.9 L1645.2 1154.5 L1647.3 1171.4 L1649.4 1187.3 L1651.5 1201.9 L1653.6 1215.2 L1655.7 1227 L1657.8 1237.4 L1659.9 1246.3 L1661.9 1254 L1664 1260.4 L1666.1 1265.8 L1668.2 1270.3 L1670.3 1274 L1672.4 1277 L1674.4 1279.6 L1676.5 1281.6 L1678.6 1283.4 L1680.7 1284.8 L1682.7 1286.1 L1684.8 1287.2 L1686.9 1288.1 L1689 1288.9 L1691 1289.7 L1693.1 1290.4 L1695.2 1291 L1696.5 1291.4 L1702.1 1292.7 L1707.6 1293.8 L1713.1 1294.7 L1718.6 1295.5 L1724 1296 L1729.5 1296.5 L1735 1296.8 L1740.5 1297 L1745.9 1297.2 L1751.4 1297.3 L1756.8 1297.3 L1762.2 1297.3 L1767.7 1297.3 L1773.1 1297.3 L1778.5 1297.2 L1783.9 1297.1 L1789.3 1297 L1794.7 1296.9 L1800.1 1296.8 L1805.5 1296.7 L1805.5 1297.9 L1232.5 1311 Z" fill="#7FB3D7" stroke="none" stroke-width="1"/>
<path d="M1232.5 1303.4 L1238.6 1303.6 L1244.7 1303.9 L1250.8 1304.3 L1256.8 1304.6 L1262.9 1304.8 L1269 1304.8 L1275 1304.5 L1281 1304.1 L1287.1 1303.5 L1293.1 1302.8 L1299.1 1302.1 L1305.1 1301.5 L1311.1 1300.9 L1317.1 1300.3 L1323.1 1299.7 L1329.1 1299.1 L1335.1 1298.5 L1341 1297.9 L1347 1297.3 L1353 1296.7 L1358.9 1296.2 L1364.8 1295.8 L1370.8 1295.4 L1376.7 1295 L1382.6 1294.7 L1388.5 1294.3 L1394.4 1293.8 L1400.3 1293.2 L1406.2 1292.5 L1412 1291.4 L1417.9 1290.2 L1423.8 1288.6 L1429.6 1286.6 L1435.5 1284.3 L1441.3 1281.7 L1447.1 1278.6 L1452.9 1275.2 L1458.8 1271.4 L1464.6 1267.3 L1470.4 1262.7 L1472.5 1260.9 L1474.7 1259 L1476.9 1257 L1479.1 1255 L1481.2 1252.8 L1483.4 1250.5 L1485.6 1248.1 L1487.7 1245.6 L1489.9 1242.8 L1492.1 1239.9 L1494.2 1236.8 L1496.4 1233.4 L1498.5 1229.7 L1500.7 1225.7 L1502.9 1221.5 L1505 1216.9 L1507.2 1212.1 L1509.3 1206.9 L1511.5 1201.5 L1513.6 1195.8 L1515.8 1190 L1517.9 1184.1 L1520.1 1178.1 L1522.2 1172.2 L1524.4 1166.4 L1526.5 1160.9 L1528.7 1155.7 L1530.8 1151 L1533 1146.7 L1535.1 1143.1 L1537.3 1140 L1539.4 1137.6 L1541.6 1135.8 L1543.7 1134.7 L1545.8 1134.1 L1548 1134.1 L1550.1 1134.5 L1552.2 1135.1 L1554.4 1136 L1556.5 1136.9 L1558.6 1137.8 L1560.8 1138.5 L1562.9 1138.8 L1565 1138.8 L1567.2 1138.2 L1569.3 1137 L1571.4 1135.2 L1573.5 1132.8 L1575.7 1129.6 L1577.8 1125.8 L1579.9 1121.2 L1582 1116.1 L1584.2 1110.4 L1586.3 1104.2 L1588.4 1097.5 L1590.5 1090.6 L1592.6 1083.4 L1594.7 1076.1 L1596.9 1068.7 L1599 1061.5 L1601.1 1054.5 L1603.2 1047.8 L1605.3 1041.6 L1607.4 1035.9 L1609.5 1030.9 L1611.6 1026.6 L1613.7 1023.2 L1615.9 1020.6 L1618 1019 L1620.1 1018.4 L1622.2 1018.9 L1624.3 1020.4 L1626.4 1024.3 L1628.5 1031.2 L1630.6 1041 L1632.7 1053.4 L1634.8 1067.8 L1636.9 1083.9 L1639 1101.1 L1641.1 1118.9 L1643.1 1136.9 L1645.2 1154.5 L1647.3 1171.4 L1649.4 1187.3 L1651.5 1201.9 L1653.6 1215.2 L1655.7 1227 L1657.8 1237.4 L1659.9 1246.3 L1661.9 1254 L1664 1260.4 L1666.1 1265.8 L1668.2 1270.3 L1670.3 1274 L1672.4 1277 L1674.4 1279.6 L1676.5 1281.6 L1678.6 1283.4 L1680.7 1284.8 L1682.7 1286.1 L1684.8 1287.2 L1686.9 1288.1 L1689 1288.9 L1691 1289.7 L1693.1 1290.4 L1695.2 1291 L1696.5 1291.4 L1702.1 1292.7 L1707.6 1293.8 L1713.1 1294.7 L1718.6 1295.5 L1724 1296 L1729.5 1296.5 L1735 1296.8 L1740.5 1297 L1745.9 1297.2 L1751.4 1297.3 L1756.8 1297.3 L1762.2 1297.3 L1767.7 1297.3 L1773.1 1297.3 L1778.5 1297.2 L1783.9 1297.1 L1789.3 1297 L1794.7 1296.9 L1800.1 1296.8 L1805.5 1296.7" fill="none" stroke="#0a0a0a" stroke-width="1.55" stroke-linejoin="round"/>
<path d="M1207.4 1344.3 L1213.7 1344.5 L1220 1344.8 L1226.2 1345.1 L1232.5 1345.4 L1238.8 1345.6 L1245 1345.5 L1251.3 1345.2 L1257.5 1344.7 L1263.7 1344.1 L1270 1343.4 L1276.2 1342.7 L1282.4 1342 L1288.6 1341.3 L1294.8 1340.7 L1300.9 1340 L1307.1 1339.4 L1313.3 1338.8 L1319.4 1338.1 L1325.6 1337.5 L1331.7 1336.9 L1337.8 1336.4 L1344 1335.9 L1350.1 1335.4 L1356.2 1335.1 L1362.3 1334.7 L1368.4 1334.2 L1374.5 1333.7 L1380.5 1333.1 L1386.6 1332.3 L1392.7 1331.3 L1398.7 1330 L1404.8 1328.3 L1410.8 1326.4 L1416.8 1324.1 L1422.8 1321.4 L1428.8 1318.3 L1434.9 1314.9 L1440.8 1311.1 L1446.8 1307 L1452.8 1302.4 L1455.1 1300.6 L1457.3 1298.7 L1459.5 1296.8 L1461.8 1294.7 L1464 1292.6 L1466.2 1290.3 L1468.5 1287.9 L1470.7 1285.4 L1472.9 1282.6 L1475.2 1279.7 L1477.4 1276.6 L1479.6 1273.2 L1481.9 1269.5 L1484.1 1265.6 L1486.3 1261.4 L1488.5 1256.9 L1490.8 1252 L1493 1246.9 L1495.2 1241.5 L1497.4 1235.9 L1499.6 1230.1 L1501.9 1224.3 L1504.1 1218.3 L1506.3 1212.5 L1508.5 1206.7 L1510.7 1201.3 L1512.9 1196.1 L1515.1 1191.4 L1517.4 1187.2 L1519.6 1183.5 L1521.8 1180.5 L1524 1178 L1526.2 1176.3 L1528.4 1175.1 L1530.6 1174.6 L1532.8 1174.5 L1535 1174.8 L1537.2 1175.4 L1539.4 1176.3 L1541.6 1177.1 L1543.8 1178 L1546 1178.6 L1548.2 1178.9 L1550.4 1178.8 L1552.6 1178.2 L1554.8 1176.9 L1557 1175.1 L1559.2 1172.6 L1561.3 1169.4 L1563.5 1165.5 L1565.7 1160.9 L1567.9 1155.8 L1570.1 1150 L1572.3 1143.8 L1574.5 1137.1 L1576.6 1130.1 L1578.8 1122.9 L1581 1115.6 L1583.2 1108.2 L1585.4 1101 L1587.5 1094 L1589.7 1087.3 L1591.9 1081 L1594.1 1075.3 L1596.2 1070.3 L1598.4 1066 L1600.6 1062.5 L1602.7 1059.9 L1604.9 1058.3 L1607.1 1057.7 L1609.2 1058.1 L1611.4 1059.6 L1613.6 1063.5 L1615.7 1070.4 L1617.9 1080.1 L1620.1 1092.4 L1622.2 1106.8 L1624.4 1122.8 L1626.5 1140 L1628.7 1157.8 L1630.9 1175.6 L1633 1193.2 L1635.2 1210 L1637.3 1225.9 L1639.5 1240.5 L1641.6 1253.7 L1643.8 1265.5 L1645.9 1275.8 L1648.1 1284.7 L1650.2 1292.3 L1652.4 1298.7 L1654.5 1304.1 L1656.6 1308.5 L1658.8 1312.2 L1660.9 1315.2 L1663.1 1317.7 L1665.2 1319.8 L1667.3 1321.5 L1669.5 1322.9 L1671.6 1324.1 L1673.8 1325.2 L1675.9 1326.1 L1678 1326.9 L1680.2 1327.7 L1682.3 1328.3 L1684.4 1328.9 L1685.8 1329.3 L1691.5 1330.6 L1697.2 1331.7 L1702.8 1332.5 L1708.5 1333.2 L1714.1 1333.7 L1719.8 1334.1 L1725.4 1334.4 L1731 1334.6 L1736.7 1334.7 L1742.3 1334.7 L1747.9 1334.7 L1753.5 1334.7 L1759.1 1334.7 L1764.6 1334.6 L1770.2 1334.5 L1775.8 1334.4 L1781.3 1334.2 L1786.9 1334.1 L1792.4 1334 L1798 1333.8 L1798 1334.8 L1207.4 1350.7 Z" fill="#5E9ECE" stroke="none" stroke-width="1"/>
<path d="M1207.4 1344.3 L1213.7 1344.5 L1220 1344.8 L1226.2 1345.1 L1232.5 1345.4 L1238.8 1345.6 L1245 1345.5 L1251.3 1345.2 L1257.5 1344.7 L1263.7 1344.1 L1270 1343.4 L1276.2 1342.7 L1282.4 1342 L1288.6 1341.3 L1294.8 1340.7 L1300.9 1340 L1307.1 1339.4 L1313.3 1338.8 L1319.4 1338.1 L1325.6 1337.5 L1331.7 1336.9 L1337.8 1336.4 L1344 1335.9 L1350.1 1335.4 L1356.2 1335.1 L1362.3 1334.7 L1368.4 1334.2 L1374.5 1333.7 L1380.5 1333.1 L1386.6 1332.3 L1392.7 1331.3 L1398.7 1330 L1404.8 1328.3 L1410.8 1326.4 L1416.8 1324.1 L1422.8 1321.4 L1428.8 1318.3 L1434.9 1314.9 L1440.8 1311.1 L1446.8 1307 L1452.8 1302.4 L1455.1 1300.6 L1457.3 1298.7 L1459.5 1296.8 L1461.8 1294.7 L1464 1292.6 L1466.2 1290.3 L1468.5 1287.9 L1470.7 1285.4 L1472.9 1282.6 L1475.2 1279.7 L1477.4 1276.6 L1479.6 1273.2 L1481.9 1269.5 L1484.1 1265.6 L1486.3 1261.4 L1488.5 1256.9 L1490.8 1252 L1493 1246.9 L1495.2 1241.5 L1497.4 1235.9 L1499.6 1230.1 L1501.9 1224.3 L1504.1 1218.3 L1506.3 1212.5 L1508.5 1206.7 L1510.7 1201.3 L1512.9 1196.1 L1515.1 1191.4 L1517.4 1187.2 L1519.6 1183.5 L1521.8 1180.5 L1524 1178 L1526.2 1176.3 L1528.4 1175.1 L1530.6 1174.6 L1532.8 1174.5 L1535 1174.8 L1537.2 1175.4 L1539.4 1176.3 L1541.6 1177.1 L1543.8 1178 L1546 1178.6 L1548.2 1178.9 L1550.4 1178.8 L1552.6 1178.2 L1554.8 1176.9 L1557 1175.1 L1559.2 1172.6 L1561.3 1169.4 L1563.5 1165.5 L1565.7 1160.9 L1567.9 1155.8 L1570.1 1150 L1572.3 1143.8 L1574.5 1137.1 L1576.6 1130.1 L1578.8 1122.9 L1581 1115.6 L1583.2 1108.2 L1585.4 1101 L1587.5 1094 L1589.7 1087.3 L1591.9 1081 L1594.1 1075.3 L1596.2 1070.3 L1598.4 1066 L1600.6 1062.5 L1602.7 1059.9 L1604.9 1058.3 L1607.1 1057.7 L1609.2 1058.1 L1611.4 1059.6 L1613.6 1063.5 L1615.7 1070.4 L1617.9 1080.1 L1620.1 1092.4 L1622.2 1106.8 L1624.4 1122.8 L1626.5 1140 L1628.7 1157.8 L1630.9 1175.6 L1633 1193.2 L1635.2 1210 L1637.3 1225.9 L1639.5 1240.5 L1641.6 1253.7 L1643.8 1265.5 L1645.9 1275.8 L1648.1 1284.7 L1650.2 1292.3 L1652.4 1298.7 L1654.5 1304.1 L1656.6 1308.5 L1658.8 1312.2 L1660.9 1315.2 L1663.1 1317.7 L1665.2 1319.8 L1667.3 1321.5 L1669.5 1322.9 L1671.6 1324.1 L1673.8 1325.2 L1675.9 1326.1 L1678 1326.9 L1680.2 1327.7 L1682.3 1328.3 L1684.4 1328.9 L1685.8 1329.3 L1691.5 1330.6 L1697.2 1331.7 L1702.8 1332.5 L1708.5 1333.2 L1714.1 1333.7 L1719.8 1334.1 L1725.4 1334.4 L1731 1334.6 L1736.7 1334.7 L1742.3 1334.7 L1747.9 1334.7 L1753.5 1334.7 L1759.1 1334.7 L1764.6 1334.6 L1770.2 1334.5 L1775.8 1334.4 L1781.3 1334.2 L1786.9 1334.1 L1792.4 1334 L1798 1333.8" fill="none" stroke="#0a0a0a" stroke-width="1.55" stroke-linejoin="round"/>
<path d="M1180.7 1385.8 L1187.2 1385.9 L1193.7 1386.2 L1200.2 1386.5 L1206.7 1386.8 L1213.2 1386.9 L1219.6 1386.8 L1226.1 1386.5 L1232.5 1386 L1239 1385.3 L1245.4 1384.5 L1251.8 1383.8 L1258.2 1383.1 L1264.6 1382.4 L1271 1381.7 L1277.4 1381.1 L1283.8 1380.4 L1290.1 1379.8 L1296.5 1379.1 L1302.8 1378.5 L1309.2 1377.9 L1315.5 1377.3 L1321.8 1376.8 L1328.1 1376.4 L1334.5 1376 L1340.8 1375.6 L1347 1375.1 L1353.3 1374.6 L1359.6 1374 L1365.9 1373.2 L1372.1 1372.2 L1378.4 1370.9 L1384.6 1369.3 L1390.8 1367.4 L1397.1 1365.1 L1403.3 1362.5 L1409.5 1359.5 L1415.7 1356.2 L1421.9 1352.5 L1428 1348.4 L1434.2 1344 L1436.5 1342.2 L1438.8 1340.4 L1441.1 1338.5 L1443.5 1336.5 L1445.8 1334.4 L1448.1 1332.2 L1450.4 1329.9 L1452.7 1327.4 L1455 1324.8 L1457.3 1321.9 L1459.6 1318.9 L1461.9 1315.6 L1464.2 1312.1 L1466.5 1308.3 L1468.8 1304.2 L1471.1 1299.8 L1473.4 1295.1 L1475.7 1290.2 L1478 1284.9 L1480.2 1279.5 L1482.5 1273.9 L1484.8 1268.2 L1487.1 1262.5 L1489.4 1256.8 L1491.7 1251.3 L1494 1245.9 L1496.2 1240.9 L1498.5 1236.4 L1500.8 1232.3 L1503.1 1228.7 L1505.4 1225.7 L1507.6 1223.4 L1509.9 1221.7 L1512.2 1220.5 L1514.5 1219.9 L1516.7 1219.8 L1519 1220.1 L1521.3 1220.7 L1523.5 1221.5 L1525.8 1222.3 L1528.1 1223 L1530.3 1223.5 L1532.6 1223.8 L1534.9 1223.6 L1537.1 1222.9 L1539.4 1221.7 L1541.7 1219.8 L1543.9 1217.3 L1546.2 1214.1 L1548.4 1210.2 L1550.7 1205.7 L1552.9 1200.6 L1555.2 1194.9 L1557.4 1188.8 L1559.7 1182.2 L1561.9 1175.3 L1564.2 1168.2 L1566.4 1161 L1568.7 1153.8 L1570.9 1146.7 L1573.2 1139.7 L1575.4 1133.2 L1577.7 1127 L1579.9 1121.4 L1582.1 1116.4 L1584.4 1112.2 L1586.6 1108.7 L1588.9 1106.2 L1591.1 1104.6 L1593.3 1103.9 L1595.6 1104.3 L1597.8 1105.8 L1600 1109.5 L1602.3 1116.2 L1604.5 1125.7 L1606.7 1137.7 L1608.9 1151.8 L1611.2 1167.4 L1613.4 1184.2 L1615.6 1201.6 L1617.8 1219.1 L1620.1 1236.2 L1622.3 1252.7 L1624.5 1268.2 L1626.7 1282.4 L1628.9 1295.3 L1631.2 1306.8 L1633.4 1316.9 L1635.6 1325.6 L1637.8 1333 L1640 1339.3 L1642.2 1344.5 L1644.4 1348.8 L1646.6 1352.4 L1648.8 1355.3 L1651 1357.7 L1653.3 1359.7 L1655.5 1361.4 L1657.7 1362.8 L1659.9 1363.9 L1662.1 1364.9 L1664.3 1365.8 L1666.5 1366.6 L1668.7 1367.3 L1670.9 1367.9 L1673 1368.5 L1674.5 1368.8 L1680.4 1370.1 L1686.2 1371.1 L1692 1371.9 L1697.9 1372.5 L1703.7 1373 L1709.5 1373.3 L1715.3 1373.6 L1721.1 1373.7 L1726.9 1373.8 L1732.6 1373.8 L1738.4 1373.8 L1744.2 1373.7 L1749.9 1373.7 L1755.7 1373.5 L1761.4 1373.4 L1767.2 1373.3 L1772.9 1373.1 L1778.6 1373 L1784.3 1372.8 L1790 1372.7 L1790 1373.9 L1180.7 1392.9 Z" fill="#3C8AC4" stroke="none" stroke-width="1"/>
<path d="M1180.7 1385.8 L1187.2 1385.9 L1193.7 1386.2 L1200.2 1386.5 L1206.7 1386.8 L1213.2 1386.9 L1219.6 1386.8 L1226.1 1386.5 L1232.5 1386 L1239 1385.3 L1245.4 1384.5 L1251.8 1383.8 L1258.2 1383.1 L1264.6 1382.4 L1271 1381.7 L1277.4 1381.1 L1283.8 1380.4 L1290.1 1379.8 L1296.5 1379.1 L1302.8 1378.5 L1309.2 1377.9 L1315.5 1377.3 L1321.8 1376.8 L1328.1 1376.4 L1334.5 1376 L1340.8 1375.6 L1347 1375.1 L1353.3 1374.6 L1359.6 1374 L1365.9 1373.2 L1372.1 1372.2 L1378.4 1370.9 L1384.6 1369.3 L1390.8 1367.4 L1397.1 1365.1 L1403.3 1362.5 L1409.5 1359.5 L1415.7 1356.2 L1421.9 1352.5 L1428 1348.4 L1434.2 1344 L1436.5 1342.2 L1438.8 1340.4 L1441.1 1338.5 L1443.5 1336.5 L1445.8 1334.4 L1448.1 1332.2 L1450.4 1329.9 L1452.7 1327.4 L1455 1324.8 L1457.3 1321.9 L1459.6 1318.9 L1461.9 1315.6 L1464.2 1312.1 L1466.5 1308.3 L1468.8 1304.2 L1471.1 1299.8 L1473.4 1295.1 L1475.7 1290.2 L1478 1284.9 L1480.2 1279.5 L1482.5 1273.9 L1484.8 1268.2 L1487.1 1262.5 L1489.4 1256.8 L1491.7 1251.3 L1494 1245.9 L1496.2 1240.9 L1498.5 1236.4 L1500.8 1232.3 L1503.1 1228.7 L1505.4 1225.7 L1507.6 1223.4 L1509.9 1221.7 L1512.2 1220.5 L1514.5 1219.9 L1516.7 1219.8 L1519 1220.1 L1521.3 1220.7 L1523.5 1221.5 L1525.8 1222.3 L1528.1 1223 L1530.3 1223.5 L1532.6 1223.8 L1534.9 1223.6 L1537.1 1222.9 L1539.4 1221.7 L1541.7 1219.8 L1543.9 1217.3 L1546.2 1214.1 L1548.4 1210.2 L1550.7 1205.7 L1552.9 1200.6 L1555.2 1194.9 L1557.4 1188.8 L1559.7 1182.2 L1561.9 1175.3 L1564.2 1168.2 L1566.4 1161 L1568.7 1153.8 L1570.9 1146.7 L1573.2 1139.7 L1575.4 1133.2 L1577.7 1127 L1579.9 1121.4 L1582.1 1116.4 L1584.4 1112.2 L1586.6 1108.7 L1588.9 1106.2 L1591.1 1104.6 L1593.3 1103.9 L1595.6 1104.3 L1597.8 1105.8 L1600 1109.5 L1602.3 1116.2 L1604.5 1125.7 L1606.7 1137.7 L1608.9 1151.8 L1611.2 1167.4 L1613.4 1184.2 L1615.6 1201.6 L1617.8 1219.1 L1620.1 1236.2 L1622.3 1252.7 L1624.5 1268.2 L1626.7 1282.4 L1628.9 1295.3 L1631.2 1306.8 L1633.4 1316.9 L1635.6 1325.6 L1637.8 1333 L1640 1339.3 L1642.2 1344.5 L1644.4 1348.8 L1646.6 1352.4 L1648.8 1355.3 L1651 1357.7 L1653.3 1359.7 L1655.5 1361.4 L1657.7 1362.8 L1659.9 1363.9 L1662.1 1364.9 L1664.3 1365.8 L1666.5 1366.6 L1668.7 1367.3 L1670.9 1367.9 L1673 1368.5 L1674.5 1368.8 L1680.4 1370.1 L1686.2 1371.1 L1692 1371.9 L1697.9 1372.5 L1703.7 1373 L1709.5 1373.3 L1715.3 1373.6 L1721.1 1373.7 L1726.9 1373.8 L1732.6 1373.8 L1738.4 1373.8 L1744.2 1373.7 L1749.9 1373.7 L1755.7 1373.5 L1761.4 1373.4 L1767.2 1373.3 L1772.9 1373.1 L1778.6 1373 L1784.3 1372.8 L1790 1372.7" fill="none" stroke="#0a0a0a" stroke-width="1.55" stroke-linejoin="round"/>
<path d="M1152.4 1430.2 L1159.1 1430.4 L1165.8 1430.6 L1172.5 1430.9 L1179.2 1431.1 L1185.9 1431.2 L1192.6 1431.1 L1199.3 1430.8 L1206 1430.2 L1212.6 1429.4 L1219.3 1428.6 L1225.9 1427.8 L1232.5 1427.1 L1239.2 1426.3 L1245.8 1425.6 L1252.4 1424.9 L1259 1424.2 L1265.5 1423.5 L1272.1 1422.8 L1278.7 1422.2 L1285.2 1421.5 L1291.8 1420.9 L1298.3 1420.4 L1304.9 1419.9 L1311.4 1419.5 L1317.9 1419.1 L1324.4 1418.6 L1330.9 1418.1 L1337.4 1417.4 L1343.8 1416.6 L1350.3 1415.5 L1356.8 1414.2 L1363.2 1412.7 L1369.6 1410.7 L1376.1 1408.5 L1382.5 1405.9 L1388.9 1402.9 L1395.3 1399.6 L1401.7 1396 L1408.1 1392 L1414.5 1387.6 L1416.8 1385.8 L1419.2 1384 L1421.6 1382.1 L1424 1380.2 L1426.4 1378.1 L1428.8 1376 L1431.2 1373.7 L1433.5 1371.2 L1435.9 1368.6 L1438.3 1365.8 L1440.7 1362.8 L1443 1359.6 L1445.4 1356.1 L1447.8 1352.4 L1450.2 1348.4 L1452.5 1344.1 L1454.9 1339.5 L1457.3 1334.6 L1459.6 1329.5 L1462 1324.1 L1464.4 1318.6 L1466.7 1313 L1469.1 1307.4 L1471.5 1301.8 L1473.8 1296.4 L1476.2 1291.2 L1478.5 1286.2 L1480.9 1281.7 L1483.2 1277.7 L1485.6 1274.2 L1487.9 1271.3 L1490.3 1268.9 L1492.6 1267.2 L1495 1266.1 L1497.3 1265.5 L1499.7 1265.3 L1502 1265.6 L1504.4 1266.1 L1506.7 1266.8 L1509.1 1267.5 L1511.4 1268.1 L1513.7 1268.6 L1516.1 1268.7 L1518.4 1268.5 L1520.8 1267.7 L1523.1 1266.4 L1525.4 1264.5 L1527.7 1261.9 L1530.1 1258.7 L1532.4 1254.8 L1534.7 1250.2 L1537.1 1245.1 L1539.4 1239.4 L1541.7 1233.2 L1544 1226.6 L1546.4 1219.7 L1548.7 1212.6 L1551 1205.4 L1553.3 1198.2 L1555.6 1191 L1558 1184.1 L1560.3 1177.5 L1562.6 1171.4 L1564.9 1165.7 L1567.2 1160.8 L1569.5 1156.5 L1571.8 1153 L1574.1 1150.4 L1576.4 1148.8 L1578.8 1148.1 L1581.1 1148.5 L1583.4 1149.9 L1585.7 1153.5 L1588 1160.2 L1590.3 1169.6 L1592.6 1181.5 L1594.9 1195.4 L1597.2 1211 L1599.5 1227.6 L1601.7 1244.8 L1604 1262.2 L1606.3 1279.2 L1608.6 1295.5 L1610.9 1310.9 L1613.2 1325 L1615.5 1337.8 L1617.8 1349.2 L1620.1 1359.2 L1622.3 1367.8 L1624.6 1375.1 L1626.9 1381.3 L1629.2 1386.5 L1631.5 1390.8 L1633.7 1394.3 L1636 1397.1 L1638.3 1399.5 L1640.6 1401.5 L1642.8 1403.1 L1645.1 1404.4 L1647.4 1405.6 L1649.7 1406.5 L1651.9 1407.4 L1654.2 1408.1 L1656.5 1408.8 L1658.7 1409.4 L1661 1409.9 L1662.5 1410.3 L1668.5 1411.4 L1674.6 1412.4 L1680.6 1413.1 L1686.6 1413.7 L1692.6 1414.1 L1698.6 1414.4 L1704.6 1414.6 L1710.5 1414.7 L1716.5 1414.8 L1722.5 1414.7 L1728.4 1414.7 L1734.3 1414.6 L1740.3 1414.5 L1746.2 1414.3 L1752.1 1414.1 L1758 1414 L1763.9 1413.8 L1769.8 1413.6 L1775.7 1413.4 L1781.6 1413.2 L1781.6 1415.2 L1152.4 1437.8 Z" fill="#1B75BB" stroke="none" stroke-width="1"/>
<path d="M1152.4 1430.2 L1159.1 1430.4 L1165.8 1430.6 L1172.5 1430.9 L1179.2 1431.1 L1185.9 1431.2 L1192.6 1431.1 L1199.3 1430.8 L1206 1430.2 L1212.6 1429.4 L1219.3 1428.6 L1225.9 1427.8 L1232.5 1427.1 L1239.2 1426.3 L1245.8 1425.6 L1252.4 1424.9 L1259 1424.2 L1265.5 1423.5 L1272.1 1422.8 L1278.7 1422.2 L1285.2 1421.5 L1291.8 1420.9 L1298.3 1420.4 L1304.9 1419.9 L1311.4 1419.5 L1317.9 1419.1 L1324.4 1418.6 L1330.9 1418.1 L1337.4 1417.4 L1343.8 1416.6 L1350.3 1415.5 L1356.8 1414.2 L1363.2 1412.7 L1369.6 1410.7 L1376.1 1408.5 L1382.5 1405.9 L1388.9 1402.9 L1395.3 1399.6 L1401.7 1396 L1408.1 1392 L1414.5 1387.6 L1416.8 1385.8 L1419.2 1384 L1421.6 1382.1 L1424 1380.2 L1426.4 1378.1 L1428.8 1376 L1431.2 1373.7 L1433.5 1371.2 L1435.9 1368.6 L1438.3 1365.8 L1440.7 1362.8 L1443 1359.6 L1445.4 1356.1 L1447.8 1352.4 L1450.2 1348.4 L1452.5 1344.1 L1454.9 1339.5 L1457.3 1334.6 L1459.6 1329.5 L1462 1324.1 L1464.4 1318.6 L1466.7 1313 L1469.1 1307.4 L1471.5 1301.8 L1473.8 1296.4 L1476.2 1291.2 L1478.5 1286.2 L1480.9 1281.7 L1483.2 1277.7 L1485.6 1274.2 L1487.9 1271.3 L1490.3 1268.9 L1492.6 1267.2 L1495 1266.1 L1497.3 1265.5 L1499.7 1265.3 L1502 1265.6 L1504.4 1266.1 L1506.7 1266.8 L1509.1 1267.5 L1511.4 1268.1 L1513.7 1268.6 L1516.1 1268.7 L1518.4 1268.5 L1520.8 1267.7 L1523.1 1266.4 L1525.4 1264.5 L1527.7 1261.9 L1530.1 1258.7 L1532.4 1254.8 L1534.7 1250.2 L1537.1 1245.1 L1539.4 1239.4 L1541.7 1233.2 L1544 1226.6 L1546.4 1219.7 L1548.7 1212.6 L1551 1205.4 L1553.3 1198.2 L1555.6 1191 L1558 1184.1 L1560.3 1177.5 L1562.6 1171.4 L1564.9 1165.7 L1567.2 1160.8 L1569.5 1156.5 L1571.8 1153 L1574.1 1150.4 L1576.4 1148.8 L1578.8 1148.1 L1581.1 1148.5 L1583.4 1149.9 L1585.7 1153.5 L1588 1160.2 L1590.3 1169.6 L1592.6 1181.5 L1594.9 1195.4 L1597.2 1211 L1599.5 1227.6 L1601.7 1244.8 L1604 1262.2 L1606.3 1279.2 L1608.6 1295.5 L1610.9 1310.9 L1613.2 1325 L1615.5 1337.8 L1617.8 1349.2 L1620.1 1359.2 L1622.3 1367.8 L1624.6 1375.1 L1626.9 1381.3 L1629.2 1386.5 L1631.5 1390.8 L1633.7 1394.3 L1636 1397.1 L1638.3 1399.5 L1640.6 1401.5 L1642.8 1403.1 L1645.1 1404.4 L1647.4 1405.6 L1649.7 1406.5 L1651.9 1407.4 L1654.2 1408.1 L1656.5 1408.8 L1658.7 1409.4 L1661 1409.9 L1662.5 1410.3 L1668.5 1411.4 L1674.6 1412.4 L1680.6 1413.1 L1686.6 1413.7 L1692.6 1414.1 L1698.6 1414.4 L1704.6 1414.6 L1710.5 1414.7 L1716.5 1414.8 L1722.5 1414.7 L1728.4 1414.7 L1734.3 1414.6 L1740.3 1414.5 L1746.2 1414.3 L1752.1 1414.1 L1758 1414 L1763.9 1413.8 L1769.8 1413.6 L1775.7 1413.4 L1781.6 1413.2" fill="none" stroke="#0a0a0a" stroke-width="1.55" stroke-linejoin="round"/>
<line x1="1137.5" y1="992.9" x2="1137.5" y2="1462.8" stroke="#000" stroke-width="4.2"/>
<line x1="1133.9" y1="1462.1" x2="1137.5" y2="1462.1" stroke="#000" stroke-width="2.6"/>
<line x1="1133.9" y1="1403.7" x2="1137.5" y2="1403.7" stroke="#000" stroke-width="2.6"/>
<line x1="1133.9" y1="1345.2" x2="1137.5" y2="1345.2" stroke="#000" stroke-width="2.6"/>
<line x1="1133.9" y1="1286.8" x2="1137.5" y2="1286.8" stroke="#000" stroke-width="2.6"/>
<line x1="1133.9" y1="1228.4" x2="1137.5" y2="1228.4" stroke="#000" stroke-width="2.6"/>
<line x1="1133.9" y1="1170" x2="1137.5" y2="1170" stroke="#000" stroke-width="2.6"/>
<line x1="1133.9" y1="1111.5" x2="1137.5" y2="1111.5" stroke="#000" stroke-width="2.6"/>
<line x1="1133.9" y1="1053.1" x2="1137.5" y2="1053.1" stroke="#000" stroke-width="2.6"/>
<line x1="1133.9" y1="994.7" x2="1137.5" y2="994.7" stroke="#000" stroke-width="2.6"/>
<path d="M1135.4 1459.2 L1778.8 1435.3 L1778.8 1438.3 L1135.4 1463.5 Z" fill="#000" stroke="none" stroke-width="1"/>
<path d="M1777.2 1436.8 L1828.9 1183.2" fill="none" stroke="#000" stroke-width="3.4" stroke-linecap="square"/>
<line x1="1137.5" y1="1461.3" x2="1137.5" y2="1472.8" stroke="#000" stroke-width="3.1"/>
<line x1="1222.5" y1="1458" x2="1222.5" y2="1463.5" stroke="#000" stroke-width="2.7"/>
<line x1="1305.9" y1="1454.9" x2="1305.9" y2="1466.4" stroke="#000" stroke-width="3.1"/>
<line x1="1387.9" y1="1451.7" x2="1387.9" y2="1457.2" stroke="#000" stroke-width="2.7"/>
<line x1="1468.5" y1="1448.6" x2="1468.5" y2="1460.1" stroke="#000" stroke-width="3.1"/>
<line x1="1547.6" y1="1445.6" x2="1547.6" y2="1451.1" stroke="#000" stroke-width="2.7"/>
<line x1="1625.5" y1="1442.6" x2="1625.5" y2="1454.1" stroke="#000" stroke-width="3.1"/>
<line x1="1702" y1="1439.7" x2="1702" y2="1445.2" stroke="#000" stroke-width="2.7"/>
<line x1="1777.2" y1="1436.8" x2="1777.2" y2="1448.3" stroke="#000" stroke-width="3.1"/>
<line x1="1129" y1="1461.3" x2="1137.5" y2="1461.3" stroke="#000" stroke-width="3.2"/>
<line x1="1781.6" y1="1415.2" x2="1791.2" y2="1415.2" stroke="#000" stroke-width="3"/>
<line x1="1790" y1="1373.9" x2="1799.6" y2="1373.9" stroke="#000" stroke-width="3"/>
<line x1="1798" y1="1334.8" x2="1807.6" y2="1334.8" stroke="#000" stroke-width="3"/>
<line x1="1805.5" y1="1297.9" x2="1815.1" y2="1297.9" stroke="#000" stroke-width="3"/>
<line x1="1812.6" y1="1263" x2="1822.2" y2="1263" stroke="#000" stroke-width="3"/>
<line x1="1819.4" y1="1229.8" x2="1829" y2="1229.8" stroke="#000" stroke-width="3"/>
<line x1="1825.8" y1="1198.4" x2="1835.4" y2="1198.4" stroke="#000" stroke-width="3"/>
<line x1="1777.2" y1="1436.8" x2="1784.7" y2="1436.8" stroke="#000" stroke-width="2.8"/>
<line x1="1785.9" y1="1394.2" x2="1791.1" y2="1394.2" stroke="#000" stroke-width="2.6"/>
<line x1="1794.1" y1="1354.1" x2="1799.3" y2="1354.1" stroke="#000" stroke-width="2.6"/>
<line x1="1801.8" y1="1316.1" x2="1807" y2="1316.1" stroke="#000" stroke-width="2.6"/>
<line x1="1809.1" y1="1280.2" x2="1814.3" y2="1280.2" stroke="#000" stroke-width="2.6"/>
<line x1="1816.1" y1="1246.2" x2="1821.3" y2="1246.2" stroke="#000" stroke-width="2.6"/>
<line x1="1822.6" y1="1213.9" x2="1827.8" y2="1213.9" stroke="#000" stroke-width="2.6"/>
<line x1="1828.9" y1="1183.2" x2="1836.4" y2="1183.2" stroke="#000" stroke-width="2.8"/>
<text class="fs b" x="1137.5" y="1508.3" font-size="29.6" text-anchor="middle">400</text>
<text class="fs b" x="1306.8" y="1502.1" font-size="28.2" text-anchor="middle">500</text>
<text class="fs b" x="1469.9" y="1495" font-size="27.73" text-anchor="middle">600</text>
<text class="fs b" x="1627.8" y="1488.5" font-size="27.67" text-anchor="middle">700</text>
<text class="fs b" x="1778.9" y="1482.5" font-size="26.93" text-anchor="middle">800</text>
<text class="fs b" x="1813.6" y="1426.4" font-size="26.23" text-anchor="middle">60</text>
<text class="fs b" x="1820.8" y="1384.6" font-size="25.48" text-anchor="middle">40</text>
<text class="fs b" x="1827.8" y="1346" font-size="24.83" text-anchor="middle">20</text>
<text class="fs b" x="1835" y="1308.4" font-size="24.18" text-anchor="middle">10</text>
<text class="fs b" x="1835" y="1273.1" font-size="23.62" text-anchor="middle">5</text>
<text class="fs b" x="1840.6" y="1239.7" font-size="23.25" text-anchor="middle">3</text>
<text class="fs b" x="1842" y="1207.3" font-size="20.74" textLength="57.7" lengthAdjust="spacingAndGlyphs">Blank</text>
<text class="fs b" x="1364.4" y="1543.4" font-size="28.6" textLength="212.7" lengthAdjust="spacingAndGlyphs">Wavelength (nm)</text>
<text class="fs b" transform="translate(1117.3 1323.3) rotate(-90)" font-size="33.38" textLength="152.7" lengthAdjust="spacingAndGlyphs">Absorbance</text>
<text class="fs" transform="translate(1886.7 1364) rotate(-90) scale(0.658 1)" dy="0 1.22 1.22 1.22 1.22 1.22 1.22 1.22 1.22 1.22" font-size="27.6" stroke="#000" stroke-width="0.5">Time (min)</text>
<text class="fs" x="1184.6" y="859.3" font-size="52">d</text>
</g>
</svg>
</body></html>
